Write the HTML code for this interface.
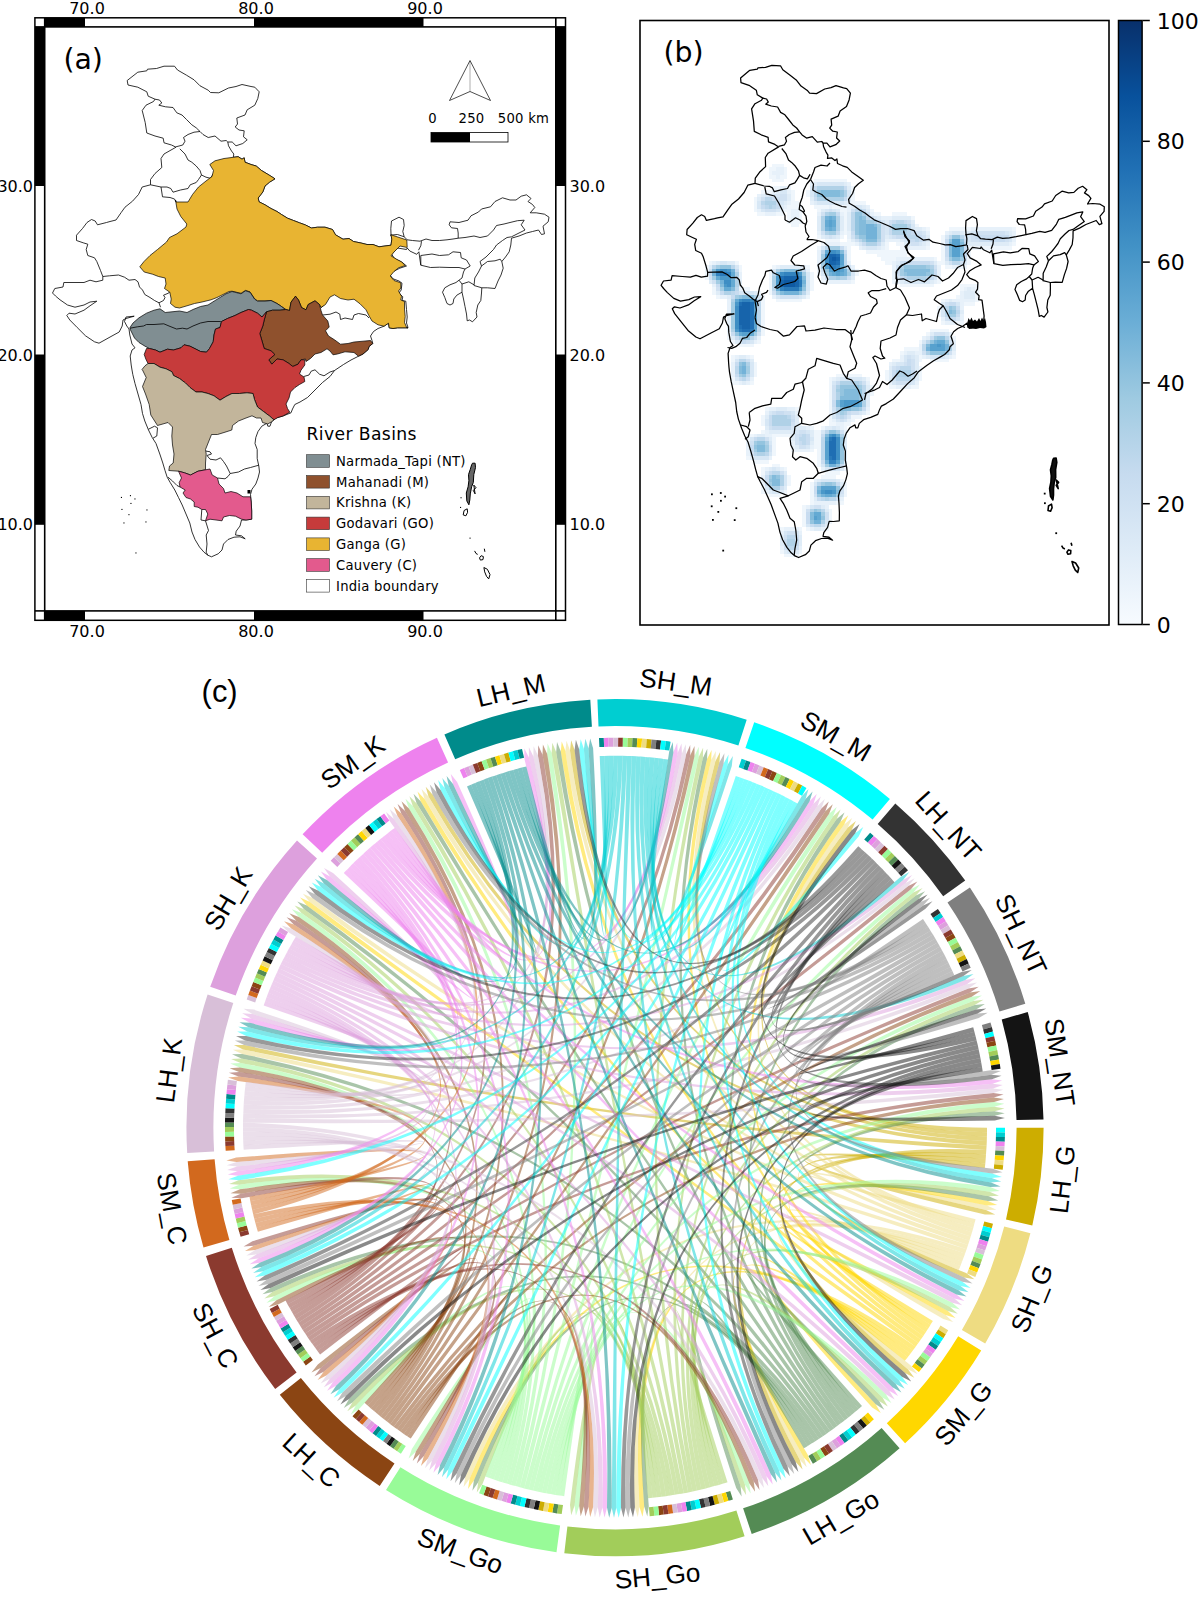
<!DOCTYPE html>
<html><head><meta charset="utf-8"><title>Figure</title><style>html,body{margin:0;padding:0;background:#fff}svg{display:block}</style></head><body>
<svg width="1200" height="1597" viewBox="0 0 1200 1597">
<g id="pa">
<rect x="34.15" y="17.05" width="532.1" height="604" fill="#000"/>
<rect x="45.5" y="27.7" width="509.5" height="582.4" fill="#fff"/>
<rect x="35.65" y="18.55" width="8.25" height="7.55" fill="#fff"/>
<rect x="85.00" y="18.55" width="169.00" height="7.55" fill="#fff"/>
<rect x="423.50" y="18.55" width="131.50" height="7.55" fill="#fff"/>
<rect x="556.60" y="18.55" width="8.15" height="7.55" fill="#fff"/>
<rect x="35.65" y="611.70" width="8.25" height="7.85" fill="#fff"/>
<rect x="85.00" y="611.70" width="169.00" height="7.85" fill="#fff"/>
<rect x="423.50" y="611.70" width="131.50" height="7.85" fill="#fff"/>
<rect x="556.60" y="611.70" width="8.15" height="7.85" fill="#fff"/>
<rect x="35.65" y="186.00" width="8.25" height="168.50" fill="#fff"/>
<rect x="35.65" y="524.80" width="8.25" height="85.30" fill="#fff"/>
<rect x="556.60" y="186.00" width="8.15" height="168.50" fill="#fff"/>
<rect x="556.60" y="524.80" width="8.15" height="85.30" fill="#fff"/>
<g fill="none" stroke="#000" stroke-width="0.8" stroke-linejoin="round">
<path d="M110.0,221.5 L116.0,220.0 L121.2,212.5 L125.0,207.2 L132.5,201.2 L138.5,194.5 L142.2,187.0 L150.5,184.8 L150.5,179.5 L155.0,173.5 L161.8,167.5 L161.0,158.5 L164.0,154.0 L176.0,147.2 L171.5,145.0 L164.0,142.8 L163.2,138.2 L155.0,136.0 L146.8,133.0 L145.2,122.5 L142.2,110.5 L146.0,105.2 L153.5,101.5 L155.0,99.2 L148.2,96.2 L146.8,91.8 L137.8,87.2 L128.0,85.0 L127.2,80.5 L134.0,75.2 L137.8,72.2 L146.8,70.8 L147.5,69.2 L156.5,68.5 L164.0,66.2 L174.5,66.2 L177.5,70.0 L186.5,75.2 L194.0,79.8 L200.0,85.8 L208.2,90.2 L210.5,92.5 L218.8,92.8 L228.5,88.0 L236.0,86.5 L242.0,84.5 L251.0,86.5 L254.8,87.2 L259.2,91.8 L257.8,98.5 L254.8,105.2 L247.2,109.8 L245.0,115.0 L236.8,118.0 L237.5,124.0 L235.2,127.0 L239.0,130.0 L244.2,130.8 L243.5,136.8 L247.2,139.8 L242.8,143.5 L236.0,145.8 L232.2,142.0 L227.8,142.0 L228.5,145.8 L231.5,151.0 L233.8,154.0 L233.3,157.3 L238.2,156.7 L242.0,159.2 L244.2,157.8 L245.0,162.2 L251.0,164.5 L256.2,166.0 L261.5,170.5 L269.0,175.0 L275.0,178.8 L269.5,182.2 L265.0,186.0 L262.8,192.0 L258.2,198.0 L259.0,201.8 L265.0,204.8 L271.0,208.5 L277.0,211.5 L281.5,214.5 L287.5,218.2 L293.5,220.5 L299.5,222.8 L305.5,225.0 L311.5,228.0 L317.5,227.2 L325.0,227.2 L332.5,229.5 L335.5,234.8 L343.0,239.2 L349.0,238.5 L353.5,241.5 L361.0,243.0 L367.0,244.5 L373.0,244.5 L379.0,246.8 L385.0,246.0 L391.0,245.2 L391.8,239.2 L391.0,234.0 L390.8,228.5 L391.5,221.0 L399.0,217.2 L403.5,219.5 L404.2,225.5 L402.8,231.5 L404.2,236.8 L407.2,239.8 L412.5,240.5 L420.0,241.2 L426.0,239.0 L432.0,240.5 L439.5,240.5 L447.0,239.8 L453.0,239.0 L458.2,238.2 L458.2,233.0 L457.5,228.5 L451.5,227.8 L449.2,224.8 L450.0,221.8 L459.0,222.5 L468.0,220.2 L471.0,215.8 L478.5,212.0 L481.5,209.0 L490.5,206.8 L495.0,201.5 L502.5,197.8 L510.0,200.0 L516.0,200.0 L521.2,196.2 L526.5,194.8 L531.0,198.5 L528.0,201.5 L532.5,204.5 L534.8,207.5 L530.2,212.8 L536.2,212.8 L544.5,214.2 L549.0,217.2 L548.2,221.8 L543.0,226.2 L544.5,233.8 L541.5,234.5 L538.5,230.0 L532.5,231.5 L526.5,233.0 L519.0,236.0 L511.5,238.2 L510.8,245.0 L509.2,251.8 L505.5,257.0 L501.8,261.5 L503.2,268.2 L501.0,275.0 L498.0,281.0 L495.0,288.5 L487.5,287.8 L481.8,287.8 L481.5,293.0 L480.8,300.5 L477.8,305.0 L476.2,312.5 L477.0,317.0 L472.5,321.8 L469.5,320.0 L467.2,320.8 L466.5,314.0 L465.0,306.5 L463.5,299.0 L462.0,292.2 L456.8,295.2 L453.8,299.0 L453.0,303.5 L450.0,305.0 L447.0,303.5 L444.8,297.5 L442.5,292.2 L444.8,287.8 L450.0,284.8 L456.0,282.5 L459.0,280.2 L462.0,278.0 L463.5,272.0 L465.0,269.0 L459.0,267.5 L450.0,267.5 L439.5,267.2 L430.5,267.5 L420.8,265.2 L420.0,260.0 L418.9,251.8 L416.7,254.3 L409.8,251.0 L407.2,248.0 L406.5,249.5 L397.5,248.0 L391.5,254.0 L394.5,258.5 L402.0,262.2 L406.5,266.0 L399.8,268.2 L393.8,271.2 L390.0,275.0 L393.0,278.8 L399.0,281.0 L402.0,283.2 L401.2,290.0 L399.0,293.0 L402.8,296.8 L402.0,300.5 L405.8,301.2 L406.5,309.5 L407.2,317.0 L406.5,323.0 L408.0,327.5 L408.0,327.8 L402.0,327.8 L397.5,327.8 L393.0,328.5 L389.2,327.8 L388.5,323.2 L384.0,326.2 L378.0,328.5 L373.5,331.5 L370.5,336.0 L372.0,340.5 L372.8,343.5 L369.0,346.5 L368.2,349.5 L363.0,354.0 L358.5,356.2 L351.0,360.0 L343.5,364.5 L334.5,370.5 L330.0,376.5 L322.5,382.5 L315.0,390.0 L307.5,397.5 L300.0,402.0 L294.8,404.5 L292.5,409.0 L291.0,412.8 L283.5,415.8 L276.0,418.0 L271.5,421.8 L270.0,426.2 L267.8,426.2 L267.0,423.2 L261.8,426.2 L258.0,431.5 L255.8,437.5 L255.0,443.5 L257.2,449.5 L257.2,458.5 L258.8,466.0 L259.5,472.0 L258.0,478.0 L255.8,484.0 L252.0,489.2 L250.5,494.5 L251.2,502.0 L251.7,511.0 L251.7,519.2 L246.0,520.0 L241.5,520.0 L240.0,526.0 L236.2,531.2 L235.5,535.0 L241.5,535.8 L245.2,538.8 L240.0,536.8 L234.0,537.2 L228.0,539.5 L223.5,544.0 L222.0,550.0 L218.2,553.8 L211.5,556.8 L207.8,555.2 L204.0,552.2 L199.5,547.0 L195.0,539.5 L192.0,532.0 L189.8,523.0 L186.0,514.0 L182.2,505.0 L178.5,497.5 L174.8,490.0 L170.2,482.5 L167.2,477.2 L165.0,470.5 L162.8,463.0 L159.8,454.0 L156.0,443.5 L152.2,437.5 L148.5,430.0 L144.8,421.0 L142.5,413.5 L141.0,404.5 L138.0,394.0 L135.0,383.5 L132.8,374.5 L132.0,370.0 L131.2,365.0 L130.2,356.0 L132.0,350.0 L135.0,347.8 L132.0,344.0 L129.8,335.0 L129.0,329.0 L126.8,326.0 L124.5,321.5 L126.0,317.0 L134.2,316.2 L126.0,318.5 L123.0,320.0 L122.2,326.0 L119.2,332.0 L111.0,336.5 L99.0,343.2 L94.5,341.8 L85.5,335.8 L77.2,327.5 L69.8,320.0 L66.8,315.5 L69.0,313.2 L75.0,314.0 L84.0,310.2 L90.0,305.8 L96.8,301.2 L90.0,302.0 L84.0,305.0 L75.0,307.2 L67.5,305.0 L60.0,299.8 L55.5,296.0 L52.5,293.0 L54.8,288.5 L63.0,287.0 L63.8,282.5 L75.0,282.5 L84.0,282.5 L90.0,280.2 L96.0,281.8 L102.8,280.2 L102.8,276.5 L100.5,270.5 L96.8,261.5 L94.5,257.8 L87.8,255.5 L86.2,249.5 L87.8,244.2 L83.2,242.8 L76.5,240.5 L76.5,235.2 L82.5,228.5 L87.0,222.5 L91.5,219.5 L95.2,221.0 L97.5,224.8 L106.5,222.5Z" fill="#fff"/>
<path d="M155.0,99.2 L159.5,100.0 L161.8,103.0 L158.8,105.2 L165.5,106.8 L173.0,107.5 L176.8,112.8 L182.0,115.0 L186.5,119.5 L191.8,124.8 L196.2,127.8 L200.0,131.5 L203.0,134.5 L208.2,137.5 L215.0,136.0 L221.0,141.2 L226.2,140.5 L227.8,142.0"/>
<path d="M200.0,131.5 L194.0,132.2 L188.0,134.5 L183.5,137.5 L185.0,141.2 L182.8,145.0 L176.0,146.8"/>
<path d="M179.8,148.8 L185.0,154.0 L188.0,160.0 L191.8,162.2 L196.2,166.0 L200.0,170.5 L201.5,175.0 L206.0,177.2 L210.5,178.3 L213.5,173.5"/>
<path d="M150.5,184.8 L161.0,187.0 L167.0,187.0 L170.8,188.5 L173.0,192.2 L180.5,190.0 L188.0,188.5 L190.2,184.8 L196.2,182.5 L198.5,179.5 L201.5,175.0"/>
<path d="M161.0,187.0 L162.5,196.8 L170.0,197.5 L174.5,199.0 L176.0,202.0"/>
<path d="M102.8,276.5 L109.5,275.8 L118.5,275.0 L124.5,277.2 L129.0,280.2 L135.0,279.5 L138.0,281.8 L139.5,287.0 L142.5,290.0 L144.8,294.5 L150.0,297.5 L154.5,300.5 L159.0,302.8 L160.5,307.2"/>
<path d="M159.0,302.8 L163.5,300.5 L165.0,297.5 L163.5,295.2 L168.8,293.0 L170.2,290.8"/>
<path d="M148.5,429.2 L154.5,426.2 L157.5,427.8 L156.8,436.0 L153.0,438.2"/>
<path d="M168.0,477.2 L172.5,481.0 L177.0,485.5 L180.0,487.0"/>
<path d="M201.8,509.5 L201.0,520.0 L205.5,520.8 L208.5,530.5 L206.2,535.0 L207.0,544.0 L206.2,552.2 L207.8,555.2"/>
<path d="M205.5,451.0 L210.0,451.8 L211.5,454.0 L207.0,455.5 L210.0,459.2 L216.0,460.0 L220.5,457.8 L223.5,461.5 L226.5,466.0 L230.2,473.5 L238.5,472.0 L244.5,469.0 L250.5,467.5 L258.8,465.2"/>
<path d="M230.2,473.5 L228.0,476.5 L225.0,478.8 L217.5,478.0"/>
<path d="M322.5,315.0 L330.0,314.2 L336.0,312.0 L339.8,314.2 L340.5,319.5 L345.0,318.0 L352.5,319.5 L354.0,315.0 L358.5,313.5 L366.0,315.0 L369.0,318.0"/>
<path d="M321.0,307.5 L323.2,306.0 L326.2,302.2 L321.8,299.2"/>
<path d="M303.8,376.5 L309.0,375.0 L311.2,371.2 L315.0,369.8 L319.5,374.2 L324.0,375.8 L330.0,372.0 L334.5,370.5"/>
<path d="M390.0,235.2 L397.5,234.5 L404.2,236.8"/>
<path d="M421.5,241.2 L420.8,245.8 L418.5,250.2"/>
<path d="M458.2,238.2 L465.0,237.5 L474.0,236.0 L480.0,237.5 L487.5,236.0 L493.5,230.0 L496.5,225.5 L504.0,224.0 L510.0,222.5 L517.5,220.7 L524.2,220.2 L521.2,224.8 L525.0,230.0 L519.0,233.0 L511.5,236.8"/>
<path d="M511.5,236.8 L507.0,237.5 L502.5,240.5 L496.5,245.0 L493.5,249.5 L489.0,254.0 L486.0,257.0 L480.0,261.5 L481.5,266.0"/>
<path d="M481.5,266.0 L487.5,261.5 L495.0,260.8 L500.2,259.2 L501.8,261.5"/>
<path d="M481.5,266.0 L478.5,272.0 L474.8,278.0 L474.0,285.5 L481.8,287.8"/>
<path d="M420.8,265.2 L420.8,255.5 L432.0,254.0 L439.5,255.5 L448.5,254.8 L453.0,251.8 L460.5,252.5 L461.2,257.8 L466.5,260.0 L470.2,266.0 L465.0,269.0"/>
<path d="M462.0,292.2 L462.0,284.0 L468.8,281.8 L474.0,284.8"/>
<path d="M459.0,280.2 L462.0,284.0"/>
<path d="M233.3,157.3 L238.2,156.7 L242.0,159.2 L244.2,157.8 L245.0,162.2 L251.0,164.5 L256.2,166.0 L261.5,170.5 L269.0,175.0 L275.0,178.8 L269.5,182.2 L265.0,186.0 L262.8,192.0 L258.2,198.0 L259.0,201.8 L265.0,204.8 L271.0,208.5 L277.0,211.5 L281.5,214.5 L287.5,218.2 L293.5,220.5 L299.5,222.8 L305.5,225.0 L311.5,228.0 L317.5,227.2 L325.0,227.2 L332.5,229.5 L335.5,234.8 L343.0,239.2 L349.0,238.5 L353.5,241.5 L361.0,243.0 L367.0,244.5 L373.0,244.5 L379.0,246.8 L385.0,246.0 L391.0,245.2 L391.8,239.2 L391.0,234.8 L406.8,240.0 L407.2,247.5 L400.0,246.0 L394.0,252.0 L391.0,255.8 L397.0,259.5 L401.5,261.8 L405.2,265.5 L398.5,267.8 L394.0,271.5 L390.2,276.0 L394.0,280.5 L400.8,282.8 L400.8,288.0 L398.5,291.0 L401.5,296.2 L400.8,300.0 L404.5,301.5 L404.5,309.0 L405.2,316.5 L404.5,322.5 L406.8,327.8 L408.0,327.8 L402.0,327.8 L397.5,327.8 L393.0,328.5 L389.2,327.8 L388.5,323.2 L384.0,326.2 L378.0,324.8 L372.0,321.0 L369.0,315.8 L366.0,309.8 L360.0,303.8 L354.0,299.2 L348.0,300.0 L340.5,298.5 L334.5,294.8 L330.0,297.0 L325.5,304.5 L321.0,307.5 L319.5,304.5 L315.0,300.8 L308.2,304.5 L306.0,309.8 L301.5,307.5 L298.5,300.0 L295.5,296.2 L291.0,302.2 L289.5,310.5 L286.0,309.5 L281.5,306.5 L277.0,303.5 L271.0,300.5 L265.0,300.8 L257.5,300.8 L254.5,298.7 L250.0,291.9 L245.5,290.4 L241.0,293.3 L232.0,291.2 L229.0,291.5 L223.0,294.5 L217.0,297.5 L211.0,299.8 L202.0,302.0 L194.5,303.5 L187.0,305.8 L179.5,308.0 L175.0,307.2 L170.5,303.5 L171.2,299.0 L169.8,292.2 L164.5,288.5 L166.0,284.0 L165.2,278.0 L158.5,276.5 L152.5,274.2 L144.2,272.0 L139.8,266.8 L144.0,261.5 L150.0,255.5 L157.5,249.5 L166.5,242.0 L169.5,237.5 L177.0,233.8 L186.0,227.0 L186.8,224.0 L180.8,216.5 L177.0,209.0 L175.5,200.0 L176.0,202.0 L188.0,202.0 L192.5,194.5 L198.5,187.0 L206.0,181.0 L212.0,176.5 L213.5,170.5 L209.8,164.5 L215.0,160.8 L224.0,158.5Z" fill="#e8b432" stroke-width="0.7"/>
<path d="M130.0,327.5 L133.0,323.0 L139.0,317.8 L146.5,313.2 L154.0,310.2 L160.0,308.8 L165.2,312.5 L172.0,311.8 L179.5,311.0 L187.0,312.5 L193.0,309.5 L200.5,306.5 L208.0,305.0 L214.0,301.2 L220.0,297.5 L226.0,293.8 L232.0,291.5 L241.0,293.8 L245.5,290.8 L250.0,292.2 L254.5,299.0 L257.5,301.2 L265.0,301.2 L271.0,300.5 L277.0,303.5 L281.5,306.5 L285.2,309.5 L280.0,310.2 L272.5,310.2 L266.5,311.8 L262.0,317.0 L257.5,313.2 L251.5,310.2 L248.5,309.5 L241.0,312.5 L235.0,315.5 L227.5,318.5 L221.5,321.5 L220.0,327.5 L215.5,329.0 L214.0,335.0 L213.2,341.8 L209.5,348.5 L206.5,352.2 L200.5,351.5 L196.0,349.2 L190.0,346.2 L184.0,344.8 L181.0,347.8 L173.5,350.0 L167.5,349.2 L160.0,352.2 L155.5,350.0 L149.5,348.5 L145.0,346.2 L139.0,342.5 L134.5,338.0 L131.5,332.0 L130.0,329.0Z" fill="#808e92" stroke-width="0.7"/>
<path d="M286.0,309.5 L280.0,310.2 L272.5,310.2 L266.5,311.8 L264.2,320.0 L262.8,326.0 L259.8,333.5 L262.0,341.0 L264.2,348.5 L271.0,350.8 L274.8,354.5 L268.8,359.8 L271.8,364.2 L277.0,359.0 L283.0,359.8 L289.0,363.5 L292.8,366.5 L298.0,364.2 L301.0,359.8 L305.5,359.0 L306.0,361.5 L310.5,358.5 L315.0,354.0 L321.0,352.5 L327.0,348.8 L330.0,351.0 L333.0,354.8 L337.5,354.0 L345.0,351.8 L354.0,352.5 L358.5,356.2 L363.0,354.0 L368.2,349.5 L369.0,346.5 L372.8,343.5 L370.5,340.5 L363.0,341.2 L354.0,342.0 L348.0,343.5 L340.5,344.2 L334.5,339.8 L328.5,336.0 L325.5,330.8 L329.2,327.0 L327.8,321.0 L322.5,315.0 L321.0,310.5 L319.5,304.5 L315.0,300.8 L308.2,304.5 L306.0,309.8 L301.5,307.5 L298.5,300.0 L295.5,296.2 L291.0,302.2 L289.5,310.5Z" fill="#8f512d" stroke-width="0.7"/>
<path d="M144.2,354.5 L146.5,348.5 L149.5,348.5 L155.5,350.0 L160.0,352.2 L167.5,349.2 L173.5,350.0 L181.0,347.8 L184.0,344.8 L190.0,346.2 L196.0,349.2 L200.5,351.5 L206.5,352.2 L209.5,348.5 L213.2,341.8 L214.0,335.0 L215.5,329.0 L220.0,327.5 L221.5,321.5 L227.5,318.5 L235.0,315.5 L241.0,312.5 L248.5,309.5 L251.5,310.2 L257.5,313.2 L262.0,317.0 L266.5,311.8 L264.2,320.0 L262.8,326.0 L259.8,333.5 L262.0,341.0 L264.2,348.5 L271.0,350.8 L274.8,354.5 L268.8,359.8 L271.8,364.2 L277.0,359.0 L283.0,359.8 L289.0,363.5 L292.8,366.5 L298.0,364.2 L301.0,359.8 L304.8,359.8 L304.8,365.0 L301.0,370.2 L299.5,374.0 L304.0,377.0 L304.8,381.5 L299.5,384.5 L295.0,387.5 L290.5,392.0 L289.0,398.0 L286.0,404.0 L287.5,408.5 L289.8,412.2 L283.0,416.0 L277.8,417.5 L274.0,419.8 L269.5,416.0 L263.5,411.5 L257.5,407.0 L254.5,399.5 L253.0,393.5 L247.0,392.8 L239.5,393.5 L232.0,393.5 L226.0,396.5 L220.0,400.2 L214.0,395.8 L208.0,393.5 L202.0,392.0 L196.0,392.0 L190.0,387.5 L185.5,383.0 L179.5,378.5 L173.5,375.5 L172.0,371.8 L166.0,368.8 L160.0,367.2 L154.0,363.5 L148.0,363.5 L145.8,359.0Z" fill="#c63b3b" stroke-width="0.7"/>
<path d="M142.0,369.5 L145.0,365.8 L148.0,363.5 L154.0,363.5 L160.0,367.2 L166.0,368.8 L172.0,371.8 L173.5,375.5 L179.5,378.5 L185.5,383.0 L190.0,387.5 L196.0,392.0 L202.0,392.0 L208.0,393.5 L214.0,395.8 L220.0,400.2 L226.0,396.5 L232.0,393.5 L239.5,393.5 L247.0,392.8 L253.0,393.5 L254.5,399.5 L257.5,407.0 L263.5,411.5 L269.5,416.0 L274.0,419.8 L271.5,421.8 L267.8,424.0 L262.5,422.5 L261.0,418.0 L256.5,418.0 L252.0,415.8 L246.0,418.0 L238.5,421.0 L232.5,425.5 L231.8,430.0 L225.0,432.2 L217.5,434.5 L211.5,434.5 L208.5,442.0 L205.5,449.5 L206.2,454.0 L205.5,463.0 L205.5,469.8 L198.0,471.2 L190.5,475.0 L184.5,472.8 L178.5,471.2 L168.8,470.5 L169.5,466.0 L173.2,463.0 L174.0,454.0 L172.5,445.0 L171.8,436.0 L172.5,427.0 L168.0,422.5 L157.5,425.5 L150.8,415.0 L149.2,404.5 L145.5,394.0 L142.5,386.5 L146.2,377.5 L142.5,370.0Z" fill="#c2b59b" stroke-width="0.7"/>
<path d="M178.5,471.2 L184.5,472.8 L190.5,475.0 L198.0,471.2 L205.5,469.8 L210.0,469.0 L212.2,475.0 L217.5,478.0 L219.0,484.0 L223.5,488.5 L225.0,493.0 L231.0,491.5 L237.0,493.0 L243.0,496.8 L250.5,496.8 L251.2,502.0 L251.7,511.0 L251.7,519.2 L246.0,520.0 L241.5,519.2 L235.5,516.2 L229.5,515.5 L223.5,517.0 L222.0,520.8 L216.0,520.0 L210.0,519.2 L205.5,520.8 L207.8,514.0 L205.5,509.5 L201.8,509.5 L198.0,507.2 L194.2,506.5 L194.2,502.0 L190.5,499.0 L186.0,497.5 L183.0,493.0 L185.2,490.0 L180.0,487.0 L179.2,482.5 L181.5,478.0Z" fill="#e35a8d" stroke-width="0.7"/>
<path d="M130.0,328.2 L137.5,326.8 L143.5,326.0 L146.5,324.5 L154.0,324.5 L163.8,323.8 L169.0,326.0 L176.5,329.0 L182.5,328.2 L187.0,329.0 L193.0,326.0 L200.5,323.0 L208.0,321.5 L214.0,321.5 L220.8,321.5"/>
<path d="M472.5,463.2 L475.1,463.2 L475.5,467.5 L473.8,474.6 L473.3,482.5 L471.6,486.8 L470.3,493.9 L469.8,500.0 L468.9,504.8 L466.8,500.9 L466.3,493.0 L468.1,486.8 L468.9,480.7 L468.5,474.6 L470.3,469.3 L471.6,464.9Z" stroke-width="1.0" fill="#666"/>
<path d="M473.8,485.1 L476.0,487.7 L473.3,490.4 L475.1,493.9Z" stroke-width="1.0"/>
<path d="M463.2,514.9 L464.1,510.5 L467.2,508.8 L467.6,512.3 L465.9,515.8Z" stroke-width="1.0"/>
<path d="M483.9,567.5 L487.4,569.3 L490.0,574.6 L488.7,578.9 L486.5,576.3 L484.7,571.9Z" stroke-width="1.0"/>
<path d="M479.5,557.9 L481.2,555.7 L483.4,556.6 L483.0,559.6 L480.4,560.1Z" stroke-width="1.0"/>
<path d="M474.6,550.9 L476.0,553.5 L477.7,554.4" stroke-width="1.0"/>
<path d="M484.3,548.7 L484.9,551.8" stroke-width="1.0"/>
</g>
<rect x="120.9" y="496.9" width="1.1" height="1.1" fill="#000"/>
<rect x="129.9" y="495.1" width="1.1" height="1.1" fill="#000"/>
<rect x="134.4" y="498.4" width="1.1" height="1.1" fill="#000"/>
<rect x="130.4" y="502.9" width="1.1" height="1.1" fill="#000"/>
<rect x="121.4" y="508.9" width="1.1" height="1.1" fill="#000"/>
<rect x="128.4" y="514.1" width="1.1" height="1.1" fill="#000"/>
<rect x="146.4" y="509.4" width="1.1" height="1.1" fill="#000"/>
<rect x="123.4" y="522.4" width="1.1" height="1.1" fill="#000"/>
<rect x="145.4" y="521.4" width="1.1" height="1.1" fill="#000"/>
<rect x="135.4" y="552.4" width="1.1" height="1.1" fill="#000"/>
<rect x="460.5" y="497.2" width="1.1" height="1.1" fill="#000"/>
<rect x="460.0" y="506.9" width="1.1" height="1.1" fill="#000"/>
<rect x="469.5" y="537.6" width="1.1" height="1.1" fill="#000"/>
<rect x="247.5" y="490" width="3" height="3.5" fill="#000"/>
</g>
<g id="pb">
<rect x="640" y="20.5" width="469" height="604.5" fill="#fff" stroke="#000" stroke-width="1.6"/>
<g shape-rendering="crispEdges">
<rect x="772.25" y="163.50" width="11.30" height="3.80" fill="#eff6fc"/>
<rect x="768.50" y="167.25" width="7.55" height="3.80" fill="#eff6fc"/>
<rect x="776.00" y="167.25" width="7.55" height="3.80" fill="#e7f1fa"/>
<rect x="783.50" y="167.25" width="3.80" height="3.80" fill="#eff6fc"/>
<rect x="768.50" y="171.00" width="3.80" height="3.80" fill="#eff6fc"/>
<rect x="772.25" y="171.00" width="11.30" height="3.80" fill="#e7f1fa"/>
<rect x="783.50" y="171.00" width="3.80" height="3.80" fill="#eff6fc"/>
<rect x="768.50" y="174.75" width="7.55" height="3.80" fill="#eff6fc"/>
<rect x="776.00" y="174.75" width="3.80" height="3.80" fill="#e7f1fa"/>
<rect x="779.75" y="174.75" width="7.55" height="3.80" fill="#eff6fc"/>
<rect x="772.25" y="178.50" width="11.30" height="3.80" fill="#eff6fc"/>
<rect x="813.50" y="178.50" width="33.80" height="3.80" fill="#eff6fc"/>
<rect x="809.75" y="182.25" width="3.80" height="3.80" fill="#e7f1fa"/>
<rect x="813.50" y="182.25" width="3.80" height="3.80" fill="#dfecf7"/>
<rect x="817.25" y="182.25" width="26.30" height="3.80" fill="#d7e7f5"/>
<rect x="843.50" y="182.25" width="3.80" height="3.80" fill="#dfecf7"/>
<rect x="847.25" y="182.25" width="3.80" height="3.80" fill="#e7f1fa"/>
<rect x="772.25" y="186.00" width="7.55" height="3.80" fill="#eff6fc"/>
<rect x="779.75" y="186.00" width="7.55" height="3.80" fill="#e7f1fa"/>
<rect x="787.25" y="186.00" width="3.80" height="3.80" fill="#eff6fc"/>
<rect x="809.75" y="186.00" width="3.80" height="3.80" fill="#dfecf7"/>
<rect x="813.50" y="186.00" width="3.80" height="3.80" fill="#c8dcf0"/>
<rect x="817.25" y="186.00" width="26.30" height="3.80" fill="#b0d1e7"/>
<rect x="843.50" y="186.00" width="3.80" height="3.80" fill="#c8dcf0"/>
<rect x="847.25" y="186.00" width="3.80" height="3.80" fill="#dfecf7"/>
<rect x="851.00" y="186.00" width="3.80" height="3.80" fill="#eff6fc"/>
<rect x="761.00" y="189.75" width="11.30" height="3.80" fill="#eff6fc"/>
<rect x="772.25" y="189.75" width="3.80" height="3.80" fill="#e7f1fa"/>
<rect x="776.00" y="189.75" width="3.80" height="3.80" fill="#dfecf7"/>
<rect x="779.75" y="189.75" width="7.55" height="3.80" fill="#d7e7f5"/>
<rect x="787.25" y="189.75" width="3.80" height="3.80" fill="#e7f1fa"/>
<rect x="791.00" y="189.75" width="3.80" height="3.80" fill="#eff6fc"/>
<rect x="806.00" y="189.75" width="3.80" height="3.80" fill="#eff6fc"/>
<rect x="809.75" y="189.75" width="3.80" height="3.80" fill="#d7e7f5"/>
<rect x="813.50" y="189.75" width="3.80" height="3.80" fill="#bcd7ec"/>
<rect x="817.25" y="189.75" width="3.80" height="3.80" fill="#94c4df"/>
<rect x="821.00" y="189.75" width="18.80" height="3.80" fill="#83bbdb"/>
<rect x="839.75" y="189.75" width="3.80" height="3.80" fill="#94c4df"/>
<rect x="843.50" y="189.75" width="3.80" height="3.80" fill="#b0d1e7"/>
<rect x="847.25" y="189.75" width="3.80" height="3.80" fill="#d7e7f5"/>
<rect x="851.00" y="189.75" width="3.80" height="3.80" fill="#eff6fc"/>
<rect x="757.25" y="193.50" width="3.80" height="3.80" fill="#e7f1fa"/>
<rect x="761.00" y="193.50" width="3.80" height="3.80" fill="#dfecf7"/>
<rect x="764.75" y="193.50" width="15.05" height="3.80" fill="#d7e7f5"/>
<rect x="779.75" y="193.50" width="7.55" height="3.80" fill="#d0e1f2"/>
<rect x="787.25" y="193.50" width="3.80" height="3.80" fill="#dfecf7"/>
<rect x="791.00" y="193.50" width="3.80" height="3.80" fill="#eff6fc"/>
<rect x="806.00" y="193.50" width="3.80" height="3.80" fill="#eff6fc"/>
<rect x="809.75" y="193.50" width="3.80" height="3.80" fill="#d7e7f5"/>
<rect x="813.50" y="193.50" width="3.80" height="3.80" fill="#bcd7ec"/>
<rect x="817.25" y="193.50" width="3.80" height="3.80" fill="#94c4df"/>
<rect x="821.00" y="193.50" width="18.80" height="3.80" fill="#83bbdb"/>
<rect x="839.75" y="193.50" width="3.80" height="3.80" fill="#94c4df"/>
<rect x="843.50" y="193.50" width="3.80" height="3.80" fill="#b0d1e7"/>
<rect x="847.25" y="193.50" width="3.80" height="3.80" fill="#d7e7f5"/>
<rect x="851.00" y="193.50" width="3.80" height="3.80" fill="#eff6fc"/>
<rect x="753.50" y="197.25" width="3.80" height="3.80" fill="#eff6fc"/>
<rect x="757.25" y="197.25" width="3.80" height="3.80" fill="#dfecf7"/>
<rect x="761.00" y="197.25" width="3.80" height="3.80" fill="#d0e1f2"/>
<rect x="764.75" y="197.25" width="7.55" height="3.80" fill="#bcd7ec"/>
<rect x="772.25" y="197.25" width="3.80" height="3.80" fill="#c8dcf0"/>
<rect x="776.00" y="197.25" width="11.30" height="3.80" fill="#d0e1f2"/>
<rect x="787.25" y="197.25" width="3.80" height="3.80" fill="#dfecf7"/>
<rect x="791.00" y="197.25" width="3.80" height="3.80" fill="#eff6fc"/>
<rect x="809.75" y="197.25" width="3.80" height="3.80" fill="#dfecf7"/>
<rect x="813.50" y="197.25" width="3.80" height="3.80" fill="#c8dcf0"/>
<rect x="817.25" y="197.25" width="26.30" height="3.80" fill="#b0d1e7"/>
<rect x="843.50" y="197.25" width="3.80" height="3.80" fill="#c8dcf0"/>
<rect x="847.25" y="197.25" width="3.80" height="3.80" fill="#dfecf7"/>
<rect x="851.00" y="197.25" width="3.80" height="3.80" fill="#eff6fc"/>
<rect x="753.50" y="201.00" width="3.80" height="3.80" fill="#eff6fc"/>
<rect x="757.25" y="201.00" width="3.80" height="3.80" fill="#d7e7f5"/>
<rect x="761.00" y="201.00" width="3.80" height="3.80" fill="#bcd7ec"/>
<rect x="764.75" y="201.00" width="11.30" height="3.80" fill="#b0d1e7"/>
<rect x="776.00" y="201.00" width="3.80" height="3.80" fill="#c8dcf0"/>
<rect x="779.75" y="201.00" width="3.80" height="3.80" fill="#d7e7f5"/>
<rect x="783.50" y="201.00" width="3.80" height="3.80" fill="#dfecf7"/>
<rect x="787.25" y="201.00" width="3.80" height="3.80" fill="#e7f1fa"/>
<rect x="791.00" y="201.00" width="7.55" height="3.80" fill="#eff6fc"/>
<rect x="809.75" y="201.00" width="3.80" height="3.80" fill="#e7f1fa"/>
<rect x="813.50" y="201.00" width="3.80" height="3.80" fill="#dfecf7"/>
<rect x="817.25" y="201.00" width="26.30" height="3.80" fill="#d7e7f5"/>
<rect x="843.50" y="201.00" width="3.80" height="3.80" fill="#dfecf7"/>
<rect x="847.25" y="201.00" width="3.80" height="3.80" fill="#e7f1fa"/>
<rect x="851.00" y="201.00" width="15.05" height="3.80" fill="#eff6fc"/>
<rect x="753.50" y="204.75" width="3.80" height="3.80" fill="#eff6fc"/>
<rect x="757.25" y="204.75" width="3.80" height="3.80" fill="#d7e7f5"/>
<rect x="761.00" y="204.75" width="3.80" height="3.80" fill="#c8dcf0"/>
<rect x="764.75" y="204.75" width="3.80" height="3.80" fill="#bcd7ec"/>
<rect x="768.50" y="204.75" width="3.80" height="3.80" fill="#b0d1e7"/>
<rect x="772.25" y="204.75" width="3.80" height="3.80" fill="#bcd7ec"/>
<rect x="776.00" y="204.75" width="3.80" height="3.80" fill="#c8dcf0"/>
<rect x="779.75" y="204.75" width="3.80" height="3.80" fill="#dfecf7"/>
<rect x="783.50" y="204.75" width="3.80" height="3.80" fill="#e7f1fa"/>
<rect x="787.25" y="204.75" width="15.05" height="3.80" fill="#eff6fc"/>
<rect x="813.50" y="204.75" width="15.05" height="3.80" fill="#eff6fc"/>
<rect x="828.50" y="204.75" width="3.80" height="3.80" fill="#e7f1fa"/>
<rect x="832.25" y="204.75" width="15.05" height="3.80" fill="#eff6fc"/>
<rect x="847.25" y="204.75" width="3.80" height="3.80" fill="#e7f1fa"/>
<rect x="851.00" y="204.75" width="3.80" height="3.80" fill="#dfecf7"/>
<rect x="854.75" y="204.75" width="7.55" height="3.80" fill="#d7e7f5"/>
<rect x="862.25" y="204.75" width="3.80" height="3.80" fill="#dfecf7"/>
<rect x="866.00" y="204.75" width="3.80" height="3.80" fill="#e7f1fa"/>
<rect x="753.50" y="208.50" width="3.80" height="3.80" fill="#eff6fc"/>
<rect x="757.25" y="208.50" width="3.80" height="3.80" fill="#e7f1fa"/>
<rect x="761.00" y="208.50" width="3.80" height="3.80" fill="#d7e7f5"/>
<rect x="764.75" y="208.50" width="11.30" height="3.80" fill="#d0e1f2"/>
<rect x="776.00" y="208.50" width="3.80" height="3.80" fill="#d7e7f5"/>
<rect x="779.75" y="208.50" width="3.80" height="3.80" fill="#e7f1fa"/>
<rect x="783.50" y="208.50" width="7.55" height="3.80" fill="#eff6fc"/>
<rect x="791.00" y="208.50" width="7.55" height="3.80" fill="#e7f1fa"/>
<rect x="798.50" y="208.50" width="3.80" height="3.80" fill="#eff6fc"/>
<rect x="817.25" y="208.50" width="3.80" height="3.80" fill="#eff6fc"/>
<rect x="821.00" y="208.50" width="3.80" height="3.80" fill="#dfecf7"/>
<rect x="824.75" y="208.50" width="3.80" height="3.80" fill="#d7e7f5"/>
<rect x="828.50" y="208.50" width="3.80" height="3.80" fill="#d0e1f2"/>
<rect x="832.25" y="208.50" width="3.80" height="3.80" fill="#d7e7f5"/>
<rect x="836.00" y="208.50" width="3.80" height="3.80" fill="#dfecf7"/>
<rect x="839.75" y="208.50" width="7.55" height="3.80" fill="#eff6fc"/>
<rect x="847.25" y="208.50" width="3.80" height="3.80" fill="#e7f1fa"/>
<rect x="851.00" y="208.50" width="3.80" height="3.80" fill="#d0e1f2"/>
<rect x="854.75" y="208.50" width="3.80" height="3.80" fill="#bcd7ec"/>
<rect x="858.50" y="208.50" width="3.80" height="3.80" fill="#b0d1e7"/>
<rect x="862.25" y="208.50" width="3.80" height="3.80" fill="#c8dcf0"/>
<rect x="866.00" y="208.50" width="3.80" height="3.80" fill="#dfecf7"/>
<rect x="869.75" y="208.50" width="3.80" height="3.80" fill="#eff6fc"/>
<rect x="757.25" y="212.25" width="7.55" height="3.80" fill="#eff6fc"/>
<rect x="764.75" y="212.25" width="11.30" height="3.80" fill="#e7f1fa"/>
<rect x="776.00" y="212.25" width="7.55" height="3.80" fill="#eff6fc"/>
<rect x="787.25" y="212.25" width="3.80" height="3.80" fill="#eff6fc"/>
<rect x="791.00" y="212.25" width="7.55" height="3.80" fill="#e7f1fa"/>
<rect x="798.50" y="212.25" width="3.80" height="3.80" fill="#eff6fc"/>
<rect x="817.25" y="212.25" width="3.80" height="3.80" fill="#e7f1fa"/>
<rect x="821.00" y="212.25" width="3.80" height="3.80" fill="#d0e1f2"/>
<rect x="824.75" y="212.25" width="3.80" height="3.80" fill="#b0d1e7"/>
<rect x="828.50" y="212.25" width="7.55" height="3.80" fill="#a3cce3"/>
<rect x="836.00" y="212.25" width="3.80" height="3.80" fill="#c8dcf0"/>
<rect x="839.75" y="212.25" width="3.80" height="3.80" fill="#e7f1fa"/>
<rect x="843.50" y="212.25" width="3.80" height="3.80" fill="#eff6fc"/>
<rect x="847.25" y="212.25" width="3.80" height="3.80" fill="#dfecf7"/>
<rect x="851.00" y="212.25" width="3.80" height="3.80" fill="#bcd7ec"/>
<rect x="854.75" y="212.25" width="7.55" height="3.80" fill="#94c4df"/>
<rect x="862.25" y="212.25" width="3.80" height="3.80" fill="#b0d1e7"/>
<rect x="866.00" y="212.25" width="3.80" height="3.80" fill="#d0e1f2"/>
<rect x="869.75" y="212.25" width="3.80" height="3.80" fill="#e7f1fa"/>
<rect x="873.50" y="212.25" width="7.55" height="3.80" fill="#eff6fc"/>
<rect x="892.25" y="212.25" width="15.05" height="3.80" fill="#eff6fc"/>
<rect x="787.25" y="216.00" width="3.80" height="3.80" fill="#eff6fc"/>
<rect x="791.00" y="216.00" width="7.55" height="3.80" fill="#e7f1fa"/>
<rect x="798.50" y="216.00" width="3.80" height="3.80" fill="#eff6fc"/>
<rect x="817.25" y="216.00" width="3.80" height="3.80" fill="#dfecf7"/>
<rect x="821.00" y="216.00" width="3.80" height="3.80" fill="#b0d1e7"/>
<rect x="824.75" y="216.00" width="3.80" height="3.80" fill="#73b2d8"/>
<rect x="828.50" y="216.00" width="3.80" height="3.80" fill="#64aad3"/>
<rect x="832.25" y="216.00" width="3.80" height="3.80" fill="#73b2d8"/>
<rect x="836.00" y="216.00" width="3.80" height="3.80" fill="#b0d1e7"/>
<rect x="839.75" y="216.00" width="3.80" height="3.80" fill="#dfecf7"/>
<rect x="843.50" y="216.00" width="3.80" height="3.80" fill="#eff6fc"/>
<rect x="847.25" y="216.00" width="3.80" height="3.80" fill="#dfecf7"/>
<rect x="851.00" y="216.00" width="3.80" height="3.80" fill="#bcd7ec"/>
<rect x="854.75" y="216.00" width="3.80" height="3.80" fill="#94c4df"/>
<rect x="858.50" y="216.00" width="3.80" height="3.80" fill="#83bbdb"/>
<rect x="862.25" y="216.00" width="3.80" height="3.80" fill="#94c4df"/>
<rect x="866.00" y="216.00" width="3.80" height="3.80" fill="#bcd7ec"/>
<rect x="869.75" y="216.00" width="3.80" height="3.80" fill="#d0e1f2"/>
<rect x="873.50" y="216.00" width="3.80" height="3.80" fill="#d7e7f5"/>
<rect x="877.25" y="216.00" width="3.80" height="3.80" fill="#dfecf7"/>
<rect x="881.00" y="216.00" width="11.30" height="3.80" fill="#e7f1fa"/>
<rect x="892.25" y="216.00" width="18.80" height="3.80" fill="#dfecf7"/>
<rect x="911.00" y="216.00" width="3.80" height="3.80" fill="#eff6fc"/>
<rect x="787.25" y="219.75" width="15.05" height="3.80" fill="#eff6fc"/>
<rect x="817.25" y="219.75" width="3.80" height="3.80" fill="#dfecf7"/>
<rect x="821.00" y="219.75" width="3.80" height="3.80" fill="#b0d1e7"/>
<rect x="824.75" y="219.75" width="3.80" height="3.80" fill="#64aad3"/>
<rect x="828.50" y="219.75" width="3.80" height="3.80" fill="#57a1ce"/>
<rect x="832.25" y="219.75" width="3.80" height="3.80" fill="#64aad3"/>
<rect x="836.00" y="219.75" width="3.80" height="3.80" fill="#b0d1e7"/>
<rect x="839.75" y="219.75" width="3.80" height="3.80" fill="#dfecf7"/>
<rect x="843.50" y="219.75" width="3.80" height="3.80" fill="#eff6fc"/>
<rect x="847.25" y="219.75" width="3.80" height="3.80" fill="#dfecf7"/>
<rect x="851.00" y="219.75" width="3.80" height="3.80" fill="#bcd7ec"/>
<rect x="854.75" y="219.75" width="3.80" height="3.80" fill="#94c4df"/>
<rect x="858.50" y="219.75" width="7.55" height="3.80" fill="#83bbdb"/>
<rect x="866.00" y="219.75" width="7.55" height="3.80" fill="#a3cce3"/>
<rect x="873.50" y="219.75" width="3.80" height="3.80" fill="#b0d1e7"/>
<rect x="877.25" y="219.75" width="3.80" height="3.80" fill="#c8dcf0"/>
<rect x="881.00" y="219.75" width="3.80" height="3.80" fill="#d7e7f5"/>
<rect x="884.75" y="219.75" width="3.80" height="3.80" fill="#dfecf7"/>
<rect x="888.50" y="219.75" width="3.80" height="3.80" fill="#d0e1f2"/>
<rect x="892.25" y="219.75" width="3.80" height="3.80" fill="#c8dcf0"/>
<rect x="896.00" y="219.75" width="7.55" height="3.80" fill="#bcd7ec"/>
<rect x="903.50" y="219.75" width="3.80" height="3.80" fill="#c8dcf0"/>
<rect x="907.25" y="219.75" width="3.80" height="3.80" fill="#d0e1f2"/>
<rect x="911.00" y="219.75" width="3.80" height="3.80" fill="#dfecf7"/>
<rect x="791.00" y="223.50" width="7.55" height="3.80" fill="#eff6fc"/>
<rect x="817.25" y="223.50" width="3.80" height="3.80" fill="#dfecf7"/>
<rect x="821.00" y="223.50" width="3.80" height="3.80" fill="#b0d1e7"/>
<rect x="824.75" y="223.50" width="3.80" height="3.80" fill="#64aad3"/>
<rect x="828.50" y="223.50" width="3.80" height="3.80" fill="#57a1ce"/>
<rect x="832.25" y="223.50" width="3.80" height="3.80" fill="#64aad3"/>
<rect x="836.00" y="223.50" width="3.80" height="3.80" fill="#b0d1e7"/>
<rect x="839.75" y="223.50" width="3.80" height="3.80" fill="#dfecf7"/>
<rect x="843.50" y="223.50" width="3.80" height="3.80" fill="#eff6fc"/>
<rect x="847.25" y="223.50" width="3.80" height="3.80" fill="#dfecf7"/>
<rect x="851.00" y="223.50" width="3.80" height="3.80" fill="#bcd7ec"/>
<rect x="854.75" y="223.50" width="3.80" height="3.80" fill="#94c4df"/>
<rect x="858.50" y="223.50" width="7.55" height="3.80" fill="#83bbdb"/>
<rect x="866.00" y="223.50" width="7.55" height="3.80" fill="#73b2d8"/>
<rect x="873.50" y="223.50" width="3.80" height="3.80" fill="#83bbdb"/>
<rect x="877.25" y="223.50" width="3.80" height="3.80" fill="#a3cce3"/>
<rect x="881.00" y="223.50" width="3.80" height="3.80" fill="#d0e1f2"/>
<rect x="884.75" y="223.50" width="3.80" height="3.80" fill="#d7e7f5"/>
<rect x="888.50" y="223.50" width="3.80" height="3.80" fill="#c8dcf0"/>
<rect x="892.25" y="223.50" width="15.05" height="3.80" fill="#a3cce3"/>
<rect x="907.25" y="223.50" width="3.80" height="3.80" fill="#bcd7ec"/>
<rect x="911.00" y="223.50" width="3.80" height="3.80" fill="#d7e7f5"/>
<rect x="914.75" y="223.50" width="3.80" height="3.80" fill="#eff6fc"/>
<rect x="817.25" y="227.25" width="3.80" height="3.80" fill="#dfecf7"/>
<rect x="821.00" y="227.25" width="3.80" height="3.80" fill="#b0d1e7"/>
<rect x="824.75" y="227.25" width="3.80" height="3.80" fill="#73b2d8"/>
<rect x="828.50" y="227.25" width="3.80" height="3.80" fill="#64aad3"/>
<rect x="832.25" y="227.25" width="3.80" height="3.80" fill="#73b2d8"/>
<rect x="836.00" y="227.25" width="3.80" height="3.80" fill="#b0d1e7"/>
<rect x="839.75" y="227.25" width="3.80" height="3.80" fill="#dfecf7"/>
<rect x="843.50" y="227.25" width="3.80" height="3.80" fill="#eff6fc"/>
<rect x="847.25" y="227.25" width="3.80" height="3.80" fill="#dfecf7"/>
<rect x="851.00" y="227.25" width="3.80" height="3.80" fill="#bcd7ec"/>
<rect x="854.75" y="227.25" width="3.80" height="3.80" fill="#94c4df"/>
<rect x="858.50" y="227.25" width="7.55" height="3.80" fill="#83bbdb"/>
<rect x="866.00" y="227.25" width="11.30" height="3.80" fill="#73b2d8"/>
<rect x="877.25" y="227.25" width="3.80" height="3.80" fill="#a3cce3"/>
<rect x="881.00" y="227.25" width="3.80" height="3.80" fill="#d0e1f2"/>
<rect x="884.75" y="227.25" width="3.80" height="3.80" fill="#d7e7f5"/>
<rect x="888.50" y="227.25" width="3.80" height="3.80" fill="#c8dcf0"/>
<rect x="892.25" y="227.25" width="15.05" height="3.80" fill="#a3cce3"/>
<rect x="907.25" y="227.25" width="3.80" height="3.80" fill="#bcd7ec"/>
<rect x="911.00" y="227.25" width="3.80" height="3.80" fill="#d7e7f5"/>
<rect x="914.75" y="227.25" width="7.55" height="3.80" fill="#dfecf7"/>
<rect x="922.25" y="227.25" width="3.80" height="3.80" fill="#e7f1fa"/>
<rect x="926.00" y="227.25" width="3.80" height="3.80" fill="#eff6fc"/>
<rect x="948.50" y="227.25" width="22.55" height="3.80" fill="#eff6fc"/>
<rect x="971.00" y="227.25" width="41.30" height="3.80" fill="#e7f1fa"/>
<rect x="1012.25" y="227.25" width="3.80" height="3.80" fill="#eff6fc"/>
<rect x="817.25" y="231.00" width="3.80" height="3.80" fill="#e7f1fa"/>
<rect x="821.00" y="231.00" width="3.80" height="3.80" fill="#d0e1f2"/>
<rect x="824.75" y="231.00" width="3.80" height="3.80" fill="#b0d1e7"/>
<rect x="828.50" y="231.00" width="7.55" height="3.80" fill="#a3cce3"/>
<rect x="836.00" y="231.00" width="3.80" height="3.80" fill="#c8dcf0"/>
<rect x="839.75" y="231.00" width="3.80" height="3.80" fill="#e7f1fa"/>
<rect x="843.50" y="231.00" width="3.80" height="3.80" fill="#eff6fc"/>
<rect x="847.25" y="231.00" width="3.80" height="3.80" fill="#e7f1fa"/>
<rect x="851.00" y="231.00" width="3.80" height="3.80" fill="#c8dcf0"/>
<rect x="854.75" y="231.00" width="3.80" height="3.80" fill="#94c4df"/>
<rect x="858.50" y="231.00" width="7.55" height="3.80" fill="#83bbdb"/>
<rect x="866.00" y="231.00" width="11.30" height="3.80" fill="#73b2d8"/>
<rect x="877.25" y="231.00" width="3.80" height="3.80" fill="#a3cce3"/>
<rect x="881.00" y="231.00" width="3.80" height="3.80" fill="#d0e1f2"/>
<rect x="884.75" y="231.00" width="3.80" height="3.80" fill="#d7e7f5"/>
<rect x="888.50" y="231.00" width="3.80" height="3.80" fill="#c8dcf0"/>
<rect x="892.25" y="231.00" width="15.05" height="3.80" fill="#b0d1e7"/>
<rect x="907.25" y="231.00" width="3.80" height="3.80" fill="#bcd7ec"/>
<rect x="911.00" y="231.00" width="3.80" height="3.80" fill="#c8dcf0"/>
<rect x="914.75" y="231.00" width="7.55" height="3.80" fill="#d0e1f2"/>
<rect x="922.25" y="231.00" width="3.80" height="3.80" fill="#d7e7f5"/>
<rect x="926.00" y="231.00" width="3.80" height="3.80" fill="#e7f1fa"/>
<rect x="944.75" y="231.00" width="3.80" height="3.80" fill="#e7f1fa"/>
<rect x="948.50" y="231.00" width="3.80" height="3.80" fill="#dfecf7"/>
<rect x="952.25" y="231.00" width="7.55" height="3.80" fill="#d7e7f5"/>
<rect x="959.75" y="231.00" width="3.80" height="3.80" fill="#dfecf7"/>
<rect x="963.50" y="231.00" width="3.80" height="3.80" fill="#e7f1fa"/>
<rect x="967.25" y="231.00" width="3.80" height="3.80" fill="#dfecf7"/>
<rect x="971.00" y="231.00" width="3.80" height="3.80" fill="#d7e7f5"/>
<rect x="974.75" y="231.00" width="30.05" height="3.80" fill="#d0e1f2"/>
<rect x="1004.75" y="231.00" width="3.80" height="3.80" fill="#d7e7f5"/>
<rect x="1008.50" y="231.00" width="3.80" height="3.80" fill="#dfecf7"/>
<rect x="1012.25" y="231.00" width="3.80" height="3.80" fill="#e7f1fa"/>
<rect x="817.25" y="234.75" width="3.80" height="3.80" fill="#eff6fc"/>
<rect x="821.00" y="234.75" width="3.80" height="3.80" fill="#dfecf7"/>
<rect x="824.75" y="234.75" width="3.80" height="3.80" fill="#d7e7f5"/>
<rect x="828.50" y="234.75" width="3.80" height="3.80" fill="#d0e1f2"/>
<rect x="832.25" y="234.75" width="3.80" height="3.80" fill="#d7e7f5"/>
<rect x="836.00" y="234.75" width="3.80" height="3.80" fill="#dfecf7"/>
<rect x="839.75" y="234.75" width="3.80" height="3.80" fill="#eff6fc"/>
<rect x="847.25" y="234.75" width="3.80" height="3.80" fill="#e7f1fa"/>
<rect x="851.00" y="234.75" width="3.80" height="3.80" fill="#d0e1f2"/>
<rect x="854.75" y="234.75" width="3.80" height="3.80" fill="#b0d1e7"/>
<rect x="858.50" y="234.75" width="7.55" height="3.80" fill="#94c4df"/>
<rect x="866.00" y="234.75" width="11.30" height="3.80" fill="#73b2d8"/>
<rect x="877.25" y="234.75" width="3.80" height="3.80" fill="#a3cce3"/>
<rect x="881.00" y="234.75" width="3.80" height="3.80" fill="#d0e1f2"/>
<rect x="884.75" y="234.75" width="3.80" height="3.80" fill="#dfecf7"/>
<rect x="888.50" y="234.75" width="3.80" height="3.80" fill="#d7e7f5"/>
<rect x="892.25" y="234.75" width="3.80" height="3.80" fill="#d0e1f2"/>
<rect x="896.00" y="234.75" width="11.30" height="3.80" fill="#c8dcf0"/>
<rect x="907.25" y="234.75" width="11.30" height="3.80" fill="#bcd7ec"/>
<rect x="918.50" y="234.75" width="3.80" height="3.80" fill="#c8dcf0"/>
<rect x="922.25" y="234.75" width="3.80" height="3.80" fill="#d0e1f2"/>
<rect x="926.00" y="234.75" width="3.80" height="3.80" fill="#dfecf7"/>
<rect x="941.00" y="234.75" width="3.80" height="3.80" fill="#eff6fc"/>
<rect x="944.75" y="234.75" width="3.80" height="3.80" fill="#d7e7f5"/>
<rect x="948.50" y="234.75" width="3.80" height="3.80" fill="#bcd7ec"/>
<rect x="952.25" y="234.75" width="7.55" height="3.80" fill="#94c4df"/>
<rect x="959.75" y="234.75" width="3.80" height="3.80" fill="#bcd7ec"/>
<rect x="963.50" y="234.75" width="3.80" height="3.80" fill="#d0e1f2"/>
<rect x="967.25" y="234.75" width="3.80" height="3.80" fill="#d7e7f5"/>
<rect x="971.00" y="234.75" width="3.80" height="3.80" fill="#d0e1f2"/>
<rect x="974.75" y="234.75" width="33.80" height="3.80" fill="#c8dcf0"/>
<rect x="1008.50" y="234.75" width="3.80" height="3.80" fill="#d7e7f5"/>
<rect x="1012.25" y="234.75" width="3.80" height="3.80" fill="#e7f1fa"/>
<rect x="824.75" y="238.50" width="15.05" height="3.80" fill="#eff6fc"/>
<rect x="847.25" y="238.50" width="3.80" height="3.80" fill="#eff6fc"/>
<rect x="851.00" y="238.50" width="3.80" height="3.80" fill="#dfecf7"/>
<rect x="854.75" y="238.50" width="3.80" height="3.80" fill="#d0e1f2"/>
<rect x="858.50" y="238.50" width="3.80" height="3.80" fill="#bcd7ec"/>
<rect x="862.25" y="238.50" width="3.80" height="3.80" fill="#a3cce3"/>
<rect x="866.00" y="238.50" width="11.30" height="3.80" fill="#83bbdb"/>
<rect x="877.25" y="238.50" width="3.80" height="3.80" fill="#b0d1e7"/>
<rect x="881.00" y="238.50" width="3.80" height="3.80" fill="#d0e1f2"/>
<rect x="884.75" y="238.50" width="15.05" height="3.80" fill="#e7f1fa"/>
<rect x="899.75" y="238.50" width="3.80" height="3.80" fill="#dfecf7"/>
<rect x="903.50" y="238.50" width="3.80" height="3.80" fill="#d7e7f5"/>
<rect x="907.25" y="238.50" width="7.55" height="3.80" fill="#c8dcf0"/>
<rect x="914.75" y="238.50" width="3.80" height="3.80" fill="#bcd7ec"/>
<rect x="918.50" y="238.50" width="3.80" height="3.80" fill="#c8dcf0"/>
<rect x="922.25" y="238.50" width="3.80" height="3.80" fill="#d0e1f2"/>
<rect x="926.00" y="238.50" width="3.80" height="3.80" fill="#dfecf7"/>
<rect x="941.00" y="238.50" width="3.80" height="3.80" fill="#eff6fc"/>
<rect x="944.75" y="238.50" width="3.80" height="3.80" fill="#c8dcf0"/>
<rect x="948.50" y="238.50" width="3.80" height="3.80" fill="#94c4df"/>
<rect x="952.25" y="238.50" width="7.55" height="3.80" fill="#57a1ce"/>
<rect x="959.75" y="238.50" width="3.80" height="3.80" fill="#94c4df"/>
<rect x="963.50" y="238.50" width="3.80" height="3.80" fill="#c8dcf0"/>
<rect x="967.25" y="238.50" width="3.80" height="3.80" fill="#d7e7f5"/>
<rect x="971.00" y="238.50" width="7.55" height="3.80" fill="#d0e1f2"/>
<rect x="978.50" y="238.50" width="26.30" height="3.80" fill="#c8dcf0"/>
<rect x="1004.75" y="238.50" width="3.80" height="3.80" fill="#d0e1f2"/>
<rect x="1008.50" y="238.50" width="3.80" height="3.80" fill="#d7e7f5"/>
<rect x="1012.25" y="238.50" width="3.80" height="3.80" fill="#e7f1fa"/>
<rect x="821.00" y="242.25" width="3.80" height="3.80" fill="#eff6fc"/>
<rect x="824.75" y="242.25" width="15.05" height="3.80" fill="#e7f1fa"/>
<rect x="839.75" y="242.25" width="15.05" height="3.80" fill="#eff6fc"/>
<rect x="854.75" y="242.25" width="3.80" height="3.80" fill="#e7f1fa"/>
<rect x="858.50" y="242.25" width="3.80" height="3.80" fill="#d7e7f5"/>
<rect x="862.25" y="242.25" width="3.80" height="3.80" fill="#c8dcf0"/>
<rect x="866.00" y="242.25" width="11.30" height="3.80" fill="#b0d1e7"/>
<rect x="877.25" y="242.25" width="3.80" height="3.80" fill="#c8dcf0"/>
<rect x="881.00" y="242.25" width="3.80" height="3.80" fill="#dfecf7"/>
<rect x="884.75" y="242.25" width="3.80" height="3.80" fill="#eff6fc"/>
<rect x="896.00" y="242.25" width="7.55" height="3.80" fill="#eff6fc"/>
<rect x="903.50" y="242.25" width="3.80" height="3.80" fill="#dfecf7"/>
<rect x="907.25" y="242.25" width="3.80" height="3.80" fill="#d7e7f5"/>
<rect x="911.00" y="242.25" width="7.55" height="3.80" fill="#d0e1f2"/>
<rect x="918.50" y="242.25" width="3.80" height="3.80" fill="#d7e7f5"/>
<rect x="922.25" y="242.25" width="3.80" height="3.80" fill="#dfecf7"/>
<rect x="926.00" y="242.25" width="3.80" height="3.80" fill="#e7f1fa"/>
<rect x="941.00" y="242.25" width="3.80" height="3.80" fill="#eff6fc"/>
<rect x="944.75" y="242.25" width="3.80" height="3.80" fill="#c8dcf0"/>
<rect x="948.50" y="242.25" width="3.80" height="3.80" fill="#83bbdb"/>
<rect x="952.25" y="242.25" width="7.55" height="3.80" fill="#57a1ce"/>
<rect x="959.75" y="242.25" width="3.80" height="3.80" fill="#83bbdb"/>
<rect x="963.50" y="242.25" width="3.80" height="3.80" fill="#bcd7ec"/>
<rect x="967.25" y="242.25" width="41.30" height="3.80" fill="#dfecf7"/>
<rect x="1008.50" y="242.25" width="3.80" height="3.80" fill="#e7f1fa"/>
<rect x="1012.25" y="242.25" width="3.80" height="3.80" fill="#eff6fc"/>
<rect x="817.25" y="246.00" width="3.80" height="3.80" fill="#eff6fc"/>
<rect x="821.00" y="246.00" width="3.80" height="3.80" fill="#d7e7f5"/>
<rect x="824.75" y="246.00" width="3.80" height="3.80" fill="#bcd7ec"/>
<rect x="828.50" y="246.00" width="11.30" height="3.80" fill="#a3cce3"/>
<rect x="839.75" y="246.00" width="3.80" height="3.80" fill="#c8dcf0"/>
<rect x="843.50" y="246.00" width="3.80" height="3.80" fill="#dfecf7"/>
<rect x="847.25" y="246.00" width="3.80" height="3.80" fill="#eff6fc"/>
<rect x="858.50" y="246.00" width="3.80" height="3.80" fill="#e7f1fa"/>
<rect x="862.25" y="246.00" width="3.80" height="3.80" fill="#dfecf7"/>
<rect x="866.00" y="246.00" width="11.30" height="3.80" fill="#d7e7f5"/>
<rect x="877.25" y="246.00" width="3.80" height="3.80" fill="#dfecf7"/>
<rect x="881.00" y="246.00" width="3.80" height="3.80" fill="#e7f1fa"/>
<rect x="884.75" y="246.00" width="3.80" height="3.80" fill="#eff6fc"/>
<rect x="899.75" y="246.00" width="7.55" height="3.80" fill="#eff6fc"/>
<rect x="907.25" y="246.00" width="18.80" height="3.80" fill="#e7f1fa"/>
<rect x="926.00" y="246.00" width="3.80" height="3.80" fill="#eff6fc"/>
<rect x="941.00" y="246.00" width="3.80" height="3.80" fill="#eff6fc"/>
<rect x="944.75" y="246.00" width="3.80" height="3.80" fill="#c8dcf0"/>
<rect x="948.50" y="246.00" width="3.80" height="3.80" fill="#83bbdb"/>
<rect x="952.25" y="246.00" width="7.55" height="3.80" fill="#57a1ce"/>
<rect x="959.75" y="246.00" width="3.80" height="3.80" fill="#83bbdb"/>
<rect x="963.50" y="246.00" width="3.80" height="3.80" fill="#c8dcf0"/>
<rect x="967.25" y="246.00" width="45.05" height="3.80" fill="#eff6fc"/>
<rect x="817.25" y="249.75" width="3.80" height="3.80" fill="#e7f1fa"/>
<rect x="821.00" y="249.75" width="3.80" height="3.80" fill="#bcd7ec"/>
<rect x="824.75" y="249.75" width="3.80" height="3.80" fill="#64aad3"/>
<rect x="828.50" y="249.75" width="7.55" height="3.80" fill="#3e8ec4"/>
<rect x="836.00" y="249.75" width="3.80" height="3.80" fill="#4a98c9"/>
<rect x="839.75" y="249.75" width="3.80" height="3.80" fill="#83bbdb"/>
<rect x="843.50" y="249.75" width="3.80" height="3.80" fill="#c8dcf0"/>
<rect x="847.25" y="249.75" width="3.80" height="3.80" fill="#eff6fc"/>
<rect x="866.00" y="249.75" width="41.30" height="3.80" fill="#eff6fc"/>
<rect x="941.00" y="249.75" width="3.80" height="3.80" fill="#eff6fc"/>
<rect x="944.75" y="249.75" width="3.80" height="3.80" fill="#c8dcf0"/>
<rect x="948.50" y="249.75" width="3.80" height="3.80" fill="#83bbdb"/>
<rect x="952.25" y="249.75" width="7.55" height="3.80" fill="#57a1ce"/>
<rect x="959.75" y="249.75" width="3.80" height="3.80" fill="#83bbdb"/>
<rect x="963.50" y="249.75" width="3.80" height="3.80" fill="#c8dcf0"/>
<rect x="967.25" y="249.75" width="3.80" height="3.80" fill="#eff6fc"/>
<rect x="817.25" y="253.50" width="3.80" height="3.80" fill="#e7f1fa"/>
<rect x="821.00" y="253.50" width="3.80" height="3.80" fill="#a3cce3"/>
<rect x="824.75" y="253.50" width="3.80" height="3.80" fill="#3e8ec4"/>
<rect x="828.50" y="253.50" width="7.55" height="3.80" fill="#1764ab"/>
<rect x="836.00" y="253.50" width="3.80" height="3.80" fill="#1f6eb3"/>
<rect x="839.75" y="253.50" width="3.80" height="3.80" fill="#57a1ce"/>
<rect x="843.50" y="253.50" width="3.80" height="3.80" fill="#bcd7ec"/>
<rect x="847.25" y="253.50" width="3.80" height="3.80" fill="#eff6fc"/>
<rect x="877.25" y="253.50" width="30.05" height="3.80" fill="#eff6fc"/>
<rect x="941.00" y="253.50" width="3.80" height="3.80" fill="#eff6fc"/>
<rect x="944.75" y="253.50" width="3.80" height="3.80" fill="#c8dcf0"/>
<rect x="948.50" y="253.50" width="3.80" height="3.80" fill="#83bbdb"/>
<rect x="952.25" y="253.50" width="7.55" height="3.80" fill="#57a1ce"/>
<rect x="959.75" y="253.50" width="3.80" height="3.80" fill="#83bbdb"/>
<rect x="963.50" y="253.50" width="3.80" height="3.80" fill="#c8dcf0"/>
<rect x="967.25" y="253.50" width="3.80" height="3.80" fill="#eff6fc"/>
<rect x="817.25" y="257.25" width="3.80" height="3.80" fill="#e7f1fa"/>
<rect x="821.00" y="257.25" width="3.80" height="3.80" fill="#a3cce3"/>
<rect x="824.75" y="257.25" width="3.80" height="3.80" fill="#3e8ec4"/>
<rect x="828.50" y="257.25" width="3.80" height="3.80" fill="#1764ab"/>
<rect x="832.25" y="257.25" width="3.80" height="3.80" fill="#0f5aa3"/>
<rect x="836.00" y="257.25" width="3.80" height="3.80" fill="#1764ab"/>
<rect x="839.75" y="257.25" width="3.80" height="3.80" fill="#57a1ce"/>
<rect x="843.50" y="257.25" width="3.80" height="3.80" fill="#bcd7ec"/>
<rect x="847.25" y="257.25" width="3.80" height="3.80" fill="#eff6fc"/>
<rect x="881.00" y="257.25" width="15.05" height="3.80" fill="#eff6fc"/>
<rect x="896.00" y="257.25" width="37.55" height="3.80" fill="#e7f1fa"/>
<rect x="933.50" y="257.25" width="3.80" height="3.80" fill="#eff6fc"/>
<rect x="941.00" y="257.25" width="3.80" height="3.80" fill="#eff6fc"/>
<rect x="944.75" y="257.25" width="3.80" height="3.80" fill="#d0e1f2"/>
<rect x="948.50" y="257.25" width="3.80" height="3.80" fill="#a3cce3"/>
<rect x="952.25" y="257.25" width="7.55" height="3.80" fill="#83bbdb"/>
<rect x="959.75" y="257.25" width="3.80" height="3.80" fill="#a3cce3"/>
<rect x="963.50" y="257.25" width="3.80" height="3.80" fill="#d0e1f2"/>
<rect x="967.25" y="257.25" width="3.80" height="3.80" fill="#eff6fc"/>
<rect x="708.50" y="261.00" width="3.80" height="3.80" fill="#eff6fc"/>
<rect x="712.25" y="261.00" width="3.80" height="3.80" fill="#e7f1fa"/>
<rect x="716.00" y="261.00" width="3.80" height="3.80" fill="#dfecf7"/>
<rect x="719.75" y="261.00" width="7.55" height="3.80" fill="#d7e7f5"/>
<rect x="727.25" y="261.00" width="7.55" height="3.80" fill="#dfecf7"/>
<rect x="734.75" y="261.00" width="3.80" height="3.80" fill="#eff6fc"/>
<rect x="817.25" y="261.00" width="3.80" height="3.80" fill="#e7f1fa"/>
<rect x="821.00" y="261.00" width="3.80" height="3.80" fill="#a3cce3"/>
<rect x="824.75" y="261.00" width="3.80" height="3.80" fill="#3e8ec4"/>
<rect x="828.50" y="261.00" width="7.55" height="3.80" fill="#1764ab"/>
<rect x="836.00" y="261.00" width="3.80" height="3.80" fill="#1f6eb3"/>
<rect x="839.75" y="261.00" width="3.80" height="3.80" fill="#57a1ce"/>
<rect x="843.50" y="261.00" width="3.80" height="3.80" fill="#bcd7ec"/>
<rect x="847.25" y="261.00" width="3.80" height="3.80" fill="#e7f1fa"/>
<rect x="884.75" y="261.00" width="7.55" height="3.80" fill="#eff6fc"/>
<rect x="892.25" y="261.00" width="3.80" height="3.80" fill="#e7f1fa"/>
<rect x="896.00" y="261.00" width="3.80" height="3.80" fill="#dfecf7"/>
<rect x="899.75" y="261.00" width="3.80" height="3.80" fill="#d0e1f2"/>
<rect x="903.50" y="261.00" width="26.30" height="3.80" fill="#c8dcf0"/>
<rect x="929.75" y="261.00" width="3.80" height="3.80" fill="#d0e1f2"/>
<rect x="933.50" y="261.00" width="3.80" height="3.80" fill="#dfecf7"/>
<rect x="937.25" y="261.00" width="7.55" height="3.80" fill="#eff6fc"/>
<rect x="944.75" y="261.00" width="3.80" height="3.80" fill="#dfecf7"/>
<rect x="948.50" y="261.00" width="3.80" height="3.80" fill="#d0e1f2"/>
<rect x="952.25" y="261.00" width="7.55" height="3.80" fill="#bcd7ec"/>
<rect x="959.75" y="261.00" width="3.80" height="3.80" fill="#d0e1f2"/>
<rect x="963.50" y="261.00" width="3.80" height="3.80" fill="#dfecf7"/>
<rect x="967.25" y="261.00" width="3.80" height="3.80" fill="#eff6fc"/>
<rect x="704.75" y="264.75" width="3.80" height="3.80" fill="#eff6fc"/>
<rect x="708.50" y="264.75" width="3.80" height="3.80" fill="#dfecf7"/>
<rect x="712.25" y="264.75" width="3.80" height="3.80" fill="#bcd7ec"/>
<rect x="716.00" y="264.75" width="3.80" height="3.80" fill="#a3cce3"/>
<rect x="719.75" y="264.75" width="11.30" height="3.80" fill="#94c4df"/>
<rect x="731.00" y="264.75" width="3.80" height="3.80" fill="#bcd7ec"/>
<rect x="734.75" y="264.75" width="3.80" height="3.80" fill="#d7e7f5"/>
<rect x="738.50" y="264.75" width="3.80" height="3.80" fill="#eff6fc"/>
<rect x="772.25" y="264.75" width="3.80" height="3.80" fill="#eff6fc"/>
<rect x="776.00" y="264.75" width="3.80" height="3.80" fill="#e7f1fa"/>
<rect x="779.75" y="264.75" width="22.55" height="3.80" fill="#dfecf7"/>
<rect x="802.25" y="264.75" width="3.80" height="3.80" fill="#e7f1fa"/>
<rect x="806.00" y="264.75" width="3.80" height="3.80" fill="#eff6fc"/>
<rect x="817.25" y="264.75" width="3.80" height="3.80" fill="#e7f1fa"/>
<rect x="821.00" y="264.75" width="3.80" height="3.80" fill="#b0d1e7"/>
<rect x="824.75" y="264.75" width="3.80" height="3.80" fill="#57a1ce"/>
<rect x="828.50" y="264.75" width="3.80" height="3.80" fill="#3383bf"/>
<rect x="832.25" y="264.75" width="3.80" height="3.80" fill="#2979b9"/>
<rect x="836.00" y="264.75" width="3.80" height="3.80" fill="#3383bf"/>
<rect x="839.75" y="264.75" width="3.80" height="3.80" fill="#64aad3"/>
<rect x="843.50" y="264.75" width="3.80" height="3.80" fill="#a3cce3"/>
<rect x="847.25" y="264.75" width="3.80" height="3.80" fill="#d0e1f2"/>
<rect x="851.00" y="264.75" width="3.80" height="3.80" fill="#e7f1fa"/>
<rect x="892.25" y="264.75" width="3.80" height="3.80" fill="#e7f1fa"/>
<rect x="896.00" y="264.75" width="3.80" height="3.80" fill="#d0e1f2"/>
<rect x="899.75" y="264.75" width="3.80" height="3.80" fill="#b0d1e7"/>
<rect x="903.50" y="264.75" width="22.55" height="3.80" fill="#94c4df"/>
<rect x="926.00" y="264.75" width="3.80" height="3.80" fill="#a3cce3"/>
<rect x="929.75" y="264.75" width="3.80" height="3.80" fill="#b0d1e7"/>
<rect x="933.50" y="264.75" width="3.80" height="3.80" fill="#d0e1f2"/>
<rect x="937.25" y="264.75" width="3.80" height="3.80" fill="#e7f1fa"/>
<rect x="944.75" y="264.75" width="7.55" height="3.80" fill="#eff6fc"/>
<rect x="952.25" y="264.75" width="7.55" height="3.80" fill="#e7f1fa"/>
<rect x="959.75" y="264.75" width="7.55" height="3.80" fill="#eff6fc"/>
<rect x="704.75" y="268.50" width="3.80" height="3.80" fill="#eff6fc"/>
<rect x="708.50" y="268.50" width="3.80" height="3.80" fill="#d0e1f2"/>
<rect x="712.25" y="268.50" width="3.80" height="3.80" fill="#83bbdb"/>
<rect x="716.00" y="268.50" width="3.80" height="3.80" fill="#4a98c9"/>
<rect x="719.75" y="268.50" width="7.55" height="3.80" fill="#3e8ec4"/>
<rect x="727.25" y="268.50" width="3.80" height="3.80" fill="#4a98c9"/>
<rect x="731.00" y="268.50" width="3.80" height="3.80" fill="#73b2d8"/>
<rect x="734.75" y="268.50" width="3.80" height="3.80" fill="#c8dcf0"/>
<rect x="738.50" y="268.50" width="3.80" height="3.80" fill="#eff6fc"/>
<rect x="768.50" y="268.50" width="3.80" height="3.80" fill="#eff6fc"/>
<rect x="772.25" y="268.50" width="3.80" height="3.80" fill="#d7e7f5"/>
<rect x="776.00" y="268.50" width="3.80" height="3.80" fill="#b0d1e7"/>
<rect x="779.75" y="268.50" width="3.80" height="3.80" fill="#94c4df"/>
<rect x="783.50" y="268.50" width="11.30" height="3.80" fill="#83bbdb"/>
<rect x="794.75" y="268.50" width="3.80" height="3.80" fill="#94c4df"/>
<rect x="798.50" y="268.50" width="3.80" height="3.80" fill="#a3cce3"/>
<rect x="802.25" y="268.50" width="3.80" height="3.80" fill="#c8dcf0"/>
<rect x="806.00" y="268.50" width="3.80" height="3.80" fill="#e7f1fa"/>
<rect x="817.25" y="268.50" width="3.80" height="3.80" fill="#eff6fc"/>
<rect x="821.00" y="268.50" width="3.80" height="3.80" fill="#d0e1f2"/>
<rect x="824.75" y="268.50" width="3.80" height="3.80" fill="#94c4df"/>
<rect x="828.50" y="268.50" width="3.80" height="3.80" fill="#57a1ce"/>
<rect x="832.25" y="268.50" width="7.55" height="3.80" fill="#4a98c9"/>
<rect x="839.75" y="268.50" width="3.80" height="3.80" fill="#57a1ce"/>
<rect x="843.50" y="268.50" width="3.80" height="3.80" fill="#73b2d8"/>
<rect x="847.25" y="268.50" width="3.80" height="3.80" fill="#b0d1e7"/>
<rect x="851.00" y="268.50" width="3.80" height="3.80" fill="#d7e7f5"/>
<rect x="854.75" y="268.50" width="3.80" height="3.80" fill="#eff6fc"/>
<rect x="892.25" y="268.50" width="3.80" height="3.80" fill="#e7f1fa"/>
<rect x="896.00" y="268.50" width="3.80" height="3.80" fill="#c8dcf0"/>
<rect x="899.75" y="268.50" width="3.80" height="3.80" fill="#a3cce3"/>
<rect x="903.50" y="268.50" width="26.30" height="3.80" fill="#83bbdb"/>
<rect x="929.75" y="268.50" width="3.80" height="3.80" fill="#a3cce3"/>
<rect x="933.50" y="268.50" width="3.80" height="3.80" fill="#c8dcf0"/>
<rect x="937.25" y="268.50" width="3.80" height="3.80" fill="#e7f1fa"/>
<rect x="704.75" y="272.25" width="3.80" height="3.80" fill="#eff6fc"/>
<rect x="708.50" y="272.25" width="3.80" height="3.80" fill="#c8dcf0"/>
<rect x="712.25" y="272.25" width="3.80" height="3.80" fill="#73b2d8"/>
<rect x="716.00" y="272.25" width="3.80" height="3.80" fill="#3383bf"/>
<rect x="719.75" y="272.25" width="7.55" height="3.80" fill="#2979b9"/>
<rect x="727.25" y="272.25" width="3.80" height="3.80" fill="#3383bf"/>
<rect x="731.00" y="272.25" width="3.80" height="3.80" fill="#64aad3"/>
<rect x="734.75" y="272.25" width="3.80" height="3.80" fill="#b0d1e7"/>
<rect x="738.50" y="272.25" width="3.80" height="3.80" fill="#e7f1fa"/>
<rect x="768.50" y="272.25" width="3.80" height="3.80" fill="#eff6fc"/>
<rect x="772.25" y="272.25" width="3.80" height="3.80" fill="#bcd7ec"/>
<rect x="776.00" y="272.25" width="3.80" height="3.80" fill="#73b2d8"/>
<rect x="779.75" y="272.25" width="3.80" height="3.80" fill="#3e8ec4"/>
<rect x="783.50" y="272.25" width="15.05" height="3.80" fill="#3383bf"/>
<rect x="798.50" y="272.25" width="3.80" height="3.80" fill="#4a98c9"/>
<rect x="802.25" y="272.25" width="3.80" height="3.80" fill="#a3cce3"/>
<rect x="806.00" y="272.25" width="3.80" height="3.80" fill="#d7e7f5"/>
<rect x="809.75" y="272.25" width="3.80" height="3.80" fill="#eff6fc"/>
<rect x="817.25" y="272.25" width="3.80" height="3.80" fill="#eff6fc"/>
<rect x="821.00" y="272.25" width="3.80" height="3.80" fill="#d7e7f5"/>
<rect x="824.75" y="272.25" width="3.80" height="3.80" fill="#a3cce3"/>
<rect x="828.50" y="272.25" width="3.80" height="3.80" fill="#73b2d8"/>
<rect x="832.25" y="272.25" width="3.80" height="3.80" fill="#64aad3"/>
<rect x="836.00" y="272.25" width="3.80" height="3.80" fill="#57a1ce"/>
<rect x="839.75" y="272.25" width="3.80" height="3.80" fill="#64aad3"/>
<rect x="843.50" y="272.25" width="3.80" height="3.80" fill="#73b2d8"/>
<rect x="847.25" y="272.25" width="3.80" height="3.80" fill="#a3cce3"/>
<rect x="851.00" y="272.25" width="3.80" height="3.80" fill="#d7e7f5"/>
<rect x="854.75" y="272.25" width="3.80" height="3.80" fill="#eff6fc"/>
<rect x="892.25" y="272.25" width="3.80" height="3.80" fill="#e7f1fa"/>
<rect x="896.00" y="272.25" width="3.80" height="3.80" fill="#c8dcf0"/>
<rect x="899.75" y="272.25" width="3.80" height="3.80" fill="#a3cce3"/>
<rect x="903.50" y="272.25" width="3.80" height="3.80" fill="#94c4df"/>
<rect x="907.25" y="272.25" width="18.80" height="3.80" fill="#83bbdb"/>
<rect x="926.00" y="272.25" width="3.80" height="3.80" fill="#94c4df"/>
<rect x="929.75" y="272.25" width="3.80" height="3.80" fill="#a3cce3"/>
<rect x="933.50" y="272.25" width="3.80" height="3.80" fill="#c8dcf0"/>
<rect x="937.25" y="272.25" width="3.80" height="3.80" fill="#e7f1fa"/>
<rect x="704.75" y="276.00" width="3.80" height="3.80" fill="#eff6fc"/>
<rect x="708.50" y="276.00" width="3.80" height="3.80" fill="#d0e1f2"/>
<rect x="712.25" y="276.00" width="3.80" height="3.80" fill="#a3cce3"/>
<rect x="716.00" y="276.00" width="3.80" height="3.80" fill="#64aad3"/>
<rect x="719.75" y="276.00" width="11.30" height="3.80" fill="#4a98c9"/>
<rect x="731.00" y="276.00" width="3.80" height="3.80" fill="#73b2d8"/>
<rect x="734.75" y="276.00" width="3.80" height="3.80" fill="#bcd7ec"/>
<rect x="738.50" y="276.00" width="3.80" height="3.80" fill="#e7f1fa"/>
<rect x="768.50" y="276.00" width="3.80" height="3.80" fill="#eff6fc"/>
<rect x="772.25" y="276.00" width="3.80" height="3.80" fill="#b0d1e7"/>
<rect x="776.00" y="276.00" width="3.80" height="3.80" fill="#4a98c9"/>
<rect x="779.75" y="276.00" width="3.80" height="3.80" fill="#1f6eb3"/>
<rect x="783.50" y="276.00" width="15.05" height="3.80" fill="#1764ab"/>
<rect x="798.50" y="276.00" width="3.80" height="3.80" fill="#3383bf"/>
<rect x="802.25" y="276.00" width="3.80" height="3.80" fill="#83bbdb"/>
<rect x="806.00" y="276.00" width="3.80" height="3.80" fill="#d7e7f5"/>
<rect x="809.75" y="276.00" width="3.80" height="3.80" fill="#eff6fc"/>
<rect x="821.00" y="276.00" width="3.80" height="3.80" fill="#e7f1fa"/>
<rect x="824.75" y="276.00" width="3.80" height="3.80" fill="#d0e1f2"/>
<rect x="828.50" y="276.00" width="7.55" height="3.80" fill="#b0d1e7"/>
<rect x="836.00" y="276.00" width="3.80" height="3.80" fill="#a3cce3"/>
<rect x="839.75" y="276.00" width="7.55" height="3.80" fill="#b0d1e7"/>
<rect x="847.25" y="276.00" width="3.80" height="3.80" fill="#d0e1f2"/>
<rect x="851.00" y="276.00" width="3.80" height="3.80" fill="#dfecf7"/>
<rect x="892.25" y="276.00" width="3.80" height="3.80" fill="#e7f1fa"/>
<rect x="896.00" y="276.00" width="3.80" height="3.80" fill="#d7e7f5"/>
<rect x="899.75" y="276.00" width="3.80" height="3.80" fill="#c8dcf0"/>
<rect x="903.50" y="276.00" width="3.80" height="3.80" fill="#bcd7ec"/>
<rect x="907.25" y="276.00" width="18.80" height="3.80" fill="#b0d1e7"/>
<rect x="926.00" y="276.00" width="3.80" height="3.80" fill="#bcd7ec"/>
<rect x="929.75" y="276.00" width="3.80" height="3.80" fill="#c8dcf0"/>
<rect x="933.50" y="276.00" width="3.80" height="3.80" fill="#d7e7f5"/>
<rect x="937.25" y="276.00" width="3.80" height="3.80" fill="#eff6fc"/>
<rect x="708.50" y="279.75" width="3.80" height="3.80" fill="#dfecf7"/>
<rect x="712.25" y="279.75" width="3.80" height="3.80" fill="#d0e1f2"/>
<rect x="716.00" y="279.75" width="3.80" height="3.80" fill="#a3cce3"/>
<rect x="719.75" y="279.75" width="3.80" height="3.80" fill="#73b2d8"/>
<rect x="723.50" y="279.75" width="7.55" height="3.80" fill="#3e8ec4"/>
<rect x="731.00" y="279.75" width="3.80" height="3.80" fill="#64aad3"/>
<rect x="734.75" y="279.75" width="3.80" height="3.80" fill="#b0d1e7"/>
<rect x="738.50" y="279.75" width="3.80" height="3.80" fill="#dfecf7"/>
<rect x="768.50" y="279.75" width="3.80" height="3.80" fill="#eff6fc"/>
<rect x="772.25" y="279.75" width="3.80" height="3.80" fill="#b0d1e7"/>
<rect x="776.00" y="279.75" width="3.80" height="3.80" fill="#4a98c9"/>
<rect x="779.75" y="279.75" width="3.80" height="3.80" fill="#1764ab"/>
<rect x="783.50" y="279.75" width="11.30" height="3.80" fill="#0f5aa3"/>
<rect x="794.75" y="279.75" width="3.80" height="3.80" fill="#1764ab"/>
<rect x="798.50" y="279.75" width="3.80" height="3.80" fill="#2979b9"/>
<rect x="802.25" y="279.75" width="3.80" height="3.80" fill="#73b2d8"/>
<rect x="806.00" y="279.75" width="3.80" height="3.80" fill="#d7e7f5"/>
<rect x="809.75" y="279.75" width="3.80" height="3.80" fill="#eff6fc"/>
<rect x="821.00" y="279.75" width="7.55" height="3.80" fill="#eff6fc"/>
<rect x="828.50" y="279.75" width="22.55" height="3.80" fill="#e7f1fa"/>
<rect x="851.00" y="279.75" width="3.80" height="3.80" fill="#eff6fc"/>
<rect x="892.25" y="279.75" width="3.80" height="3.80" fill="#eff6fc"/>
<rect x="896.00" y="279.75" width="3.80" height="3.80" fill="#e7f1fa"/>
<rect x="899.75" y="279.75" width="3.80" height="3.80" fill="#dfecf7"/>
<rect x="903.50" y="279.75" width="26.30" height="3.80" fill="#d7e7f5"/>
<rect x="929.75" y="279.75" width="3.80" height="3.80" fill="#dfecf7"/>
<rect x="933.50" y="279.75" width="3.80" height="3.80" fill="#e7f1fa"/>
<rect x="937.25" y="279.75" width="3.80" height="3.80" fill="#eff6fc"/>
<rect x="712.25" y="283.50" width="3.80" height="3.80" fill="#e7f1fa"/>
<rect x="716.00" y="283.50" width="3.80" height="3.80" fill="#c8dcf0"/>
<rect x="719.75" y="283.50" width="3.80" height="3.80" fill="#83bbdb"/>
<rect x="723.50" y="283.50" width="3.80" height="3.80" fill="#4a98c9"/>
<rect x="727.25" y="283.50" width="3.80" height="3.80" fill="#3e8ec4"/>
<rect x="731.00" y="283.50" width="3.80" height="3.80" fill="#64aad3"/>
<rect x="734.75" y="283.50" width="3.80" height="3.80" fill="#b0d1e7"/>
<rect x="738.50" y="283.50" width="3.80" height="3.80" fill="#dfecf7"/>
<rect x="768.50" y="283.50" width="3.80" height="3.80" fill="#eff6fc"/>
<rect x="772.25" y="283.50" width="3.80" height="3.80" fill="#b0d1e7"/>
<rect x="776.00" y="283.50" width="3.80" height="3.80" fill="#4a98c9"/>
<rect x="779.75" y="283.50" width="3.80" height="3.80" fill="#1764ab"/>
<rect x="783.50" y="283.50" width="11.30" height="3.80" fill="#0f5aa3"/>
<rect x="794.75" y="283.50" width="3.80" height="3.80" fill="#1764ab"/>
<rect x="798.50" y="283.50" width="3.80" height="3.80" fill="#2979b9"/>
<rect x="802.25" y="283.50" width="3.80" height="3.80" fill="#83bbdb"/>
<rect x="806.00" y="283.50" width="3.80" height="3.80" fill="#d7e7f5"/>
<rect x="809.75" y="283.50" width="3.80" height="3.80" fill="#eff6fc"/>
<rect x="899.75" y="283.50" width="33.80" height="3.80" fill="#eff6fc"/>
<rect x="959.75" y="283.50" width="18.80" height="3.80" fill="#eff6fc"/>
<rect x="712.25" y="287.25" width="3.80" height="3.80" fill="#eff6fc"/>
<rect x="716.00" y="287.25" width="3.80" height="3.80" fill="#d0e1f2"/>
<rect x="719.75" y="287.25" width="3.80" height="3.80" fill="#a3cce3"/>
<rect x="723.50" y="287.25" width="7.55" height="3.80" fill="#64aad3"/>
<rect x="731.00" y="287.25" width="3.80" height="3.80" fill="#83bbdb"/>
<rect x="734.75" y="287.25" width="3.80" height="3.80" fill="#bcd7ec"/>
<rect x="738.50" y="287.25" width="3.80" height="3.80" fill="#e7f1fa"/>
<rect x="742.25" y="287.25" width="7.55" height="3.80" fill="#eff6fc"/>
<rect x="768.50" y="287.25" width="3.80" height="3.80" fill="#eff6fc"/>
<rect x="772.25" y="287.25" width="3.80" height="3.80" fill="#bcd7ec"/>
<rect x="776.00" y="287.25" width="3.80" height="3.80" fill="#64aad3"/>
<rect x="779.75" y="287.25" width="3.80" height="3.80" fill="#3383bf"/>
<rect x="783.50" y="287.25" width="15.05" height="3.80" fill="#2979b9"/>
<rect x="798.50" y="287.25" width="3.80" height="3.80" fill="#4a98c9"/>
<rect x="802.25" y="287.25" width="3.80" height="3.80" fill="#94c4df"/>
<rect x="806.00" y="287.25" width="3.80" height="3.80" fill="#d7e7f5"/>
<rect x="809.75" y="287.25" width="3.80" height="3.80" fill="#eff6fc"/>
<rect x="959.75" y="287.25" width="3.80" height="3.80" fill="#eff6fc"/>
<rect x="963.50" y="287.25" width="3.80" height="3.80" fill="#e7f1fa"/>
<rect x="967.25" y="287.25" width="3.80" height="3.80" fill="#dfecf7"/>
<rect x="971.00" y="287.25" width="3.80" height="3.80" fill="#e7f1fa"/>
<rect x="974.75" y="287.25" width="3.80" height="3.80" fill="#eff6fc"/>
<rect x="712.25" y="291.00" width="3.80" height="3.80" fill="#eff6fc"/>
<rect x="716.00" y="291.00" width="3.80" height="3.80" fill="#dfecf7"/>
<rect x="719.75" y="291.00" width="3.80" height="3.80" fill="#c8dcf0"/>
<rect x="723.50" y="291.00" width="7.55" height="3.80" fill="#b0d1e7"/>
<rect x="731.00" y="291.00" width="3.80" height="3.80" fill="#bcd7ec"/>
<rect x="734.75" y="291.00" width="3.80" height="3.80" fill="#c8dcf0"/>
<rect x="738.50" y="291.00" width="15.05" height="3.80" fill="#d7e7f5"/>
<rect x="753.50" y="291.00" width="3.80" height="3.80" fill="#dfecf7"/>
<rect x="757.25" y="291.00" width="3.80" height="3.80" fill="#eff6fc"/>
<rect x="768.50" y="291.00" width="3.80" height="3.80" fill="#eff6fc"/>
<rect x="772.25" y="291.00" width="3.80" height="3.80" fill="#d0e1f2"/>
<rect x="776.00" y="291.00" width="3.80" height="3.80" fill="#a3cce3"/>
<rect x="779.75" y="291.00" width="3.80" height="3.80" fill="#83bbdb"/>
<rect x="783.50" y="291.00" width="15.05" height="3.80" fill="#73b2d8"/>
<rect x="798.50" y="291.00" width="3.80" height="3.80" fill="#94c4df"/>
<rect x="802.25" y="291.00" width="3.80" height="3.80" fill="#bcd7ec"/>
<rect x="806.00" y="291.00" width="3.80" height="3.80" fill="#dfecf7"/>
<rect x="959.75" y="291.00" width="3.80" height="3.80" fill="#e7f1fa"/>
<rect x="963.50" y="291.00" width="11.30" height="3.80" fill="#dfecf7"/>
<rect x="974.75" y="291.00" width="3.80" height="3.80" fill="#eff6fc"/>
<rect x="716.00" y="294.75" width="3.80" height="3.80" fill="#eff6fc"/>
<rect x="719.75" y="294.75" width="7.55" height="3.80" fill="#e7f1fa"/>
<rect x="727.25" y="294.75" width="3.80" height="3.80" fill="#dfecf7"/>
<rect x="731.00" y="294.75" width="3.80" height="3.80" fill="#c8dcf0"/>
<rect x="734.75" y="294.75" width="3.80" height="3.80" fill="#a3cce3"/>
<rect x="738.50" y="294.75" width="3.80" height="3.80" fill="#94c4df"/>
<rect x="742.25" y="294.75" width="7.55" height="3.80" fill="#83bbdb"/>
<rect x="749.75" y="294.75" width="3.80" height="3.80" fill="#94c4df"/>
<rect x="753.50" y="294.75" width="3.80" height="3.80" fill="#b0d1e7"/>
<rect x="757.25" y="294.75" width="3.80" height="3.80" fill="#d7e7f5"/>
<rect x="761.00" y="294.75" width="3.80" height="3.80" fill="#eff6fc"/>
<rect x="772.25" y="294.75" width="3.80" height="3.80" fill="#e7f1fa"/>
<rect x="776.00" y="294.75" width="3.80" height="3.80" fill="#d7e7f5"/>
<rect x="779.75" y="294.75" width="18.80" height="3.80" fill="#d0e1f2"/>
<rect x="798.50" y="294.75" width="3.80" height="3.80" fill="#d7e7f5"/>
<rect x="802.25" y="294.75" width="3.80" height="3.80" fill="#dfecf7"/>
<rect x="806.00" y="294.75" width="3.80" height="3.80" fill="#eff6fc"/>
<rect x="956.00" y="294.75" width="3.80" height="3.80" fill="#eff6fc"/>
<rect x="959.75" y="294.75" width="3.80" height="3.80" fill="#e7f1fa"/>
<rect x="963.50" y="294.75" width="11.30" height="3.80" fill="#dfecf7"/>
<rect x="974.75" y="294.75" width="3.80" height="3.80" fill="#eff6fc"/>
<rect x="727.25" y="298.50" width="3.80" height="3.80" fill="#e7f1fa"/>
<rect x="731.00" y="298.50" width="3.80" height="3.80" fill="#b0d1e7"/>
<rect x="734.75" y="298.50" width="3.80" height="3.80" fill="#64aad3"/>
<rect x="738.50" y="298.50" width="3.80" height="3.80" fill="#3e8ec4"/>
<rect x="742.25" y="298.50" width="7.55" height="3.80" fill="#3383bf"/>
<rect x="749.75" y="298.50" width="3.80" height="3.80" fill="#3e8ec4"/>
<rect x="753.50" y="298.50" width="3.80" height="3.80" fill="#73b2d8"/>
<rect x="757.25" y="298.50" width="3.80" height="3.80" fill="#c8dcf0"/>
<rect x="761.00" y="298.50" width="3.80" height="3.80" fill="#eff6fc"/>
<rect x="776.00" y="298.50" width="26.30" height="3.80" fill="#eff6fc"/>
<rect x="941.00" y="298.50" width="3.80" height="3.80" fill="#eff6fc"/>
<rect x="944.75" y="298.50" width="3.80" height="3.80" fill="#e7f1fa"/>
<rect x="948.50" y="298.50" width="3.80" height="3.80" fill="#dfecf7"/>
<rect x="952.25" y="298.50" width="22.55" height="3.80" fill="#e7f1fa"/>
<rect x="974.75" y="298.50" width="3.80" height="3.80" fill="#eff6fc"/>
<rect x="727.25" y="302.25" width="3.80" height="3.80" fill="#e7f1fa"/>
<rect x="731.00" y="302.25" width="3.80" height="3.80" fill="#a3cce3"/>
<rect x="734.75" y="302.25" width="3.80" height="3.80" fill="#4a98c9"/>
<rect x="738.50" y="302.25" width="3.80" height="3.80" fill="#1f6eb3"/>
<rect x="742.25" y="302.25" width="7.55" height="3.80" fill="#1764ab"/>
<rect x="749.75" y="302.25" width="3.80" height="3.80" fill="#1f6eb3"/>
<rect x="753.50" y="302.25" width="3.80" height="3.80" fill="#57a1ce"/>
<rect x="757.25" y="302.25" width="3.80" height="3.80" fill="#bcd7ec"/>
<rect x="761.00" y="302.25" width="3.80" height="3.80" fill="#eff6fc"/>
<rect x="941.00" y="302.25" width="3.80" height="3.80" fill="#dfecf7"/>
<rect x="944.75" y="302.25" width="3.80" height="3.80" fill="#d0e1f2"/>
<rect x="948.50" y="302.25" width="7.55" height="3.80" fill="#c8dcf0"/>
<rect x="956.00" y="302.25" width="3.80" height="3.80" fill="#d7e7f5"/>
<rect x="959.75" y="302.25" width="3.80" height="3.80" fill="#e7f1fa"/>
<rect x="963.50" y="302.25" width="11.30" height="3.80" fill="#eff6fc"/>
<rect x="727.25" y="306.00" width="3.80" height="3.80" fill="#e7f1fa"/>
<rect x="731.00" y="306.00" width="3.80" height="3.80" fill="#a3cce3"/>
<rect x="734.75" y="306.00" width="3.80" height="3.80" fill="#3e8ec4"/>
<rect x="738.50" y="306.00" width="11.30" height="3.80" fill="#1764ab"/>
<rect x="749.75" y="306.00" width="3.80" height="3.80" fill="#1f6eb3"/>
<rect x="753.50" y="306.00" width="3.80" height="3.80" fill="#57a1ce"/>
<rect x="757.25" y="306.00" width="3.80" height="3.80" fill="#bcd7ec"/>
<rect x="761.00" y="306.00" width="3.80" height="3.80" fill="#eff6fc"/>
<rect x="937.25" y="306.00" width="3.80" height="3.80" fill="#eff6fc"/>
<rect x="941.00" y="306.00" width="3.80" height="3.80" fill="#d7e7f5"/>
<rect x="944.75" y="306.00" width="3.80" height="3.80" fill="#bcd7ec"/>
<rect x="948.50" y="306.00" width="3.80" height="3.80" fill="#94c4df"/>
<rect x="952.25" y="306.00" width="3.80" height="3.80" fill="#a3cce3"/>
<rect x="956.00" y="306.00" width="3.80" height="3.80" fill="#c8dcf0"/>
<rect x="959.75" y="306.00" width="3.80" height="3.80" fill="#e7f1fa"/>
<rect x="727.25" y="309.75" width="3.80" height="3.80" fill="#e7f1fa"/>
<rect x="731.00" y="309.75" width="3.80" height="3.80" fill="#a3cce3"/>
<rect x="734.75" y="309.75" width="3.80" height="3.80" fill="#3e8ec4"/>
<rect x="738.50" y="309.75" width="11.30" height="3.80" fill="#1764ab"/>
<rect x="749.75" y="309.75" width="3.80" height="3.80" fill="#1f6eb3"/>
<rect x="753.50" y="309.75" width="3.80" height="3.80" fill="#57a1ce"/>
<rect x="757.25" y="309.75" width="3.80" height="3.80" fill="#bcd7ec"/>
<rect x="761.00" y="309.75" width="3.80" height="3.80" fill="#eff6fc"/>
<rect x="937.25" y="309.75" width="3.80" height="3.80" fill="#eff6fc"/>
<rect x="941.00" y="309.75" width="3.80" height="3.80" fill="#d7e7f5"/>
<rect x="944.75" y="309.75" width="3.80" height="3.80" fill="#b0d1e7"/>
<rect x="948.50" y="309.75" width="3.80" height="3.80" fill="#83bbdb"/>
<rect x="952.25" y="309.75" width="3.80" height="3.80" fill="#94c4df"/>
<rect x="956.00" y="309.75" width="3.80" height="3.80" fill="#bcd7ec"/>
<rect x="959.75" y="309.75" width="3.80" height="3.80" fill="#dfecf7"/>
<rect x="727.25" y="313.50" width="3.80" height="3.80" fill="#e7f1fa"/>
<rect x="731.00" y="313.50" width="3.80" height="3.80" fill="#a3cce3"/>
<rect x="734.75" y="313.50" width="3.80" height="3.80" fill="#3e8ec4"/>
<rect x="738.50" y="313.50" width="11.30" height="3.80" fill="#1764ab"/>
<rect x="749.75" y="313.50" width="3.80" height="3.80" fill="#1f6eb3"/>
<rect x="753.50" y="313.50" width="3.80" height="3.80" fill="#57a1ce"/>
<rect x="757.25" y="313.50" width="3.80" height="3.80" fill="#bcd7ec"/>
<rect x="761.00" y="313.50" width="3.80" height="3.80" fill="#eff6fc"/>
<rect x="937.25" y="313.50" width="3.80" height="3.80" fill="#eff6fc"/>
<rect x="941.00" y="313.50" width="3.80" height="3.80" fill="#d7e7f5"/>
<rect x="944.75" y="313.50" width="3.80" height="3.80" fill="#bcd7ec"/>
<rect x="948.50" y="313.50" width="7.55" height="3.80" fill="#a3cce3"/>
<rect x="956.00" y="313.50" width="3.80" height="3.80" fill="#c8dcf0"/>
<rect x="959.75" y="313.50" width="3.80" height="3.80" fill="#e7f1fa"/>
<rect x="727.25" y="317.25" width="3.80" height="3.80" fill="#e7f1fa"/>
<rect x="731.00" y="317.25" width="3.80" height="3.80" fill="#a3cce3"/>
<rect x="734.75" y="317.25" width="3.80" height="3.80" fill="#3e8ec4"/>
<rect x="738.50" y="317.25" width="11.30" height="3.80" fill="#1764ab"/>
<rect x="749.75" y="317.25" width="3.80" height="3.80" fill="#1f6eb3"/>
<rect x="753.50" y="317.25" width="3.80" height="3.80" fill="#57a1ce"/>
<rect x="757.25" y="317.25" width="3.80" height="3.80" fill="#bcd7ec"/>
<rect x="761.00" y="317.25" width="3.80" height="3.80" fill="#eff6fc"/>
<rect x="941.00" y="317.25" width="3.80" height="3.80" fill="#e7f1fa"/>
<rect x="944.75" y="317.25" width="3.80" height="3.80" fill="#d0e1f2"/>
<rect x="948.50" y="317.25" width="7.55" height="3.80" fill="#c8dcf0"/>
<rect x="956.00" y="317.25" width="3.80" height="3.80" fill="#d7e7f5"/>
<rect x="959.75" y="317.25" width="3.80" height="3.80" fill="#e7f1fa"/>
<rect x="727.25" y="321.00" width="3.80" height="3.80" fill="#e7f1fa"/>
<rect x="731.00" y="321.00" width="3.80" height="3.80" fill="#a3cce3"/>
<rect x="734.75" y="321.00" width="3.80" height="3.80" fill="#3e8ec4"/>
<rect x="738.50" y="321.00" width="11.30" height="3.80" fill="#1764ab"/>
<rect x="749.75" y="321.00" width="3.80" height="3.80" fill="#1f6eb3"/>
<rect x="753.50" y="321.00" width="3.80" height="3.80" fill="#57a1ce"/>
<rect x="757.25" y="321.00" width="3.80" height="3.80" fill="#bcd7ec"/>
<rect x="761.00" y="321.00" width="3.80" height="3.80" fill="#eff6fc"/>
<rect x="941.00" y="321.00" width="3.80" height="3.80" fill="#eff6fc"/>
<rect x="944.75" y="321.00" width="11.30" height="3.80" fill="#e7f1fa"/>
<rect x="956.00" y="321.00" width="7.55" height="3.80" fill="#eff6fc"/>
<rect x="727.25" y="324.75" width="3.80" height="3.80" fill="#e7f1fa"/>
<rect x="731.00" y="324.75" width="3.80" height="3.80" fill="#a3cce3"/>
<rect x="734.75" y="324.75" width="3.80" height="3.80" fill="#3e8ec4"/>
<rect x="738.50" y="324.75" width="3.80" height="3.80" fill="#1f6eb3"/>
<rect x="742.25" y="324.75" width="7.55" height="3.80" fill="#1764ab"/>
<rect x="749.75" y="324.75" width="3.80" height="3.80" fill="#1f6eb3"/>
<rect x="753.50" y="324.75" width="3.80" height="3.80" fill="#57a1ce"/>
<rect x="757.25" y="324.75" width="3.80" height="3.80" fill="#bcd7ec"/>
<rect x="761.00" y="324.75" width="3.80" height="3.80" fill="#eff6fc"/>
<rect x="727.25" y="328.50" width="3.80" height="3.80" fill="#e7f1fa"/>
<rect x="731.00" y="328.50" width="3.80" height="3.80" fill="#b0d1e7"/>
<rect x="734.75" y="328.50" width="3.80" height="3.80" fill="#4a98c9"/>
<rect x="738.50" y="328.50" width="3.80" height="3.80" fill="#2979b9"/>
<rect x="742.25" y="328.50" width="7.55" height="3.80" fill="#1f6eb3"/>
<rect x="749.75" y="328.50" width="3.80" height="3.80" fill="#2979b9"/>
<rect x="753.50" y="328.50" width="3.80" height="3.80" fill="#64aad3"/>
<rect x="757.25" y="328.50" width="3.80" height="3.80" fill="#bcd7ec"/>
<rect x="761.00" y="328.50" width="3.80" height="3.80" fill="#eff6fc"/>
<rect x="929.75" y="328.50" width="18.80" height="3.80" fill="#eff6fc"/>
<rect x="727.25" y="332.25" width="3.80" height="3.80" fill="#eff6fc"/>
<rect x="731.00" y="332.25" width="3.80" height="3.80" fill="#c8dcf0"/>
<rect x="734.75" y="332.25" width="3.80" height="3.80" fill="#94c4df"/>
<rect x="738.50" y="332.25" width="3.80" height="3.80" fill="#64aad3"/>
<rect x="742.25" y="332.25" width="7.55" height="3.80" fill="#57a1ce"/>
<rect x="749.75" y="332.25" width="3.80" height="3.80" fill="#64aad3"/>
<rect x="753.50" y="332.25" width="3.80" height="3.80" fill="#a3cce3"/>
<rect x="757.25" y="332.25" width="3.80" height="3.80" fill="#d0e1f2"/>
<rect x="761.00" y="332.25" width="3.80" height="3.80" fill="#eff6fc"/>
<rect x="926.00" y="332.25" width="3.80" height="3.80" fill="#eff6fc"/>
<rect x="929.75" y="332.25" width="3.80" height="3.80" fill="#dfecf7"/>
<rect x="933.50" y="332.25" width="11.30" height="3.80" fill="#d0e1f2"/>
<rect x="944.75" y="332.25" width="3.80" height="3.80" fill="#d7e7f5"/>
<rect x="948.50" y="332.25" width="3.80" height="3.80" fill="#e7f1fa"/>
<rect x="727.25" y="336.00" width="3.80" height="3.80" fill="#eff6fc"/>
<rect x="731.00" y="336.00" width="3.80" height="3.80" fill="#dfecf7"/>
<rect x="734.75" y="336.00" width="3.80" height="3.80" fill="#c8dcf0"/>
<rect x="738.50" y="336.00" width="3.80" height="3.80" fill="#b0d1e7"/>
<rect x="742.25" y="336.00" width="7.55" height="3.80" fill="#94c4df"/>
<rect x="749.75" y="336.00" width="3.80" height="3.80" fill="#bcd7ec"/>
<rect x="753.50" y="336.00" width="3.80" height="3.80" fill="#d0e1f2"/>
<rect x="757.25" y="336.00" width="3.80" height="3.80" fill="#e7f1fa"/>
<rect x="922.25" y="336.00" width="3.80" height="3.80" fill="#e7f1fa"/>
<rect x="926.00" y="336.00" width="3.80" height="3.80" fill="#dfecf7"/>
<rect x="929.75" y="336.00" width="3.80" height="3.80" fill="#c8dcf0"/>
<rect x="933.50" y="336.00" width="3.80" height="3.80" fill="#a3cce3"/>
<rect x="937.25" y="336.00" width="7.55" height="3.80" fill="#94c4df"/>
<rect x="944.75" y="336.00" width="3.80" height="3.80" fill="#bcd7ec"/>
<rect x="948.50" y="336.00" width="3.80" height="3.80" fill="#d7e7f5"/>
<rect x="952.25" y="336.00" width="3.80" height="3.80" fill="#eff6fc"/>
<rect x="731.00" y="339.75" width="3.80" height="3.80" fill="#eff6fc"/>
<rect x="734.75" y="339.75" width="3.80" height="3.80" fill="#dfecf7"/>
<rect x="738.50" y="339.75" width="3.80" height="3.80" fill="#d7e7f5"/>
<rect x="742.25" y="339.75" width="3.80" height="3.80" fill="#c8dcf0"/>
<rect x="746.00" y="339.75" width="3.80" height="3.80" fill="#d0e1f2"/>
<rect x="749.75" y="339.75" width="3.80" height="3.80" fill="#d7e7f5"/>
<rect x="753.50" y="339.75" width="3.80" height="3.80" fill="#e7f1fa"/>
<rect x="757.25" y="339.75" width="3.80" height="3.80" fill="#eff6fc"/>
<rect x="918.50" y="339.75" width="3.80" height="3.80" fill="#eff6fc"/>
<rect x="922.25" y="339.75" width="3.80" height="3.80" fill="#d7e7f5"/>
<rect x="926.00" y="339.75" width="3.80" height="3.80" fill="#bcd7ec"/>
<rect x="929.75" y="339.75" width="3.80" height="3.80" fill="#94c4df"/>
<rect x="933.50" y="339.75" width="3.80" height="3.80" fill="#73b2d8"/>
<rect x="937.25" y="339.75" width="7.55" height="3.80" fill="#64aad3"/>
<rect x="944.75" y="339.75" width="3.80" height="3.80" fill="#94c4df"/>
<rect x="948.50" y="339.75" width="3.80" height="3.80" fill="#d0e1f2"/>
<rect x="952.25" y="339.75" width="3.80" height="3.80" fill="#e7f1fa"/>
<rect x="738.50" y="343.50" width="15.05" height="3.80" fill="#eff6fc"/>
<rect x="918.50" y="343.50" width="3.80" height="3.80" fill="#e7f1fa"/>
<rect x="922.25" y="343.50" width="3.80" height="3.80" fill="#bcd7ec"/>
<rect x="926.00" y="343.50" width="3.80" height="3.80" fill="#83bbdb"/>
<rect x="929.75" y="343.50" width="7.55" height="3.80" fill="#57a1ce"/>
<rect x="937.25" y="343.50" width="3.80" height="3.80" fill="#4a98c9"/>
<rect x="941.00" y="343.50" width="3.80" height="3.80" fill="#57a1ce"/>
<rect x="944.75" y="343.50" width="3.80" height="3.80" fill="#73b2d8"/>
<rect x="948.50" y="343.50" width="3.80" height="3.80" fill="#bcd7ec"/>
<rect x="952.25" y="343.50" width="3.80" height="3.80" fill="#dfecf7"/>
<rect x="903.50" y="347.25" width="15.05" height="3.80" fill="#eff6fc"/>
<rect x="918.50" y="347.25" width="3.80" height="3.80" fill="#e7f1fa"/>
<rect x="922.25" y="347.25" width="3.80" height="3.80" fill="#bcd7ec"/>
<rect x="926.00" y="347.25" width="3.80" height="3.80" fill="#73b2d8"/>
<rect x="929.75" y="347.25" width="15.05" height="3.80" fill="#57a1ce"/>
<rect x="944.75" y="347.25" width="3.80" height="3.80" fill="#73b2d8"/>
<rect x="948.50" y="347.25" width="3.80" height="3.80" fill="#b0d1e7"/>
<rect x="952.25" y="347.25" width="3.80" height="3.80" fill="#dfecf7"/>
<rect x="899.75" y="351.00" width="3.80" height="3.80" fill="#eff6fc"/>
<rect x="903.50" y="351.00" width="3.80" height="3.80" fill="#e7f1fa"/>
<rect x="907.25" y="351.00" width="7.55" height="3.80" fill="#dfecf7"/>
<rect x="914.75" y="351.00" width="7.55" height="3.80" fill="#e7f1fa"/>
<rect x="922.25" y="351.00" width="3.80" height="3.80" fill="#d0e1f2"/>
<rect x="926.00" y="351.00" width="3.80" height="3.80" fill="#b0d1e7"/>
<rect x="929.75" y="351.00" width="15.05" height="3.80" fill="#94c4df"/>
<rect x="944.75" y="351.00" width="3.80" height="3.80" fill="#b0d1e7"/>
<rect x="948.50" y="351.00" width="3.80" height="3.80" fill="#d0e1f2"/>
<rect x="952.25" y="351.00" width="3.80" height="3.80" fill="#e7f1fa"/>
<rect x="731.00" y="354.75" width="3.80" height="3.80" fill="#eff6fc"/>
<rect x="734.75" y="354.75" width="3.80" height="3.80" fill="#e7f1fa"/>
<rect x="738.50" y="354.75" width="7.55" height="3.80" fill="#dfecf7"/>
<rect x="746.00" y="354.75" width="3.80" height="3.80" fill="#e7f1fa"/>
<rect x="749.75" y="354.75" width="3.80" height="3.80" fill="#eff6fc"/>
<rect x="899.75" y="354.75" width="3.80" height="3.80" fill="#e7f1fa"/>
<rect x="903.50" y="354.75" width="3.80" height="3.80" fill="#d7e7f5"/>
<rect x="907.25" y="354.75" width="3.80" height="3.80" fill="#d0e1f2"/>
<rect x="911.00" y="354.75" width="3.80" height="3.80" fill="#d7e7f5"/>
<rect x="914.75" y="354.75" width="3.80" height="3.80" fill="#dfecf7"/>
<rect x="918.50" y="354.75" width="3.80" height="3.80" fill="#eff6fc"/>
<rect x="922.25" y="354.75" width="3.80" height="3.80" fill="#e7f1fa"/>
<rect x="926.00" y="354.75" width="3.80" height="3.80" fill="#dfecf7"/>
<rect x="929.75" y="354.75" width="15.05" height="3.80" fill="#d7e7f5"/>
<rect x="944.75" y="354.75" width="3.80" height="3.80" fill="#dfecf7"/>
<rect x="948.50" y="354.75" width="3.80" height="3.80" fill="#e7f1fa"/>
<rect x="952.25" y="354.75" width="3.80" height="3.80" fill="#eff6fc"/>
<rect x="731.00" y="358.50" width="3.80" height="3.80" fill="#eff6fc"/>
<rect x="734.75" y="358.50" width="3.80" height="3.80" fill="#d7e7f5"/>
<rect x="738.50" y="358.50" width="7.55" height="3.80" fill="#bcd7ec"/>
<rect x="746.00" y="358.50" width="3.80" height="3.80" fill="#d0e1f2"/>
<rect x="749.75" y="358.50" width="3.80" height="3.80" fill="#dfecf7"/>
<rect x="892.25" y="358.50" width="7.55" height="3.80" fill="#eff6fc"/>
<rect x="899.75" y="358.50" width="3.80" height="3.80" fill="#e7f1fa"/>
<rect x="903.50" y="358.50" width="3.80" height="3.80" fill="#d7e7f5"/>
<rect x="907.25" y="358.50" width="3.80" height="3.80" fill="#c8dcf0"/>
<rect x="911.00" y="358.50" width="3.80" height="3.80" fill="#d0e1f2"/>
<rect x="914.75" y="358.50" width="3.80" height="3.80" fill="#dfecf7"/>
<rect x="918.50" y="358.50" width="3.80" height="3.80" fill="#eff6fc"/>
<rect x="929.75" y="358.50" width="18.80" height="3.80" fill="#eff6fc"/>
<rect x="731.00" y="362.25" width="3.80" height="3.80" fill="#e7f1fa"/>
<rect x="734.75" y="362.25" width="3.80" height="3.80" fill="#c8dcf0"/>
<rect x="738.50" y="362.25" width="3.80" height="3.80" fill="#94c4df"/>
<rect x="742.25" y="362.25" width="3.80" height="3.80" fill="#83bbdb"/>
<rect x="746.00" y="362.25" width="3.80" height="3.80" fill="#b0d1e7"/>
<rect x="749.75" y="362.25" width="3.80" height="3.80" fill="#d7e7f5"/>
<rect x="753.50" y="362.25" width="3.80" height="3.80" fill="#eff6fc"/>
<rect x="888.50" y="362.25" width="3.80" height="3.80" fill="#e7f1fa"/>
<rect x="892.25" y="362.25" width="3.80" height="3.80" fill="#dfecf7"/>
<rect x="896.00" y="362.25" width="7.55" height="3.80" fill="#d7e7f5"/>
<rect x="903.50" y="362.25" width="3.80" height="3.80" fill="#d0e1f2"/>
<rect x="907.25" y="362.25" width="3.80" height="3.80" fill="#c8dcf0"/>
<rect x="911.00" y="362.25" width="3.80" height="3.80" fill="#d0e1f2"/>
<rect x="914.75" y="362.25" width="3.80" height="3.80" fill="#dfecf7"/>
<rect x="731.00" y="366.00" width="3.80" height="3.80" fill="#e7f1fa"/>
<rect x="734.75" y="366.00" width="3.80" height="3.80" fill="#bcd7ec"/>
<rect x="738.50" y="366.00" width="3.80" height="3.80" fill="#83bbdb"/>
<rect x="742.25" y="366.00" width="3.80" height="3.80" fill="#73b2d8"/>
<rect x="746.00" y="366.00" width="3.80" height="3.80" fill="#a3cce3"/>
<rect x="749.75" y="366.00" width="3.80" height="3.80" fill="#d7e7f5"/>
<rect x="753.50" y="366.00" width="3.80" height="3.80" fill="#eff6fc"/>
<rect x="888.50" y="366.00" width="3.80" height="3.80" fill="#dfecf7"/>
<rect x="892.25" y="366.00" width="3.80" height="3.80" fill="#d0e1f2"/>
<rect x="896.00" y="366.00" width="3.80" height="3.80" fill="#c8dcf0"/>
<rect x="899.75" y="366.00" width="11.30" height="3.80" fill="#bcd7ec"/>
<rect x="911.00" y="366.00" width="3.80" height="3.80" fill="#d0e1f2"/>
<rect x="914.75" y="366.00" width="3.80" height="3.80" fill="#dfecf7"/>
<rect x="918.50" y="366.00" width="3.80" height="3.80" fill="#eff6fc"/>
<rect x="731.00" y="369.75" width="3.80" height="3.80" fill="#e7f1fa"/>
<rect x="734.75" y="369.75" width="3.80" height="3.80" fill="#bcd7ec"/>
<rect x="738.50" y="369.75" width="3.80" height="3.80" fill="#83bbdb"/>
<rect x="742.25" y="369.75" width="3.80" height="3.80" fill="#73b2d8"/>
<rect x="746.00" y="369.75" width="3.80" height="3.80" fill="#a3cce3"/>
<rect x="749.75" y="369.75" width="3.80" height="3.80" fill="#d7e7f5"/>
<rect x="753.50" y="369.75" width="3.80" height="3.80" fill="#eff6fc"/>
<rect x="884.75" y="369.75" width="3.80" height="3.80" fill="#eff6fc"/>
<rect x="888.50" y="369.75" width="3.80" height="3.80" fill="#dfecf7"/>
<rect x="892.25" y="369.75" width="3.80" height="3.80" fill="#c8dcf0"/>
<rect x="896.00" y="369.75" width="15.05" height="3.80" fill="#b0d1e7"/>
<rect x="911.00" y="369.75" width="3.80" height="3.80" fill="#c8dcf0"/>
<rect x="914.75" y="369.75" width="3.80" height="3.80" fill="#dfecf7"/>
<rect x="918.50" y="369.75" width="3.80" height="3.80" fill="#eff6fc"/>
<rect x="731.00" y="373.50" width="3.80" height="3.80" fill="#e7f1fa"/>
<rect x="734.75" y="373.50" width="3.80" height="3.80" fill="#c8dcf0"/>
<rect x="738.50" y="373.50" width="3.80" height="3.80" fill="#a3cce3"/>
<rect x="742.25" y="373.50" width="3.80" height="3.80" fill="#94c4df"/>
<rect x="746.00" y="373.50" width="3.80" height="3.80" fill="#bcd7ec"/>
<rect x="749.75" y="373.50" width="3.80" height="3.80" fill="#d7e7f5"/>
<rect x="753.50" y="373.50" width="3.80" height="3.80" fill="#eff6fc"/>
<rect x="836.00" y="373.50" width="26.30" height="3.80" fill="#eff6fc"/>
<rect x="884.75" y="373.50" width="3.80" height="3.80" fill="#eff6fc"/>
<rect x="888.50" y="373.50" width="3.80" height="3.80" fill="#dfecf7"/>
<rect x="892.25" y="373.50" width="3.80" height="3.80" fill="#c8dcf0"/>
<rect x="896.00" y="373.50" width="15.05" height="3.80" fill="#b0d1e7"/>
<rect x="911.00" y="373.50" width="3.80" height="3.80" fill="#c8dcf0"/>
<rect x="914.75" y="373.50" width="3.80" height="3.80" fill="#dfecf7"/>
<rect x="918.50" y="373.50" width="3.80" height="3.80" fill="#eff6fc"/>
<rect x="731.00" y="377.25" width="3.80" height="3.80" fill="#eff6fc"/>
<rect x="734.75" y="377.25" width="3.80" height="3.80" fill="#d7e7f5"/>
<rect x="738.50" y="377.25" width="3.80" height="3.80" fill="#c8dcf0"/>
<rect x="742.25" y="377.25" width="3.80" height="3.80" fill="#bcd7ec"/>
<rect x="746.00" y="377.25" width="3.80" height="3.80" fill="#d0e1f2"/>
<rect x="749.75" y="377.25" width="3.80" height="3.80" fill="#e7f1fa"/>
<rect x="828.50" y="377.25" width="3.80" height="3.80" fill="#eff6fc"/>
<rect x="832.25" y="377.25" width="3.80" height="3.80" fill="#e7f1fa"/>
<rect x="836.00" y="377.25" width="3.80" height="3.80" fill="#dfecf7"/>
<rect x="839.75" y="377.25" width="22.55" height="3.80" fill="#d7e7f5"/>
<rect x="862.25" y="377.25" width="3.80" height="3.80" fill="#dfecf7"/>
<rect x="866.00" y="377.25" width="3.80" height="3.80" fill="#eff6fc"/>
<rect x="884.75" y="377.25" width="3.80" height="3.80" fill="#eff6fc"/>
<rect x="888.50" y="377.25" width="3.80" height="3.80" fill="#dfecf7"/>
<rect x="892.25" y="377.25" width="3.80" height="3.80" fill="#d0e1f2"/>
<rect x="896.00" y="377.25" width="15.05" height="3.80" fill="#bcd7ec"/>
<rect x="911.00" y="377.25" width="3.80" height="3.80" fill="#d0e1f2"/>
<rect x="914.75" y="377.25" width="3.80" height="3.80" fill="#dfecf7"/>
<rect x="918.50" y="377.25" width="3.80" height="3.80" fill="#eff6fc"/>
<rect x="731.00" y="381.00" width="7.55" height="3.80" fill="#eff6fc"/>
<rect x="738.50" y="381.00" width="3.80" height="3.80" fill="#e7f1fa"/>
<rect x="742.25" y="381.00" width="3.80" height="3.80" fill="#dfecf7"/>
<rect x="746.00" y="381.00" width="3.80" height="3.80" fill="#e7f1fa"/>
<rect x="749.75" y="381.00" width="3.80" height="3.80" fill="#eff6fc"/>
<rect x="828.50" y="381.00" width="3.80" height="3.80" fill="#eff6fc"/>
<rect x="832.25" y="381.00" width="3.80" height="3.80" fill="#d7e7f5"/>
<rect x="836.00" y="381.00" width="3.80" height="3.80" fill="#c8dcf0"/>
<rect x="839.75" y="381.00" width="18.80" height="3.80" fill="#b0d1e7"/>
<rect x="858.50" y="381.00" width="3.80" height="3.80" fill="#bcd7ec"/>
<rect x="862.25" y="381.00" width="3.80" height="3.80" fill="#d0e1f2"/>
<rect x="866.00" y="381.00" width="3.80" height="3.80" fill="#e7f1fa"/>
<rect x="888.50" y="381.00" width="3.80" height="3.80" fill="#e7f1fa"/>
<rect x="892.25" y="381.00" width="3.80" height="3.80" fill="#d7e7f5"/>
<rect x="896.00" y="381.00" width="15.05" height="3.80" fill="#d0e1f2"/>
<rect x="911.00" y="381.00" width="3.80" height="3.80" fill="#d7e7f5"/>
<rect x="914.75" y="381.00" width="3.80" height="3.80" fill="#e7f1fa"/>
<rect x="828.50" y="384.75" width="3.80" height="3.80" fill="#eff6fc"/>
<rect x="832.25" y="384.75" width="3.80" height="3.80" fill="#d0e1f2"/>
<rect x="836.00" y="384.75" width="3.80" height="3.80" fill="#b0d1e7"/>
<rect x="839.75" y="384.75" width="18.80" height="3.80" fill="#94c4df"/>
<rect x="858.50" y="384.75" width="3.80" height="3.80" fill="#a3cce3"/>
<rect x="862.25" y="384.75" width="3.80" height="3.80" fill="#bcd7ec"/>
<rect x="866.00" y="384.75" width="3.80" height="3.80" fill="#dfecf7"/>
<rect x="869.75" y="384.75" width="3.80" height="3.80" fill="#eff6fc"/>
<rect x="888.50" y="384.75" width="7.55" height="3.80" fill="#eff6fc"/>
<rect x="896.00" y="384.75" width="15.05" height="3.80" fill="#e7f1fa"/>
<rect x="911.00" y="384.75" width="7.55" height="3.80" fill="#eff6fc"/>
<rect x="828.50" y="388.50" width="3.80" height="3.80" fill="#eff6fc"/>
<rect x="832.25" y="388.50" width="3.80" height="3.80" fill="#d0e1f2"/>
<rect x="836.00" y="388.50" width="3.80" height="3.80" fill="#a3cce3"/>
<rect x="839.75" y="388.50" width="3.80" height="3.80" fill="#94c4df"/>
<rect x="843.50" y="388.50" width="15.05" height="3.80" fill="#83bbdb"/>
<rect x="858.50" y="388.50" width="3.80" height="3.80" fill="#94c4df"/>
<rect x="862.25" y="388.50" width="3.80" height="3.80" fill="#bcd7ec"/>
<rect x="866.00" y="388.50" width="3.80" height="3.80" fill="#dfecf7"/>
<rect x="869.75" y="388.50" width="3.80" height="3.80" fill="#eff6fc"/>
<rect x="828.50" y="392.25" width="3.80" height="3.80" fill="#eff6fc"/>
<rect x="832.25" y="392.25" width="3.80" height="3.80" fill="#d0e1f2"/>
<rect x="836.00" y="392.25" width="3.80" height="3.80" fill="#b0d1e7"/>
<rect x="839.75" y="392.25" width="3.80" height="3.80" fill="#94c4df"/>
<rect x="843.50" y="392.25" width="15.05" height="3.80" fill="#83bbdb"/>
<rect x="858.50" y="392.25" width="3.80" height="3.80" fill="#94c4df"/>
<rect x="862.25" y="392.25" width="3.80" height="3.80" fill="#bcd7ec"/>
<rect x="866.00" y="392.25" width="3.80" height="3.80" fill="#dfecf7"/>
<rect x="869.75" y="392.25" width="3.80" height="3.80" fill="#eff6fc"/>
<rect x="828.50" y="396.00" width="3.80" height="3.80" fill="#eff6fc"/>
<rect x="832.25" y="396.00" width="3.80" height="3.80" fill="#d0e1f2"/>
<rect x="836.00" y="396.00" width="3.80" height="3.80" fill="#b0d1e7"/>
<rect x="839.75" y="396.00" width="18.80" height="3.80" fill="#83bbdb"/>
<rect x="858.50" y="396.00" width="3.80" height="3.80" fill="#94c4df"/>
<rect x="862.25" y="396.00" width="3.80" height="3.80" fill="#bcd7ec"/>
<rect x="866.00" y="396.00" width="3.80" height="3.80" fill="#dfecf7"/>
<rect x="828.50" y="399.75" width="3.80" height="3.80" fill="#eff6fc"/>
<rect x="832.25" y="399.75" width="3.80" height="3.80" fill="#c8dcf0"/>
<rect x="836.00" y="399.75" width="3.80" height="3.80" fill="#83bbdb"/>
<rect x="839.75" y="399.75" width="3.80" height="3.80" fill="#57a1ce"/>
<rect x="843.50" y="399.75" width="15.05" height="3.80" fill="#4a98c9"/>
<rect x="858.50" y="399.75" width="3.80" height="3.80" fill="#64aad3"/>
<rect x="862.25" y="399.75" width="3.80" height="3.80" fill="#b0d1e7"/>
<rect x="866.00" y="399.75" width="3.80" height="3.80" fill="#dfecf7"/>
<rect x="828.50" y="403.50" width="3.80" height="3.80" fill="#eff6fc"/>
<rect x="832.25" y="403.50" width="3.80" height="3.80" fill="#c8dcf0"/>
<rect x="836.00" y="403.50" width="3.80" height="3.80" fill="#83bbdb"/>
<rect x="839.75" y="403.50" width="3.80" height="3.80" fill="#57a1ce"/>
<rect x="843.50" y="403.50" width="11.30" height="3.80" fill="#4a98c9"/>
<rect x="854.75" y="403.50" width="3.80" height="3.80" fill="#57a1ce"/>
<rect x="858.50" y="403.50" width="3.80" height="3.80" fill="#64aad3"/>
<rect x="862.25" y="403.50" width="3.80" height="3.80" fill="#b0d1e7"/>
<rect x="866.00" y="403.50" width="3.80" height="3.80" fill="#dfecf7"/>
<rect x="764.75" y="407.25" width="3.80" height="3.80" fill="#eff6fc"/>
<rect x="768.50" y="407.25" width="7.55" height="3.80" fill="#e7f1fa"/>
<rect x="776.00" y="407.25" width="11.30" height="3.80" fill="#dfecf7"/>
<rect x="787.25" y="407.25" width="7.55" height="3.80" fill="#e7f1fa"/>
<rect x="794.75" y="407.25" width="3.80" height="3.80" fill="#eff6fc"/>
<rect x="828.50" y="407.25" width="3.80" height="3.80" fill="#eff6fc"/>
<rect x="832.25" y="407.25" width="3.80" height="3.80" fill="#d0e1f2"/>
<rect x="836.00" y="407.25" width="3.80" height="3.80" fill="#b0d1e7"/>
<rect x="839.75" y="407.25" width="11.30" height="3.80" fill="#83bbdb"/>
<rect x="851.00" y="407.25" width="7.55" height="3.80" fill="#94c4df"/>
<rect x="858.50" y="407.25" width="3.80" height="3.80" fill="#a3cce3"/>
<rect x="862.25" y="407.25" width="3.80" height="3.80" fill="#c8dcf0"/>
<rect x="866.00" y="407.25" width="3.80" height="3.80" fill="#e7f1fa"/>
<rect x="764.75" y="411.00" width="3.80" height="3.80" fill="#e7f1fa"/>
<rect x="768.50" y="411.00" width="3.80" height="3.80" fill="#d7e7f5"/>
<rect x="772.25" y="411.00" width="3.80" height="3.80" fill="#d0e1f2"/>
<rect x="776.00" y="411.00" width="7.55" height="3.80" fill="#c8dcf0"/>
<rect x="783.50" y="411.00" width="7.55" height="3.80" fill="#d0e1f2"/>
<rect x="791.00" y="411.00" width="3.80" height="3.80" fill="#d7e7f5"/>
<rect x="794.75" y="411.00" width="3.80" height="3.80" fill="#e7f1fa"/>
<rect x="828.50" y="411.00" width="3.80" height="3.80" fill="#eff6fc"/>
<rect x="832.25" y="411.00" width="3.80" height="3.80" fill="#d7e7f5"/>
<rect x="836.00" y="411.00" width="3.80" height="3.80" fill="#bcd7ec"/>
<rect x="839.75" y="411.00" width="3.80" height="3.80" fill="#a3cce3"/>
<rect x="843.50" y="411.00" width="3.80" height="3.80" fill="#b0d1e7"/>
<rect x="847.25" y="411.00" width="3.80" height="3.80" fill="#c8dcf0"/>
<rect x="851.00" y="411.00" width="7.55" height="3.80" fill="#d0e1f2"/>
<rect x="858.50" y="411.00" width="3.80" height="3.80" fill="#d7e7f5"/>
<rect x="862.25" y="411.00" width="3.80" height="3.80" fill="#dfecf7"/>
<rect x="866.00" y="411.00" width="3.80" height="3.80" fill="#eff6fc"/>
<rect x="761.00" y="414.75" width="3.80" height="3.80" fill="#eff6fc"/>
<rect x="764.75" y="414.75" width="3.80" height="3.80" fill="#dfecf7"/>
<rect x="768.50" y="414.75" width="3.80" height="3.80" fill="#c8dcf0"/>
<rect x="772.25" y="414.75" width="15.05" height="3.80" fill="#b0d1e7"/>
<rect x="787.25" y="414.75" width="3.80" height="3.80" fill="#bcd7ec"/>
<rect x="791.00" y="414.75" width="3.80" height="3.80" fill="#d0e1f2"/>
<rect x="794.75" y="414.75" width="3.80" height="3.80" fill="#dfecf7"/>
<rect x="828.50" y="414.75" width="3.80" height="3.80" fill="#eff6fc"/>
<rect x="832.25" y="414.75" width="3.80" height="3.80" fill="#d7e7f5"/>
<rect x="836.00" y="414.75" width="3.80" height="3.80" fill="#c8dcf0"/>
<rect x="839.75" y="414.75" width="3.80" height="3.80" fill="#bcd7ec"/>
<rect x="843.50" y="414.75" width="3.80" height="3.80" fill="#c8dcf0"/>
<rect x="847.25" y="414.75" width="3.80" height="3.80" fill="#d7e7f5"/>
<rect x="851.00" y="414.75" width="11.30" height="3.80" fill="#eff6fc"/>
<rect x="761.00" y="418.50" width="3.80" height="3.80" fill="#eff6fc"/>
<rect x="764.75" y="418.50" width="3.80" height="3.80" fill="#d7e7f5"/>
<rect x="768.50" y="418.50" width="3.80" height="3.80" fill="#c8dcf0"/>
<rect x="772.25" y="418.50" width="18.80" height="3.80" fill="#b0d1e7"/>
<rect x="791.00" y="418.50" width="3.80" height="3.80" fill="#c8dcf0"/>
<rect x="794.75" y="418.50" width="3.80" height="3.80" fill="#dfecf7"/>
<rect x="828.50" y="418.50" width="3.80" height="3.80" fill="#eff6fc"/>
<rect x="832.25" y="418.50" width="3.80" height="3.80" fill="#e7f1fa"/>
<rect x="836.00" y="418.50" width="3.80" height="3.80" fill="#d7e7f5"/>
<rect x="839.75" y="418.50" width="3.80" height="3.80" fill="#d0e1f2"/>
<rect x="843.50" y="418.50" width="3.80" height="3.80" fill="#d7e7f5"/>
<rect x="847.25" y="418.50" width="3.80" height="3.80" fill="#e7f1fa"/>
<rect x="851.00" y="418.50" width="3.80" height="3.80" fill="#eff6fc"/>
<rect x="761.00" y="422.25" width="3.80" height="3.80" fill="#eff6fc"/>
<rect x="764.75" y="422.25" width="3.80" height="3.80" fill="#d7e7f5"/>
<rect x="768.50" y="422.25" width="3.80" height="3.80" fill="#c8dcf0"/>
<rect x="772.25" y="422.25" width="18.80" height="3.80" fill="#b0d1e7"/>
<rect x="791.00" y="422.25" width="3.80" height="3.80" fill="#d0e1f2"/>
<rect x="794.75" y="422.25" width="3.80" height="3.80" fill="#dfecf7"/>
<rect x="798.50" y="422.25" width="3.80" height="3.80" fill="#eff6fc"/>
<rect x="828.50" y="422.25" width="7.55" height="3.80" fill="#eff6fc"/>
<rect x="836.00" y="422.25" width="7.55" height="3.80" fill="#e7f1fa"/>
<rect x="843.50" y="422.25" width="7.55" height="3.80" fill="#eff6fc"/>
<rect x="764.75" y="426.00" width="3.80" height="3.80" fill="#dfecf7"/>
<rect x="768.50" y="426.00" width="3.80" height="3.80" fill="#d0e1f2"/>
<rect x="772.25" y="426.00" width="18.80" height="3.80" fill="#c8dcf0"/>
<rect x="791.00" y="426.00" width="3.80" height="3.80" fill="#d7e7f5"/>
<rect x="794.75" y="426.00" width="11.30" height="3.80" fill="#dfecf7"/>
<rect x="806.00" y="426.00" width="3.80" height="3.80" fill="#e7f1fa"/>
<rect x="809.75" y="426.00" width="3.80" height="3.80" fill="#eff6fc"/>
<rect x="821.00" y="426.00" width="3.80" height="3.80" fill="#eff6fc"/>
<rect x="824.75" y="426.00" width="7.55" height="3.80" fill="#dfecf7"/>
<rect x="832.25" y="426.00" width="3.80" height="3.80" fill="#d7e7f5"/>
<rect x="836.00" y="426.00" width="3.80" height="3.80" fill="#dfecf7"/>
<rect x="839.75" y="426.00" width="3.80" height="3.80" fill="#e7f1fa"/>
<rect x="843.50" y="426.00" width="3.80" height="3.80" fill="#eff6fc"/>
<rect x="761.00" y="429.75" width="3.80" height="3.80" fill="#eff6fc"/>
<rect x="764.75" y="429.75" width="3.80" height="3.80" fill="#e7f1fa"/>
<rect x="768.50" y="429.75" width="26.30" height="3.80" fill="#dfecf7"/>
<rect x="794.75" y="429.75" width="3.80" height="3.80" fill="#d7e7f5"/>
<rect x="798.50" y="429.75" width="7.55" height="3.80" fill="#d0e1f2"/>
<rect x="806.00" y="429.75" width="3.80" height="3.80" fill="#d7e7f5"/>
<rect x="809.75" y="429.75" width="3.80" height="3.80" fill="#dfecf7"/>
<rect x="813.50" y="429.75" width="7.55" height="3.80" fill="#eff6fc"/>
<rect x="821.00" y="429.75" width="3.80" height="3.80" fill="#d7e7f5"/>
<rect x="824.75" y="429.75" width="3.80" height="3.80" fill="#bcd7ec"/>
<rect x="828.50" y="429.75" width="7.55" height="3.80" fill="#94c4df"/>
<rect x="836.00" y="429.75" width="3.80" height="3.80" fill="#b0d1e7"/>
<rect x="839.75" y="429.75" width="3.80" height="3.80" fill="#d0e1f2"/>
<rect x="843.50" y="429.75" width="3.80" height="3.80" fill="#e7f1fa"/>
<rect x="746.00" y="433.50" width="7.55" height="3.80" fill="#eff6fc"/>
<rect x="753.50" y="433.50" width="3.80" height="3.80" fill="#e7f1fa"/>
<rect x="757.25" y="433.50" width="7.55" height="3.80" fill="#dfecf7"/>
<rect x="764.75" y="433.50" width="7.55" height="3.80" fill="#e7f1fa"/>
<rect x="772.25" y="433.50" width="18.80" height="3.80" fill="#eff6fc"/>
<rect x="791.00" y="433.50" width="3.80" height="3.80" fill="#dfecf7"/>
<rect x="794.75" y="433.50" width="3.80" height="3.80" fill="#d0e1f2"/>
<rect x="798.50" y="433.50" width="3.80" height="3.80" fill="#c8dcf0"/>
<rect x="802.25" y="433.50" width="3.80" height="3.80" fill="#bcd7ec"/>
<rect x="806.00" y="433.50" width="3.80" height="3.80" fill="#c8dcf0"/>
<rect x="809.75" y="433.50" width="3.80" height="3.80" fill="#dfecf7"/>
<rect x="813.50" y="433.50" width="7.55" height="3.80" fill="#eff6fc"/>
<rect x="821.00" y="433.50" width="3.80" height="3.80" fill="#c8dcf0"/>
<rect x="824.75" y="433.50" width="3.80" height="3.80" fill="#83bbdb"/>
<rect x="828.50" y="433.50" width="3.80" height="3.80" fill="#4a98c9"/>
<rect x="832.25" y="433.50" width="3.80" height="3.80" fill="#3e8ec4"/>
<rect x="836.00" y="433.50" width="3.80" height="3.80" fill="#64aad3"/>
<rect x="839.75" y="433.50" width="3.80" height="3.80" fill="#b0d1e7"/>
<rect x="843.50" y="433.50" width="3.80" height="3.80" fill="#dfecf7"/>
<rect x="746.00" y="437.25" width="3.80" height="3.80" fill="#eff6fc"/>
<rect x="749.75" y="437.25" width="3.80" height="3.80" fill="#d7e7f5"/>
<rect x="753.50" y="437.25" width="3.80" height="3.80" fill="#c8dcf0"/>
<rect x="757.25" y="437.25" width="7.55" height="3.80" fill="#bcd7ec"/>
<rect x="764.75" y="437.25" width="3.80" height="3.80" fill="#d0e1f2"/>
<rect x="768.50" y="437.25" width="3.80" height="3.80" fill="#dfecf7"/>
<rect x="772.25" y="437.25" width="3.80" height="3.80" fill="#eff6fc"/>
<rect x="791.00" y="437.25" width="3.80" height="3.80" fill="#dfecf7"/>
<rect x="794.75" y="437.25" width="3.80" height="3.80" fill="#d0e1f2"/>
<rect x="798.50" y="437.25" width="7.55" height="3.80" fill="#bcd7ec"/>
<rect x="806.00" y="437.25" width="3.80" height="3.80" fill="#c8dcf0"/>
<rect x="809.75" y="437.25" width="3.80" height="3.80" fill="#d7e7f5"/>
<rect x="813.50" y="437.25" width="7.55" height="3.80" fill="#eff6fc"/>
<rect x="821.00" y="437.25" width="3.80" height="3.80" fill="#bcd7ec"/>
<rect x="824.75" y="437.25" width="3.80" height="3.80" fill="#64aad3"/>
<rect x="828.50" y="437.25" width="3.80" height="3.80" fill="#2979b9"/>
<rect x="832.25" y="437.25" width="3.80" height="3.80" fill="#1f6eb3"/>
<rect x="836.00" y="437.25" width="3.80" height="3.80" fill="#3e8ec4"/>
<rect x="839.75" y="437.25" width="3.80" height="3.80" fill="#94c4df"/>
<rect x="843.50" y="437.25" width="3.80" height="3.80" fill="#dfecf7"/>
<rect x="746.00" y="441.00" width="3.80" height="3.80" fill="#e7f1fa"/>
<rect x="749.75" y="441.00" width="3.80" height="3.80" fill="#d0e1f2"/>
<rect x="753.50" y="441.00" width="3.80" height="3.80" fill="#a3cce3"/>
<rect x="757.25" y="441.00" width="7.55" height="3.80" fill="#94c4df"/>
<rect x="764.75" y="441.00" width="3.80" height="3.80" fill="#b0d1e7"/>
<rect x="768.50" y="441.00" width="3.80" height="3.80" fill="#d7e7f5"/>
<rect x="772.25" y="441.00" width="3.80" height="3.80" fill="#eff6fc"/>
<rect x="791.00" y="441.00" width="3.80" height="3.80" fill="#e7f1fa"/>
<rect x="794.75" y="441.00" width="3.80" height="3.80" fill="#d0e1f2"/>
<rect x="798.50" y="441.00" width="3.80" height="3.80" fill="#c8dcf0"/>
<rect x="802.25" y="441.00" width="3.80" height="3.80" fill="#bcd7ec"/>
<rect x="806.00" y="441.00" width="3.80" height="3.80" fill="#c8dcf0"/>
<rect x="809.75" y="441.00" width="3.80" height="3.80" fill="#dfecf7"/>
<rect x="813.50" y="441.00" width="7.55" height="3.80" fill="#eff6fc"/>
<rect x="821.00" y="441.00" width="3.80" height="3.80" fill="#bcd7ec"/>
<rect x="824.75" y="441.00" width="3.80" height="3.80" fill="#57a1ce"/>
<rect x="828.50" y="441.00" width="7.55" height="3.80" fill="#1f6eb3"/>
<rect x="836.00" y="441.00" width="3.80" height="3.80" fill="#3e8ec4"/>
<rect x="839.75" y="441.00" width="3.80" height="3.80" fill="#94c4df"/>
<rect x="843.50" y="441.00" width="3.80" height="3.80" fill="#dfecf7"/>
<rect x="746.00" y="444.75" width="3.80" height="3.80" fill="#e7f1fa"/>
<rect x="749.75" y="444.75" width="3.80" height="3.80" fill="#c8dcf0"/>
<rect x="753.50" y="444.75" width="3.80" height="3.80" fill="#94c4df"/>
<rect x="757.25" y="444.75" width="7.55" height="3.80" fill="#83bbdb"/>
<rect x="764.75" y="444.75" width="3.80" height="3.80" fill="#a3cce3"/>
<rect x="768.50" y="444.75" width="3.80" height="3.80" fill="#d0e1f2"/>
<rect x="772.25" y="444.75" width="3.80" height="3.80" fill="#eff6fc"/>
<rect x="791.00" y="444.75" width="3.80" height="3.80" fill="#e7f1fa"/>
<rect x="794.75" y="444.75" width="3.80" height="3.80" fill="#dfecf7"/>
<rect x="798.50" y="444.75" width="7.55" height="3.80" fill="#d0e1f2"/>
<rect x="806.00" y="444.75" width="3.80" height="3.80" fill="#d7e7f5"/>
<rect x="809.75" y="444.75" width="3.80" height="3.80" fill="#e7f1fa"/>
<rect x="813.50" y="444.75" width="7.55" height="3.80" fill="#eff6fc"/>
<rect x="821.00" y="444.75" width="3.80" height="3.80" fill="#bcd7ec"/>
<rect x="824.75" y="444.75" width="3.80" height="3.80" fill="#57a1ce"/>
<rect x="828.50" y="444.75" width="7.55" height="3.80" fill="#1f6eb3"/>
<rect x="836.00" y="444.75" width="3.80" height="3.80" fill="#3e8ec4"/>
<rect x="839.75" y="444.75" width="3.80" height="3.80" fill="#94c4df"/>
<rect x="843.50" y="444.75" width="3.80" height="3.80" fill="#dfecf7"/>
<rect x="746.00" y="448.50" width="3.80" height="3.80" fill="#e7f1fa"/>
<rect x="749.75" y="448.50" width="3.80" height="3.80" fill="#c8dcf0"/>
<rect x="753.50" y="448.50" width="3.80" height="3.80" fill="#a3cce3"/>
<rect x="757.25" y="448.50" width="7.55" height="3.80" fill="#83bbdb"/>
<rect x="764.75" y="448.50" width="3.80" height="3.80" fill="#a3cce3"/>
<rect x="768.50" y="448.50" width="3.80" height="3.80" fill="#d0e1f2"/>
<rect x="772.25" y="448.50" width="3.80" height="3.80" fill="#eff6fc"/>
<rect x="791.00" y="448.50" width="3.80" height="3.80" fill="#eff6fc"/>
<rect x="794.75" y="448.50" width="15.05" height="3.80" fill="#e7f1fa"/>
<rect x="809.75" y="448.50" width="3.80" height="3.80" fill="#eff6fc"/>
<rect x="817.25" y="448.50" width="3.80" height="3.80" fill="#eff6fc"/>
<rect x="821.00" y="448.50" width="3.80" height="3.80" fill="#bcd7ec"/>
<rect x="824.75" y="448.50" width="3.80" height="3.80" fill="#57a1ce"/>
<rect x="828.50" y="448.50" width="7.55" height="3.80" fill="#1f6eb3"/>
<rect x="836.00" y="448.50" width="3.80" height="3.80" fill="#3e8ec4"/>
<rect x="839.75" y="448.50" width="3.80" height="3.80" fill="#94c4df"/>
<rect x="843.50" y="448.50" width="3.80" height="3.80" fill="#dfecf7"/>
<rect x="746.00" y="452.25" width="3.80" height="3.80" fill="#e7f1fa"/>
<rect x="749.75" y="452.25" width="3.80" height="3.80" fill="#d0e1f2"/>
<rect x="753.50" y="452.25" width="3.80" height="3.80" fill="#bcd7ec"/>
<rect x="757.25" y="452.25" width="7.55" height="3.80" fill="#b0d1e7"/>
<rect x="764.75" y="452.25" width="3.80" height="3.80" fill="#bcd7ec"/>
<rect x="768.50" y="452.25" width="3.80" height="3.80" fill="#d7e7f5"/>
<rect x="772.25" y="452.25" width="3.80" height="3.80" fill="#eff6fc"/>
<rect x="817.25" y="452.25" width="3.80" height="3.80" fill="#eff6fc"/>
<rect x="821.00" y="452.25" width="3.80" height="3.80" fill="#bcd7ec"/>
<rect x="824.75" y="452.25" width="3.80" height="3.80" fill="#57a1ce"/>
<rect x="828.50" y="452.25" width="7.55" height="3.80" fill="#1f6eb3"/>
<rect x="836.00" y="452.25" width="3.80" height="3.80" fill="#3e8ec4"/>
<rect x="839.75" y="452.25" width="3.80" height="3.80" fill="#94c4df"/>
<rect x="843.50" y="452.25" width="3.80" height="3.80" fill="#dfecf7"/>
<rect x="746.00" y="456.00" width="3.80" height="3.80" fill="#eff6fc"/>
<rect x="749.75" y="456.00" width="3.80" height="3.80" fill="#e7f1fa"/>
<rect x="753.50" y="456.00" width="15.05" height="3.80" fill="#d7e7f5"/>
<rect x="768.50" y="456.00" width="3.80" height="3.80" fill="#e7f1fa"/>
<rect x="817.25" y="456.00" width="3.80" height="3.80" fill="#eff6fc"/>
<rect x="821.00" y="456.00" width="3.80" height="3.80" fill="#bcd7ec"/>
<rect x="824.75" y="456.00" width="3.80" height="3.80" fill="#57a1ce"/>
<rect x="828.50" y="456.00" width="3.80" height="3.80" fill="#2979b9"/>
<rect x="832.25" y="456.00" width="3.80" height="3.80" fill="#1f6eb3"/>
<rect x="836.00" y="456.00" width="3.80" height="3.80" fill="#3e8ec4"/>
<rect x="839.75" y="456.00" width="3.80" height="3.80" fill="#94c4df"/>
<rect x="843.50" y="456.00" width="3.80" height="3.80" fill="#dfecf7"/>
<rect x="753.50" y="459.75" width="15.05" height="3.80" fill="#eff6fc"/>
<rect x="817.25" y="459.75" width="3.80" height="3.80" fill="#eff6fc"/>
<rect x="821.00" y="459.75" width="3.80" height="3.80" fill="#c8dcf0"/>
<rect x="824.75" y="459.75" width="3.80" height="3.80" fill="#73b2d8"/>
<rect x="828.50" y="459.75" width="7.55" height="3.80" fill="#3383bf"/>
<rect x="836.00" y="459.75" width="3.80" height="3.80" fill="#57a1ce"/>
<rect x="839.75" y="459.75" width="3.80" height="3.80" fill="#a3cce3"/>
<rect x="843.50" y="459.75" width="3.80" height="3.80" fill="#dfecf7"/>
<rect x="772.25" y="463.50" width="7.55" height="3.80" fill="#eff6fc"/>
<rect x="817.25" y="463.50" width="3.80" height="3.80" fill="#eff6fc"/>
<rect x="821.00" y="463.50" width="3.80" height="3.80" fill="#d7e7f5"/>
<rect x="824.75" y="463.50" width="3.80" height="3.80" fill="#a3cce3"/>
<rect x="828.50" y="463.50" width="7.55" height="3.80" fill="#73b2d8"/>
<rect x="836.00" y="463.50" width="3.80" height="3.80" fill="#94c4df"/>
<rect x="839.75" y="463.50" width="3.80" height="3.80" fill="#c8dcf0"/>
<rect x="843.50" y="463.50" width="3.80" height="3.80" fill="#e7f1fa"/>
<rect x="761.00" y="467.25" width="3.80" height="3.80" fill="#eff6fc"/>
<rect x="764.75" y="467.25" width="3.80" height="3.80" fill="#e7f1fa"/>
<rect x="768.50" y="467.25" width="3.80" height="3.80" fill="#dfecf7"/>
<rect x="772.25" y="467.25" width="3.80" height="3.80" fill="#d7e7f5"/>
<rect x="776.00" y="467.25" width="3.80" height="3.80" fill="#dfecf7"/>
<rect x="779.75" y="467.25" width="3.80" height="3.80" fill="#e7f1fa"/>
<rect x="783.50" y="467.25" width="3.80" height="3.80" fill="#eff6fc"/>
<rect x="821.00" y="467.25" width="3.80" height="3.80" fill="#e7f1fa"/>
<rect x="824.75" y="467.25" width="3.80" height="3.80" fill="#d7e7f5"/>
<rect x="828.50" y="467.25" width="7.55" height="3.80" fill="#d0e1f2"/>
<rect x="836.00" y="467.25" width="3.80" height="3.80" fill="#d7e7f5"/>
<rect x="839.75" y="467.25" width="3.80" height="3.80" fill="#dfecf7"/>
<rect x="843.50" y="467.25" width="3.80" height="3.80" fill="#eff6fc"/>
<rect x="761.00" y="471.00" width="3.80" height="3.80" fill="#eff6fc"/>
<rect x="764.75" y="471.00" width="3.80" height="3.80" fill="#d7e7f5"/>
<rect x="768.50" y="471.00" width="3.80" height="3.80" fill="#c8dcf0"/>
<rect x="772.25" y="471.00" width="7.55" height="3.80" fill="#bcd7ec"/>
<rect x="779.75" y="471.00" width="3.80" height="3.80" fill="#d0e1f2"/>
<rect x="783.50" y="471.00" width="3.80" height="3.80" fill="#dfecf7"/>
<rect x="824.75" y="471.00" width="15.05" height="3.80" fill="#eff6fc"/>
<rect x="761.00" y="474.75" width="3.80" height="3.80" fill="#e7f1fa"/>
<rect x="764.75" y="474.75" width="3.80" height="3.80" fill="#c8dcf0"/>
<rect x="768.50" y="474.75" width="3.80" height="3.80" fill="#a3cce3"/>
<rect x="772.25" y="474.75" width="3.80" height="3.80" fill="#83bbdb"/>
<rect x="776.00" y="474.75" width="3.80" height="3.80" fill="#94c4df"/>
<rect x="779.75" y="474.75" width="3.80" height="3.80" fill="#b0d1e7"/>
<rect x="783.50" y="474.75" width="3.80" height="3.80" fill="#d7e7f5"/>
<rect x="787.25" y="474.75" width="3.80" height="3.80" fill="#eff6fc"/>
<rect x="821.00" y="474.75" width="15.05" height="3.80" fill="#eff6fc"/>
<rect x="761.00" y="478.50" width="3.80" height="3.80" fill="#e7f1fa"/>
<rect x="764.75" y="478.50" width="3.80" height="3.80" fill="#c8dcf0"/>
<rect x="768.50" y="478.50" width="3.80" height="3.80" fill="#94c4df"/>
<rect x="772.25" y="478.50" width="7.55" height="3.80" fill="#83bbdb"/>
<rect x="779.75" y="478.50" width="3.80" height="3.80" fill="#b0d1e7"/>
<rect x="783.50" y="478.50" width="3.80" height="3.80" fill="#d7e7f5"/>
<rect x="787.25" y="478.50" width="3.80" height="3.80" fill="#eff6fc"/>
<rect x="813.50" y="478.50" width="3.80" height="3.80" fill="#e7f1fa"/>
<rect x="817.25" y="478.50" width="3.80" height="3.80" fill="#dfecf7"/>
<rect x="821.00" y="478.50" width="15.05" height="3.80" fill="#d7e7f5"/>
<rect x="836.00" y="478.50" width="3.80" height="3.80" fill="#dfecf7"/>
<rect x="839.75" y="478.50" width="3.80" height="3.80" fill="#eff6fc"/>
<rect x="761.00" y="482.25" width="3.80" height="3.80" fill="#e7f1fa"/>
<rect x="764.75" y="482.25" width="3.80" height="3.80" fill="#c8dcf0"/>
<rect x="768.50" y="482.25" width="3.80" height="3.80" fill="#a3cce3"/>
<rect x="772.25" y="482.25" width="7.55" height="3.80" fill="#83bbdb"/>
<rect x="779.75" y="482.25" width="3.80" height="3.80" fill="#b0d1e7"/>
<rect x="783.50" y="482.25" width="3.80" height="3.80" fill="#d7e7f5"/>
<rect x="787.25" y="482.25" width="3.80" height="3.80" fill="#eff6fc"/>
<rect x="809.75" y="482.25" width="3.80" height="3.80" fill="#eff6fc"/>
<rect x="813.50" y="482.25" width="3.80" height="3.80" fill="#d7e7f5"/>
<rect x="817.25" y="482.25" width="3.80" height="3.80" fill="#bcd7ec"/>
<rect x="821.00" y="482.25" width="3.80" height="3.80" fill="#a3cce3"/>
<rect x="824.75" y="482.25" width="7.55" height="3.80" fill="#94c4df"/>
<rect x="832.25" y="482.25" width="3.80" height="3.80" fill="#a3cce3"/>
<rect x="836.00" y="482.25" width="3.80" height="3.80" fill="#c8dcf0"/>
<rect x="839.75" y="482.25" width="3.80" height="3.80" fill="#dfecf7"/>
<rect x="843.50" y="482.25" width="3.80" height="3.80" fill="#eff6fc"/>
<rect x="761.00" y="486.00" width="3.80" height="3.80" fill="#eff6fc"/>
<rect x="764.75" y="486.00" width="3.80" height="3.80" fill="#d7e7f5"/>
<rect x="768.50" y="486.00" width="3.80" height="3.80" fill="#bcd7ec"/>
<rect x="772.25" y="486.00" width="7.55" height="3.80" fill="#b0d1e7"/>
<rect x="779.75" y="486.00" width="3.80" height="3.80" fill="#d0e1f2"/>
<rect x="783.50" y="486.00" width="3.80" height="3.80" fill="#dfecf7"/>
<rect x="809.75" y="486.00" width="3.80" height="3.80" fill="#eff6fc"/>
<rect x="813.50" y="486.00" width="3.80" height="3.80" fill="#c8dcf0"/>
<rect x="817.25" y="486.00" width="3.80" height="3.80" fill="#83bbdb"/>
<rect x="821.00" y="486.00" width="15.05" height="3.80" fill="#57a1ce"/>
<rect x="836.00" y="486.00" width="3.80" height="3.80" fill="#94c4df"/>
<rect x="839.75" y="486.00" width="3.80" height="3.80" fill="#d0e1f2"/>
<rect x="843.50" y="486.00" width="3.80" height="3.80" fill="#eff6fc"/>
<rect x="761.00" y="489.75" width="3.80" height="3.80" fill="#eff6fc"/>
<rect x="764.75" y="489.75" width="3.80" height="3.80" fill="#e7f1fa"/>
<rect x="768.50" y="489.75" width="3.80" height="3.80" fill="#dfecf7"/>
<rect x="772.25" y="489.75" width="7.55" height="3.80" fill="#d7e7f5"/>
<rect x="779.75" y="489.75" width="3.80" height="3.80" fill="#dfecf7"/>
<rect x="783.50" y="489.75" width="3.80" height="3.80" fill="#eff6fc"/>
<rect x="809.75" y="489.75" width="3.80" height="3.80" fill="#eff6fc"/>
<rect x="813.50" y="489.75" width="3.80" height="3.80" fill="#c8dcf0"/>
<rect x="817.25" y="489.75" width="3.80" height="3.80" fill="#73b2d8"/>
<rect x="821.00" y="489.75" width="3.80" height="3.80" fill="#4a98c9"/>
<rect x="824.75" y="489.75" width="7.55" height="3.80" fill="#3e8ec4"/>
<rect x="832.25" y="489.75" width="3.80" height="3.80" fill="#4a98c9"/>
<rect x="836.00" y="489.75" width="3.80" height="3.80" fill="#83bbdb"/>
<rect x="839.75" y="489.75" width="3.80" height="3.80" fill="#d0e1f2"/>
<rect x="843.50" y="489.75" width="3.80" height="3.80" fill="#eff6fc"/>
<rect x="768.50" y="493.50" width="11.30" height="3.80" fill="#eff6fc"/>
<rect x="809.75" y="493.50" width="3.80" height="3.80" fill="#eff6fc"/>
<rect x="813.50" y="493.50" width="3.80" height="3.80" fill="#d0e1f2"/>
<rect x="817.25" y="493.50" width="3.80" height="3.80" fill="#94c4df"/>
<rect x="821.00" y="493.50" width="3.80" height="3.80" fill="#73b2d8"/>
<rect x="824.75" y="493.50" width="7.55" height="3.80" fill="#64aad3"/>
<rect x="832.25" y="493.50" width="3.80" height="3.80" fill="#73b2d8"/>
<rect x="836.00" y="493.50" width="3.80" height="3.80" fill="#a3cce3"/>
<rect x="839.75" y="493.50" width="3.80" height="3.80" fill="#d7e7f5"/>
<rect x="843.50" y="493.50" width="3.80" height="3.80" fill="#eff6fc"/>
<rect x="809.75" y="497.25" width="3.80" height="3.80" fill="#eff6fc"/>
<rect x="813.50" y="497.25" width="3.80" height="3.80" fill="#dfecf7"/>
<rect x="817.25" y="497.25" width="3.80" height="3.80" fill="#c8dcf0"/>
<rect x="821.00" y="497.25" width="3.80" height="3.80" fill="#bcd7ec"/>
<rect x="824.75" y="497.25" width="3.80" height="3.80" fill="#b0d1e7"/>
<rect x="828.50" y="497.25" width="7.55" height="3.80" fill="#bcd7ec"/>
<rect x="836.00" y="497.25" width="3.80" height="3.80" fill="#d0e1f2"/>
<rect x="839.75" y="497.25" width="3.80" height="3.80" fill="#e7f1fa"/>
<rect x="809.75" y="501.00" width="3.80" height="3.80" fill="#eff6fc"/>
<rect x="813.50" y="501.00" width="22.55" height="3.80" fill="#e7f1fa"/>
<rect x="836.00" y="501.00" width="7.55" height="3.80" fill="#eff6fc"/>
<rect x="802.25" y="504.75" width="3.80" height="3.80" fill="#eff6fc"/>
<rect x="806.00" y="504.75" width="3.80" height="3.80" fill="#e7f1fa"/>
<rect x="809.75" y="504.75" width="3.80" height="3.80" fill="#d7e7f5"/>
<rect x="813.50" y="504.75" width="7.55" height="3.80" fill="#d0e1f2"/>
<rect x="821.00" y="504.75" width="3.80" height="3.80" fill="#dfecf7"/>
<rect x="824.75" y="504.75" width="3.80" height="3.80" fill="#e7f1fa"/>
<rect x="802.25" y="508.50" width="3.80" height="3.80" fill="#eff6fc"/>
<rect x="806.00" y="508.50" width="3.80" height="3.80" fill="#d0e1f2"/>
<rect x="809.75" y="508.50" width="3.80" height="3.80" fill="#b0d1e7"/>
<rect x="813.50" y="508.50" width="3.80" height="3.80" fill="#94c4df"/>
<rect x="817.25" y="508.50" width="3.80" height="3.80" fill="#a3cce3"/>
<rect x="821.00" y="508.50" width="3.80" height="3.80" fill="#bcd7ec"/>
<rect x="824.75" y="508.50" width="3.80" height="3.80" fill="#dfecf7"/>
<rect x="828.50" y="508.50" width="3.80" height="3.80" fill="#eff6fc"/>
<rect x="802.25" y="512.25" width="3.80" height="3.80" fill="#eff6fc"/>
<rect x="806.00" y="512.25" width="3.80" height="3.80" fill="#c8dcf0"/>
<rect x="809.75" y="512.25" width="3.80" height="3.80" fill="#83bbdb"/>
<rect x="813.50" y="512.25" width="7.55" height="3.80" fill="#64aad3"/>
<rect x="821.00" y="512.25" width="3.80" height="3.80" fill="#a3cce3"/>
<rect x="824.75" y="512.25" width="3.80" height="3.80" fill="#d0e1f2"/>
<rect x="828.50" y="512.25" width="3.80" height="3.80" fill="#eff6fc"/>
<rect x="802.25" y="516.00" width="3.80" height="3.80" fill="#eff6fc"/>
<rect x="806.00" y="516.00" width="3.80" height="3.80" fill="#c8dcf0"/>
<rect x="809.75" y="516.00" width="3.80" height="3.80" fill="#83bbdb"/>
<rect x="813.50" y="516.00" width="3.80" height="3.80" fill="#57a1ce"/>
<rect x="817.25" y="516.00" width="3.80" height="3.80" fill="#64aad3"/>
<rect x="821.00" y="516.00" width="3.80" height="3.80" fill="#94c4df"/>
<rect x="824.75" y="516.00" width="3.80" height="3.80" fill="#d0e1f2"/>
<rect x="828.50" y="516.00" width="3.80" height="3.80" fill="#eff6fc"/>
<rect x="802.25" y="519.75" width="3.80" height="3.80" fill="#eff6fc"/>
<rect x="806.00" y="519.75" width="3.80" height="3.80" fill="#c8dcf0"/>
<rect x="809.75" y="519.75" width="3.80" height="3.80" fill="#94c4df"/>
<rect x="813.50" y="519.75" width="7.55" height="3.80" fill="#73b2d8"/>
<rect x="821.00" y="519.75" width="3.80" height="3.80" fill="#b0d1e7"/>
<rect x="824.75" y="519.75" width="3.80" height="3.80" fill="#d7e7f5"/>
<rect x="828.50" y="519.75" width="3.80" height="3.80" fill="#eff6fc"/>
<rect x="802.25" y="523.50" width="3.80" height="3.80" fill="#eff6fc"/>
<rect x="806.00" y="523.50" width="3.80" height="3.80" fill="#d7e7f5"/>
<rect x="809.75" y="523.50" width="3.80" height="3.80" fill="#c8dcf0"/>
<rect x="813.50" y="523.50" width="7.55" height="3.80" fill="#bcd7ec"/>
<rect x="821.00" y="523.50" width="3.80" height="3.80" fill="#d0e1f2"/>
<rect x="824.75" y="523.50" width="3.80" height="3.80" fill="#dfecf7"/>
<rect x="779.75" y="527.25" width="3.80" height="3.80" fill="#eff6fc"/>
<rect x="783.50" y="527.25" width="15.05" height="3.80" fill="#e7f1fa"/>
<rect x="798.50" y="527.25" width="3.80" height="3.80" fill="#eff6fc"/>
<rect x="806.00" y="527.25" width="3.80" height="3.80" fill="#eff6fc"/>
<rect x="809.75" y="527.25" width="3.80" height="3.80" fill="#e7f1fa"/>
<rect x="813.50" y="527.25" width="7.55" height="3.80" fill="#dfecf7"/>
<rect x="821.00" y="527.25" width="3.80" height="3.80" fill="#e7f1fa"/>
<rect x="824.75" y="527.25" width="3.80" height="3.80" fill="#eff6fc"/>
<rect x="779.75" y="531.00" width="3.80" height="3.80" fill="#e7f1fa"/>
<rect x="783.50" y="531.00" width="3.80" height="3.80" fill="#d7e7f5"/>
<rect x="787.25" y="531.00" width="7.55" height="3.80" fill="#d0e1f2"/>
<rect x="794.75" y="531.00" width="3.80" height="3.80" fill="#d7e7f5"/>
<rect x="798.50" y="531.00" width="3.80" height="3.80" fill="#e7f1fa"/>
<rect x="779.75" y="534.75" width="3.80" height="3.80" fill="#dfecf7"/>
<rect x="783.50" y="534.75" width="3.80" height="3.80" fill="#d0e1f2"/>
<rect x="787.25" y="534.75" width="7.55" height="3.80" fill="#bcd7ec"/>
<rect x="794.75" y="534.75" width="3.80" height="3.80" fill="#d0e1f2"/>
<rect x="798.50" y="534.75" width="3.80" height="3.80" fill="#dfecf7"/>
<rect x="779.75" y="538.50" width="3.80" height="3.80" fill="#dfecf7"/>
<rect x="783.50" y="538.50" width="3.80" height="3.80" fill="#c8dcf0"/>
<rect x="787.25" y="538.50" width="7.55" height="3.80" fill="#b0d1e7"/>
<rect x="794.75" y="538.50" width="3.80" height="3.80" fill="#c8dcf0"/>
<rect x="798.50" y="538.50" width="3.80" height="3.80" fill="#dfecf7"/>
<rect x="779.75" y="542.25" width="3.80" height="3.80" fill="#dfecf7"/>
<rect x="783.50" y="542.25" width="3.80" height="3.80" fill="#c8dcf0"/>
<rect x="787.25" y="542.25" width="7.55" height="3.80" fill="#b0d1e7"/>
<rect x="794.75" y="542.25" width="3.80" height="3.80" fill="#c8dcf0"/>
<rect x="798.50" y="542.25" width="3.80" height="3.80" fill="#dfecf7"/>
<rect x="779.75" y="546.00" width="3.80" height="3.80" fill="#e7f1fa"/>
<rect x="783.50" y="546.00" width="3.80" height="3.80" fill="#d0e1f2"/>
<rect x="787.25" y="546.00" width="7.55" height="3.80" fill="#bcd7ec"/>
<rect x="794.75" y="546.00" width="3.80" height="3.80" fill="#d0e1f2"/>
<rect x="798.50" y="546.00" width="3.80" height="3.80" fill="#e7f1fa"/>
<rect x="779.75" y="549.75" width="3.80" height="3.80" fill="#eff6fc"/>
<rect x="783.50" y="549.75" width="3.80" height="3.80" fill="#dfecf7"/>
<rect x="787.25" y="549.75" width="7.55" height="3.80" fill="#d7e7f5"/>
<rect x="794.75" y="549.75" width="3.80" height="3.80" fill="#dfecf7"/>
<rect x="798.50" y="549.75" width="3.80" height="3.80" fill="#eff6fc"/>
<rect x="783.50" y="553.50" width="15.05" height="3.80" fill="#eff6fc"/>
</g>
<g fill="none" stroke="#000" stroke-width="1.25" stroke-linejoin="round">
<path d="M717.6,217.9 L723.0,216.8 L728.0,209.6 L731.6,204.6 L738.5,199.0 L744.1,192.5 L747.8,185.2 L755.0,183.3 L755.3,178.1 L759.5,172.3 L765.6,166.6 L765.3,157.5 L768.1,153.2 L778.6,146.9 L774.9,144.4 L768.5,141.9 L768.1,137.4 L761.2,134.8 L754.3,131.4 L753.5,120.9 L751.6,108.8 L755.0,103.7 L761.5,100.3 L762.8,98.1 L757.3,94.8 L756.3,90.2 L749.0,85.3 L741.0,82.6 L740.6,78.1 L746.5,73.1 L749.8,70.3 L757.3,69.2 L758.0,67.8 L765.5,67.4 L771.8,65.4 L780.5,65.8 L782.8,69.7 L790.1,75.2 L796.2,79.9 L801.0,86.1 L807.7,90.8 L809.6,93.1 L816.5,93.6 L824.7,89.0 L831.0,87.6 L836.0,85.7 L843.5,87.8 L846.7,88.6 L850.4,93.1 L849.1,99.9 L846.5,106.6 L840.1,111.0 L838.1,116.2 L831.1,119.1 L831.7,125.1 L829.7,128.1 L832.8,131.2 L837.3,132.0 L836.6,138.0 L839.7,141.0 L835.8,144.7 L830.0,146.9 L826.9,143.1 L823.0,143.0 L823.6,146.8 L826.1,152.1 L827.9,155.1 L827.5,158.4 L831.8,157.9 L835.0,160.5 L836.9,159.0 L837.5,163.5 L842.6,165.8 L847.2,167.4 L851.7,171.9 L858.1,176.5 L863.3,180.3 L858.5,183.7 L854.6,187.5 L852.6,193.5 L848.6,199.4 L849.2,203.2 L854.5,206.2 L859.7,210.0 L865.0,213.0 L868.9,216.0 L874.2,219.8 L879.5,222.0 L884.8,224.3 L890.1,226.5 L895.5,229.4 L900.8,228.6 L907.4,228.5 L914.1,230.6 L916.8,235.8 L923.6,240.2 L928.9,239.3 L933.0,242.2 L939.7,243.5 L945.1,244.9 L950.4,244.7 L955.8,246.7 L961.2,245.8 L966.5,244.8 L966.9,238.8 L966.0,233.6 L965.6,228.1 L966.0,220.6 L972.4,216.5 L976.5,218.6 L977.4,224.6 L976.4,230.6 L977.9,235.8 L980.7,238.7 L985.4,239.2 L992.1,239.6 L997.3,237.1 L1002.7,238.3 L1009.4,237.9 L1016.0,236.7 L1021.3,235.6 L1025.9,234.6 L1025.6,229.3 L1024.6,224.9 L1019.3,224.5 L1017.1,221.6 L1017.6,218.6 L1025.6,218.8 L1033.4,216.0 L1035.7,211.3 L1042.0,207.1 L1044.5,203.9 L1052.2,201.0 L1055.7,195.5 L1062.0,191.2 L1068.7,192.9 L1073.9,192.4 L1078.2,188.3 L1082.6,186.3 L1086.9,189.7 L1084.5,192.9 L1088.7,195.6 L1090.9,198.4 L1087.5,204.0 L1092.7,203.5 L1100.1,204.2 L1104.3,206.8 L1104.1,211.4 L1099.9,216.3 L1101.9,223.7 L1099.3,224.7 L1096.2,220.5 L1091.1,222.5 L1085.9,224.5 L1079.5,228.1 L1073.1,230.9 L1073.0,237.7 L1072.2,244.5 L1069.2,250.1 L1066.3,254.8 L1068.1,261.5 L1066.6,268.4 L1064.4,274.6 L1062.2,282.3 L1055.4,282.1 L1050.3,282.5 L1050.4,287.7 L1050.2,295.3 L1047.8,300.0 L1046.9,307.5 L1047.9,312.0 L1044.1,317.1 L1041.3,315.5 L1039.3,316.4 L1038.1,309.7 L1036.3,302.3 L1034.4,294.9 L1032.6,288.3 L1028.1,291.6 L1025.6,295.5 L1025.2,300.0 L1022.5,301.7 L1019.7,300.4 L1017.3,294.5 L1015.0,289.4 L1016.7,284.8 L1021.3,281.5 L1026.6,278.9 L1029.2,276.5 L1031.7,274.0 L1032.7,267.9 L1033.9,264.9 L1028.4,263.7 L1020.3,264.3 L1010.9,264.6 L1002.8,265.3 L993.9,263.6 L993.0,258.3 L991.7,250.1 L989.8,252.8 L983.5,249.8 L981.1,246.9 L980.5,248.5 L972.4,247.3 L967.3,253.6 L970.1,257.9 L977.0,261.4 L981.2,264.9 L975.2,267.5 L969.9,270.7 L966.7,274.6 L969.6,278.2 L975.1,280.3 L977.9,282.4 L977.5,289.2 L975.6,292.2 L979.1,295.8 L978.6,299.6 L982.0,300.2 L983.1,308.4 L984.1,315.9 L983.7,321.9 L985.2,326.4 L985.3,326.6 L979.7,326.9 L975.6,327.0 L971.5,328.0 L968.0,327.4 L967.2,322.9 L963.1,326.1 L957.7,328.5 L953.6,331.7 L951.0,336.3 L952.5,340.7 L953.3,343.7 L950.0,346.8 L949.3,349.8 L944.6,354.5 L940.5,356.9 L933.6,360.8 L926.7,365.5 L918.4,371.7 L914.3,377.7 L907.4,383.9 L900.4,391.5 L893.4,399.0 L886.3,403.6 L881.4,406.1 L879.2,410.6 L877.8,414.4 L870.7,417.4 L863.6,419.7 L859.3,423.4 L857.8,427.9 L855.7,427.9 L855.0,424.9 L849.9,427.8 L846.3,433.1 L844.1,439.0 L843.3,445.0 L845.4,451.1 L845.3,460.1 L846.7,467.6 L847.4,473.6 L845.9,479.6 L843.6,485.6 L839.9,490.8 L838.4,496.0 L839.0,503.5 L839.4,512.5 L839.3,520.8 L833.6,521.5 L829.2,521.4 L827.6,527.4 L823.8,532.6 L823.0,536.3 L829.0,537.2 L832.6,540.2 L827.4,538.2 L821.5,538.5 L815.5,540.7 L810.9,545.1 L809.3,551.0 L805.4,554.7 L798.6,557.5 L794.9,555.9 L791.2,552.8 L786.9,547.4 L782.6,539.7 L779.9,532.1 L777.9,523.1 L774.5,513.9 L771.2,504.8 L767.8,497.1 L764.4,489.5 L760.3,481.8 L757.6,476.4 L755.7,469.6 L753.8,462.0 L751.3,452.9 L748.1,442.2 L744.8,436.0 L741.6,428.3 L738.4,419.1 L736.7,411.5 L735.7,402.5 L733.4,391.8 L731.1,381.2 L729.5,372.1 L729.0,367.5 L728.6,362.5 L728.1,353.4 L730.1,347.5 L733.0,345.5 L730.4,341.5 L728.8,332.4 L728.5,326.4 L726.6,323.3 L724.8,318.7 L726.4,314.2 L734.0,313.9 L726.3,315.7 L723.5,317.1 L722.4,323.0 L719.3,328.8 L711.5,332.8 L700.0,338.8 L695.9,337.0 L688.0,330.4 L681.0,321.6 L674.7,313.6 L672.3,308.8 L674.5,306.8 L680.0,308.0 L688.4,304.9 L694.2,300.8 L700.7,296.7 L694.5,297.0 L688.8,299.6 L680.5,301.2 L673.8,298.4 L667.4,292.6 L663.6,288.5 L661.1,285.3 L663.5,281.0 L671.1,280.1 L672.1,275.7 L682.3,276.5 L690.4,277.2 L696.0,275.3 L701.3,277.2 L707.5,276.2 L707.7,272.4 L706.1,266.3 L703.3,257.1 L701.5,253.2 L695.7,250.5 L694.7,244.4 L696.4,239.3 L692.5,237.5 L686.7,234.7 L687.1,229.5 L692.9,223.2 L697.3,217.5 L701.5,214.8 L704.7,216.5 L706.4,220.4 L714.5,218.7Z"/>
<path d="M762.8,98.1 L766.6,99.0 L768.3,102.1 L765.7,104.2 L771.3,106.0 L777.6,107.0 L780.6,112.4 L784.9,114.8 L788.6,119.5 L792.8,124.9 L796.6,128.0 L799.6,131.9 L802.1,134.9 L806.5,138.1 L812.3,136.7 L817.3,142.1 L821.8,141.5 L823.0,143.0"/>
<path d="M799.6,131.9 L794.5,132.4 L789.3,134.5 L785.4,137.4 L786.5,141.2 L784.5,144.8 L778.6,146.4"/>
<path d="M781.8,148.5 L786.1,153.9 L788.5,160.0 L791.6,162.4 L795.4,166.3 L798.5,170.9 L799.6,175.4 L803.5,177.8 L807.4,178.9 L810.1,174.2"/>
<path d="M755.0,183.3 L764.1,186.0 L769.3,186.3 L772.5,187.9 L774.3,191.7 L780.9,189.8 L787.5,188.5 L789.6,184.8 L794.9,182.8 L796.9,179.8 L799.6,175.4"/>
<path d="M707.7,272.4 L713.8,272.1 L722.0,271.9 L727.3,274.5 L731.1,277.7 L736.6,277.3 L739.2,279.7 L740.3,285.0 L742.8,288.1 L744.7,292.7 L749.3,296.0 L753.2,299.2 L757.2,301.6 L758.4,306.2"/>
<path d="M757.2,301.6 L761.4,299.6 L762.9,296.6 L761.6,294.3 L766.5,292.3 L768.0,290.1"/>
<path d="M965.2,234.9 L971.8,233.8 L977.9,235.8"/>
<path d="M993.4,239.5 L993.0,244.1 L991.2,248.7"/>
<path d="M1025.9,234.6 L1031.8,233.4 L1039.7,231.3 L1045.1,232.4 L1051.7,230.4 L1056.5,224.0 L1058.8,219.3 L1065.3,217.3 L1070.5,215.3 L1076.9,212.9 L1082.8,211.9 L1080.6,216.7 L1084.3,221.6 L1079.3,225.1 L1073.0,229.4"/>
<path d="M1073.0,229.4 L1069.0,230.5 L1065.3,233.8 L1060.3,238.8 L1058.0,243.5 L1054.3,248.3 L1051.8,251.5 L1046.8,256.4 L1048.5,260.8"/>
<path d="M1048.5,260.8 L1053.5,255.9 L1060.2,254.6 L1064.7,252.7 L1066.3,254.8"/>
<path d="M1048.5,260.8 L1046.2,267.0 L1043.2,273.2 L1043.1,280.7 L1050.3,282.5"/>
<path d="M993.9,263.6 L993.5,253.8 L1003.4,251.8 L1010.2,252.9 L1018.2,251.6 L1022.0,248.4 L1028.8,248.7 L1029.8,253.9 L1034.6,255.8 L1038.4,261.5 L1033.9,264.9"/>
<path d="M1032.6,288.3 L1032.1,280.0 L1038.1,277.3 L1043.0,280.0"/>
<path d="M1029.2,276.5 L1032.1,280.0"/>
<path d="M810.5,179.5 L806.8,184.0 L803.8,190.0 L802.2,197.5 L800.0,203.5 L799.2,209.5 L803.0,211.8 L806.0,216.2 L806.8,221.5 L805.2,226.0 L806.0,232.0 L809.0,236.5 L806.8,239.5"/>
<path d="M800.0,205.0 L802.2,206.5 L804.5,211.0 L803.0,212.5"/>
<path d="M810.5,179.5 L813.5,184.0 L812.8,190.0 L816.5,192.2 L821.8,194.5 L826.2,199.0 L830.0,201.2 L836.0,204.2 L842.0,206.5 L846.5,207.2"/>
<path d="M785.0,220.0 L789.5,222.2 L795.5,217.8 L800.0,220.0 L803.0,223.0 L806.0,224.5"/>
<path d="M806.8,239.5 L812.0,239.5 L818.0,240.7 L824.0,242.5 L828.5,246.2 L830.0,251.5 L827.0,257.5 L821.8,262.0 L818.0,265.0 L819.5,271.0 L818.0,277.0 L821.0,283.0 L826.2,284.2 L827.8,279.2 L824.8,272.5 L823.2,267.2 L827.0,263.5 L830.0,265.0 L834.5,271.0 L839.0,268.8 L845.0,267.2 L848.0,265.8 L851.0,271.0 L858.5,271.0 L864.5,270.2 L870.5,271.8 L875.8,275.5 L881.0,278.5 L886.2,280.0 L887.0,286.0 L890.0,290.5 L896.0,287.5 L897.5,280.0"/>
<path d="M818.0,241.0 L810.5,245.5 L801.5,251.5 L793.2,256.0 L791.0,260.5 L794.8,265.0 L803.8,265.8 L804.5,268.8 L800.0,270.2 L796.2,271.0 L797.8,278.5 L794.8,281.5 L789.5,283.0 L783.5,284.5 L777.5,288.2 L774.8,287.5 L779.3,284.5 L780.5,280.0 L779.3,275.5 L773.3,272.8 L771.5,270.2 L765.8,271.3 L764.8,275.8 L762.5,280.0 L759.5,287.5 L758.0,295.0 L755.0,301.0 L756.5,310.0 L755.0,317.5"/>
<path d="M903.5,230.5 L905.0,236.5 L909.5,241.0 L906.5,247.0 L908.0,253.0 L914.0,257.5 L909.5,262.0 L902.0,265.0 L896.8,271.0 L896.0,278.5 L897.5,280.0"/>
<path d="M755.0,317.5 L756.5,323.5 L761.0,326.5 L770.0,329.5 L777.5,331.0 L783.5,336.2 L789.5,334.8 L797.0,326.5 L804.5,325.8 L806.0,331.0 L815.0,330.2 L824.0,328.0 L836.0,329.5 L845.0,329.5 L851.0,334.0 L852.5,340.0"/>
<path d="M903.5,231.5 L906.5,237.5 L909.5,242.8 L905.0,246.5 L908.0,252.5 L913.2,258.5 L906.5,263.0 L899.8,266.8 L896.0,272.0 L896.8,279.5 L896.0,284.0 L896.0,287.8"/>
<path d="M896.8,279.5 L903.5,278.8 L911.0,282.5 L918.5,279.5 L924.5,281.8 L932.0,275.0 L938.0,276.5 L942.5,281.0 L948.5,278.0 L953.0,273.5 L957.5,267.5 L963.5,264.5 L965.0,260.0 L963.5,254.0 L968.0,249.5 L967.2,245.0"/>
<path d="M963.5,264.5 L965.0,272.0 L962.0,279.5 L957.5,285.5 L951.5,290.0 L944.0,293.0 L936.5,296.0 L934.2,299.8 L939.5,303.5 L943.2,305.8 L947.0,312.5 L950.0,318.5 L957.5,324.5 L965.0,327.5"/>
<path d="M943.2,305.8 L939.5,309.5 L938.0,314.0 L936.5,321.5 L926.0,318.5 L922.2,320.8 L921.5,314.0 L912.5,315.5 L906.5,314.8 L909.5,308.0 L905.0,297.5 L900.5,290.0 L896.0,287.8"/>
<path d="M906.5,314.8 L900.5,320.0 L897.5,327.5 L896.0,335.0 L890.0,338.0 L881.0,341.0 L880.2,348.5 L882.5,356.0 L884.8,358.2 L881.0,359.0 L875.0,356.0 L872.8,357.5 L876.5,363.5 L878.0,369.5 L879.5,375.5 L876.5,383.0 L872.0,389.0 L866.0,393.5 L864.5,399.9"/>
<path d="M917.0,371.0 L912.5,374.0 L908.0,376.2 L903.5,372.5 L899.8,371.0 L896.0,375.5 L892.2,380.0 L887.0,384.5 L882.5,381.5 L879.5,387.5 L875.0,389.8 L869.0,392.0 L864.5,393.5"/>
<path d="M749.2,412.5 L755.0,408.3 L762.5,405.8 L770.8,404.2 L771.7,398.3 L781.7,398.3 L786.7,392.5 L793.3,389.2 L795.0,384.2 L801.7,382.5 L805.8,378.3 L808.3,369.2 L815.0,365.8 L816.7,358.3 L825.0,360.8 L833.3,363.3 L840.0,365.0 L843.3,373.3 L846.7,378.3 L851.7,380.0 L855.0,385.0 L858.3,390.0 L860.0,394.2"/>
<path d="M802.5,382.0 L804.2,390.0 L801.7,400.0 L800.0,408.3 L798.3,415.0 L801.7,418.3 L801.7,423.3 L810.0,425.0 L816.7,423.3 L823.3,420.8 L830.0,415.0 L836.7,412.5 L843.3,408.3 L850.0,406.7 L856.7,403.3 L862.5,400.0 L860.0,394.2"/>
<path d="M850.8,330.0 L851.7,340.0 L850.0,346.7 L853.3,355.0 L856.7,363.3 L855.0,368.3 L848.3,371.7 L846.7,378.3"/>
<path d="M801.7,423.3 L795.0,426.7 L794.2,433.3 L790.0,438.3 L790.8,445.0 L793.3,450.0 L792.5,456.7 L795.8,460.0 L800.0,456.7 L806.7,458.3 L813.3,463.3 L816.7,468.3 L818.3,473.3 L826.7,470.8 L833.3,469.2 L840.0,467.5 L846.7,465.8"/>
<path d="M818.3,473.3 L813.3,478.3 L806.7,478.3 L801.7,481.7 L800.0,490.0 L795.0,492.5 L788.3,495.8 L780.0,492.5 L773.3,490.0 L766.7,483.3 L761.7,478.3 L757.5,476.7"/>
<path d="M788.3,495.8 L780.0,498.3 L783.3,503.3 L786.7,510.0 L790.0,518.3 L794.2,521.7 L795.8,530.0 L796.7,540.0 L795.0,548.3 L794.2,555.0"/>
<path d="M740.8,425.0 L746.7,426.7 L750.0,430.0 L748.3,436.7 L745.0,439.2"/>
<path d="M749.2,412.5 L750.0,420.0 L748.3,426.7"/>
<path d="M755.0,330.0 L750.0,333.3 L746.7,337.5 L742.5,338.3 L740.0,343.3 L735.8,346.7 L731.7,348.3 L727.5,347.5"/>
<path d="M886.2,288.7 L879.5,290.5 L872.0,290.5 L868.2,292.8 L870.5,296.5 L876.5,299.5 L877.2,303.2 L873.5,307.0 L870.5,313.0 L866.0,314.5 L860.8,316.0 L857.8,322.0 L856.2,326.5 L852.5,334.0"/>
<path d="M764.8,187.0 L766.2,193.8 L774.5,196.0 L779.0,203.5 L785.0,215.5 L785.0,220.0"/>
<path d="M810.5,179.5 L813.5,172.0 L815.0,167.5 L821.0,165.2 L827.0,166.0 L830.0,163.0"/>
<path d="M1053.6,458.2 L1056.1,458.0 L1056.8,462.3 L1055.6,469.5 L1055.7,477.4 L1054.3,481.9 L1053.5,489.0 L1053.5,495.1 L1052.9,500.0 L1050.5,496.2 L1049.6,488.4 L1050.9,482.1 L1051.3,475.9 L1050.5,469.8 L1051.9,464.5 L1052.8,460.0Z" stroke-width="1.6" fill="#111"/>
<path d="M1056.3,480.0 L1058.6,482.4 L1056.2,485.3 L1058.2,488.6Z" stroke-width="1.6"/>
<path d="M1048.0,510.5 L1048.5,506.0 L1051.5,504.1 L1052.1,507.6 L1050.6,511.2Z" stroke-width="1.6"/>
<path d="M1072.0,561.5 L1075.6,563.0 L1078.7,568.0 L1077.7,572.5 L1075.3,570.1 L1073.2,565.8Z" stroke-width="1.6"/>
<path d="M1066.9,552.2 L1068.5,549.9 L1070.8,550.6 L1070.6,553.7 L1068.0,554.3Z" stroke-width="1.6"/>
<path d="M1061.6,545.6 L1063.1,548.1 L1064.9,548.9" stroke-width="1.6"/>
<path d="M1071.1,542.7 L1071.9,545.7" stroke-width="1.6"/>
</g>
<path d="M967.5,322 L968.5,318 L970,320.5 L971.5,317.5 L973,321 L975,319.5 L977,321.5 L979,318 L980.5,321 L982,317.5 L983.5,320.5 L985,318 L986,322 L986.5,327 L984,328.5 L980,328 L976,329 L972,328.5 L969,329 L967.5,326 Z" fill="#000"/>
<rect x="711.0" y="493.4" width="1.8" height="1.8" fill="#000"/>
<rect x="719.9" y="492.1" width="1.8" height="1.8" fill="#000"/>
<rect x="724.2" y="495.7" width="1.8" height="1.8" fill="#000"/>
<rect x="720.0" y="499.9" width="1.8" height="1.8" fill="#000"/>
<rect x="710.8" y="505.4" width="1.8" height="1.8" fill="#000"/>
<rect x="717.4" y="511.0" width="1.8" height="1.8" fill="#000"/>
<rect x="735.4" y="507.3" width="1.8" height="1.8" fill="#000"/>
<rect x="712.0" y="519.0" width="1.8" height="1.8" fill="#000"/>
<rect x="733.8" y="519.2" width="1.8" height="1.8" fill="#000"/>
<rect x="722.3" y="549.7" width="1.8" height="1.8" fill="#000"/>
<rect x="1043.8" y="492.7" width="1.8" height="1.8" fill="#000"/>
<rect x="1044.0" y="502.3" width="1.8" height="1.8" fill="#000"/>
<rect x="1055.3" y="532.3" width="1.8" height="1.8" fill="#000"/>
</g>
<g id="pc">
<g fill-opacity="0.5" stroke="none">
<path d="M987.0,1127.7 A372.0,372.0 0 0 1 987.0,1132.2 Q621.0,1124.7 847.9,827.4 L855.9,821.0 L851.6,830.3 Q621.1,1124.7 987.0,1127.7 Z" fill="#CDAD00"/>
<path d="M987.0,1132.2 A372.0,372.0 0 0 1 986.9,1136.6 Q619.7,1124.1 715.4,761.2 L720.1,752.1 L719.5,762.3 Q619.8,1124.1 987.0,1132.2 Z" fill="#CDAD00"/>
<path d="M986.9,1136.6 A372.0,372.0 0 0 1 986.8,1141.1 Q618.3,1124.1 570.0,750.4 L571.2,740.2 L574.6,749.9 Q618.3,1124.0 986.9,1136.6 Z" fill="#CDAD00"/>
<path d="M986.8,1141.1 A372.0,372.0 0 0 1 986.6,1145.6 Q616.9,1124.6 428.5,796.6 L425.7,786.7 L432.5,794.4 Q616.9,1124.5 986.8,1141.1 Z" fill="#CDAD00"/>
<path d="M986.6,1145.6 A372.0,372.0 0 0 1 986.3,1150.1 Q615.0,1127.1 243.1,1049.4 L233.9,1045.1 L244.1,1045.0 Q615.0,1127.1 986.6,1145.6 Z" fill="#CDAD00"/>
<path d="M986.3,1150.1 A372.0,372.0 0 0 1 986.0,1154.5 Q620.6,1131.3 799.8,1459.7 L802.6,1469.6 L795.7,1462.0 Q620.5,1131.3 986.3,1150.1 Z" fill="#CDAD00"/>
<path d="M986.0,1154.5 A372.0,372.0 0 0 1 985.7,1159.0 Q621.6,1130.4 908.1,1369.5 L914.3,1377.7 L905.1,1373.1 Q621.6,1130.4 986.0,1154.5 Z" fill="#CDAD00"/>
<path d="M985.7,1159.0 A372.0,372.0 0 0 1 985.3,1163.4 Q622.2,1129.5 966.1,1273.1 L974.4,1279.2 L964.3,1277.4 Q622.2,1129.5 985.7,1159.0 Z" fill="#CDAD00"/>
<path d="M985.3,1163.4 A372.0,372.0 0 0 1 984.8,1167.9 Q622.4,1128.9 986.0,1209.9 L995.2,1214.4 L985.0,1214.5 Q622.4,1128.9 985.3,1163.4 Z" fill="#CDAD00"/>
<path d="M975.6,1219.3 A372.0,372.0 0 0 1 974.4,1223.6 Q622.3,1129.4 987.0,1205.4 L996.3,1209.8 L986.0,1209.9 Q622.3,1129.4 975.6,1219.3 Z" fill="#EEDC82"/>
<path d="M974.4,1223.6 A372.0,372.0 0 0 1 973.3,1227.9 Q620.9,1125.7 844.2,824.6 L852.1,818.1 L847.9,827.4 Q620.9,1125.7 974.4,1223.6 Z" fill="#EEDC82"/>
<path d="M973.3,1227.9 A372.0,372.0 0 0 1 972.0,1232.2 Q619.5,1125.1 711.2,760.1 L715.9,751.0 L715.4,761.2 Q619.6,1125.0 973.3,1227.9 Z" fill="#EEDC82"/>
<path d="M972.0,1232.2 A372.0,372.0 0 0 1 970.7,1236.5 Q618.1,1125.0 565.4,751.0 L566.5,740.7 L570.0,750.4 Q618.1,1125.0 972.0,1232.2 Z" fill="#EEDC82"/>
<path d="M970.7,1236.5 A372.0,372.0 0 0 1 969.4,1240.7 Q616.6,1125.5 424.5,798.9 L421.6,789.0 L428.5,796.6 Q616.7,1125.5 970.7,1236.5 Z" fill="#EEDC82"/>
<path d="M969.4,1240.7 A372.0,372.0 0 0 1 968.0,1245.0 Q615.5,1126.6 309.5,901.7 L302.9,893.8 L312.3,898.0 Q615.5,1126.5 969.4,1240.7 Z" fill="#EEDC82"/>
<path d="M968.0,1245.0 A372.0,372.0 0 0 1 966.6,1249.2 Q614.8,1128.2 242.2,1053.9 L232.9,1049.7 L243.1,1049.4 Q614.8,1128.1 968.0,1245.0 Z" fill="#EEDC82"/>
<path d="M966.6,1249.2 A372.0,372.0 0 0 1 965.1,1253.4 Q617.0,1132.5 469.6,1478.8 L463.6,1487.1 L465.3,1477.0 Q617.0,1132.4 966.6,1249.2 Z" fill="#EEDC82"/>
<path d="M965.1,1253.4 A372.0,372.0 0 0 1 963.6,1257.6 Q618.7,1132.8 639.5,1506.9 L637.8,1517.0 L634.9,1507.2 Q618.7,1132.8 965.1,1253.4 Z" fill="#EEDC82"/>
<path d="M963.6,1257.6 A372.0,372.0 0 0 1 962.0,1261.8 Q620.4,1132.3 803.9,1457.5 L806.7,1467.3 L799.8,1459.7 Q620.3,1132.3 963.6,1257.6 Z" fill="#EEDC82"/>
<path d="M962.0,1261.8 A372.0,372.0 0 0 1 960.4,1265.9 Q621.4,1131.5 911.1,1365.8 L917.4,1374.0 L908.1,1369.5 Q621.4,1131.5 962.0,1261.8 Z" fill="#EEDC82"/>
<path d="M960.4,1265.9 A372.0,372.0 0 0 1 958.7,1270.1 Q621.7,1131.0 945.6,1315.1 L953.1,1322.1 L943.3,1319.1 Q621.7,1131.0 960.4,1265.9 Z" fill="#EEDC82"/>
<path d="M932.9,1321.0 A372.0,372.0 0 0 1 930.5,1324.7 Q621.5,1131.5 947.9,1311.0 L955.5,1317.9 L945.6,1315.1 Q621.5,1131.5 932.9,1321.0 Z" fill="#FFD700"/>
<path d="M930.5,1324.7 A372.0,372.0 0 0 1 928.2,1328.5 Q621.9,1130.4 987.9,1200.9 L997.2,1205.1 L987.0,1205.4 Q621.9,1130.4 930.5,1324.7 Z" fill="#FFD700"/>
<path d="M928.2,1328.5 A372.0,372.0 0 0 1 925.8,1332.2 Q620.4,1126.7 840.5,821.8 L848.3,815.2 L844.2,824.6 Q620.4,1126.7 928.2,1328.5 Z" fill="#FFD700"/>
<path d="M925.8,1332.2 A372.0,372.0 0 0 1 923.3,1335.9 Q619.0,1126.1 707.1,759.0 L711.6,749.9 L711.2,760.1 Q619.1,1126.1 925.8,1332.2 Z" fill="#FFD700"/>
<path d="M923.3,1335.9 A372.0,372.0 0 0 1 920.8,1339.5 Q617.5,1126.1 560.8,751.6 L561.7,741.4 L565.4,751.0 Q617.6,1126.0 923.3,1335.9 Z" fill="#FFD700"/>
<path d="M920.8,1339.5 A372.0,372.0 0 0 1 918.3,1343.1 Q616.1,1126.6 420.6,801.2 L417.5,791.4 L424.5,798.9 Q616.2,1126.5 920.8,1339.5 Z" fill="#FFD700"/>
<path d="M918.3,1343.1 A372.0,372.0 0 0 1 915.7,1346.7 Q614.9,1127.7 306.8,905.4 L300.1,897.6 L309.5,901.7 Q615.0,1127.6 918.3,1343.1 Z" fill="#FFD700"/>
<path d="M915.7,1346.7 A372.0,372.0 0 0 1 913.0,1350.3 Q616.6,1133.5 473.9,1480.5 L468.0,1488.9 L469.6,1478.8 Q616.6,1133.4 915.7,1346.7 Z" fill="#FFD700"/>
<path d="M913.0,1350.3 A372.0,372.0 0 0 1 910.4,1353.8 Q618.2,1133.8 644.2,1506.6 L642.5,1516.7 L639.5,1506.9 Q618.2,1133.7 913.0,1350.3 Z" fill="#FFD700"/>
<path d="M910.4,1353.8 A372.0,372.0 0 0 1 907.7,1357.3 Q619.9,1133.3 807.9,1455.1 L810.9,1464.9 L803.9,1457.5 Q619.8,1133.3 910.4,1353.8 Z" fill="#FFD700"/>
<path d="M907.7,1357.3 A372.0,372.0 0 0 1 904.9,1360.8 Q620.5,1132.8 875.7,1404.2 L880.8,1413.1 L872.2,1407.4 Q620.5,1132.8 907.7,1357.3 Z" fill="#FFD700"/>
<path d="M862.0,1405.9 A372.0,372.0 0 0 1 858.6,1408.9 Q620.1,1133.2 879.1,1400.9 L884.3,1409.8 L875.7,1404.2 Q620.1,1133.2 862.0,1405.9 Z" fill="#548B54"/>
<path d="M858.6,1408.9 A372.0,372.0 0 0 1 855.2,1411.8 Q621.1,1131.2 988.8,1196.3 L998.2,1200.4 L987.9,1200.9 Q621.2,1131.2 858.6,1408.9 Z" fill="#548B54"/>
<path d="M855.2,1411.8 A372.0,372.0 0 0 1 851.7,1414.7 Q621.2,1130.4 994.6,1111.2 L1004.7,1113.2 L994.8,1115.8 Q621.2,1130.4 855.2,1411.8 Z" fill="#548B54"/>
<path d="M851.7,1414.7 A372.0,372.0 0 0 1 848.2,1417.5 Q620.9,1129.4 974.7,1005.1 L984.9,1004.1 L976.1,1009.4 Q621.0,1129.4 851.7,1414.7 Z" fill="#548B54"/>
<path d="M848.2,1417.5 A372.0,372.0 0 0 1 844.7,1420.3 Q620.3,1128.3 915.9,895.6 L925.1,891.2 L918.4,898.9 Q620.4,1128.3 848.2,1417.5 Z" fill="#548B54"/>
<path d="M844.7,1420.3 A372.0,372.0 0 0 1 841.1,1423.1 Q619.5,1127.6 836.7,819.1 L844.5,812.4 L840.5,821.8 Q619.6,1127.6 844.7,1420.3 Z" fill="#548B54"/>
<path d="M841.1,1423.1 A372.0,372.0 0 0 1 837.5,1425.8 Q618.1,1127.0 702.9,758.0 L707.3,748.8 L707.1,759.0 Q618.2,1127.0 841.1,1423.1 Z" fill="#548B54"/>
<path d="M837.5,1425.8 A372.0,372.0 0 0 1 833.9,1428.5 Q616.6,1127.0 556.2,752.3 L557.0,742.0 L560.8,751.6 Q616.7,1126.9 837.5,1425.8 Z" fill="#548B54"/>
<path d="M833.9,1428.5 A372.0,372.0 0 0 1 830.3,1431.1 Q615.2,1127.5 416.7,803.6 L413.5,793.8 L420.6,801.2 Q615.2,1127.4 833.9,1428.5 Z" fill="#548B54"/>
<path d="M830.3,1431.1 A372.0,372.0 0 0 1 826.6,1433.7 Q614.0,1128.6 304.1,909.2 L297.3,901.5 L306.8,905.4 Q614.1,1128.5 830.3,1431.1 Z" fill="#548B54"/>
<path d="M826.6,1433.7 A372.0,372.0 0 0 1 822.9,1436.2 Q613.3,1130.1 241.4,1058.4 L232.0,1054.3 L242.2,1053.9 Q613.4,1130.0 826.6,1433.7 Z" fill="#548B54"/>
<path d="M822.9,1436.2 A372.0,372.0 0 0 1 819.1,1438.7 Q613.6,1132.5 272.4,1292.1 L262.4,1294.3 L270.5,1288.0 Q613.6,1132.4 822.9,1436.2 Z" fill="#548B54"/>
<path d="M819.1,1438.7 A372.0,372.0 0 0 1 815.3,1441.2 Q614.4,1133.6 352.4,1402.4 L343.8,1408.0 L349.1,1399.1 Q614.4,1133.5 819.1,1438.7 Z" fill="#548B54"/>
<path d="M815.3,1441.2 A372.0,372.0 0 0 1 811.5,1443.6 Q615.6,1134.4 478.2,1482.2 L472.4,1490.7 L473.9,1480.5 Q615.6,1134.4 815.3,1441.2 Z" fill="#548B54"/>
<path d="M811.5,1443.6 A372.0,372.0 0 0 1 807.7,1445.9 Q617.3,1134.7 648.8,1506.2 L647.3,1516.4 L644.2,1506.6 Q617.3,1134.6 811.5,1443.6 Z" fill="#548B54"/>
<path d="M807.7,1445.9 A372.0,372.0 0 0 1 803.8,1448.2 Q618.1,1134.5 740.6,1486.3 L741.6,1496.6 L736.2,1487.9 Q618.1,1134.5 807.7,1445.9 Z" fill="#548B54"/>
<path d="M727.5,1482.3 A372.0,372.0 0 0 1 723.2,1483.6 Q617.4,1134.8 745.0,1484.8 L746.1,1495.0 L740.6,1486.3 Q617.4,1134.8 727.5,1482.3 Z" fill="#A2CD5A"/>
<path d="M723.2,1483.6 A372.0,372.0 0 0 1 718.9,1484.9 Q618.7,1134.0 882.5,1397.6 L887.8,1406.4 L879.1,1400.9 Q618.7,1134.0 723.2,1483.6 Z" fill="#A2CD5A"/>
<path d="M718.9,1484.9 A372.0,372.0 0 0 1 714.5,1486.1 Q619.3,1133.1 950.1,1306.9 L957.8,1313.7 L947.9,1311.0 Q619.4,1133.1 718.9,1484.9 Z" fill="#A2CD5A"/>
<path d="M714.5,1486.1 A372.0,372.0 0 0 1 710.2,1487.3 Q619.7,1131.9 989.6,1191.7 L999.0,1195.8 L988.8,1196.3 Q619.7,1132.0 714.5,1486.1 Z" fill="#A2CD5A"/>
<path d="M710.2,1487.3 A372.0,372.0 0 0 1 705.8,1488.4 Q619.7,1131.1 994.4,1106.7 L1004.5,1108.5 L994.6,1111.2 Q619.7,1131.1 710.2,1487.3 Z" fill="#A2CD5A"/>
<path d="M705.8,1488.4 A372.0,372.0 0 0 1 701.4,1489.5 Q619.4,1130.1 973.2,1000.9 L983.4,999.7 L974.7,1005.1 Q619.5,1130.1 705.8,1488.4 Z" fill="#A2CD5A"/>
<path d="M701.4,1489.5 A372.0,372.0 0 0 1 697.0,1490.5 Q618.8,1129.0 913.4,892.4 L922.6,887.9 L915.9,895.6 Q618.9,1129.0 701.4,1489.5 Z" fill="#A2CD5A"/>
<path d="M697.0,1490.5 A372.0,372.0 0 0 1 692.6,1491.5 Q618.0,1128.2 833.0,816.4 L840.6,809.6 L836.7,819.1 Q618.0,1128.2 697.0,1490.5 Z" fill="#A2CD5A"/>
<path d="M692.6,1491.5 A372.0,372.0 0 0 1 688.2,1492.4 Q616.6,1127.6 698.7,757.0 L703.1,747.8 L702.9,758.0 Q616.7,1127.6 692.6,1491.5 Z" fill="#A2CD5A"/>
<path d="M688.2,1492.4 A372.0,372.0 0 0 1 683.8,1493.3 Q615.1,1127.6 551.6,753.0 L552.3,742.8 L556.2,752.3 Q615.1,1127.6 688.2,1492.4 Z" fill="#A2CD5A"/>
<path d="M683.8,1493.3 A372.0,372.0 0 0 1 679.3,1494.1 Q613.6,1128.1 412.8,806.0 L409.4,796.3 L416.7,803.6 Q613.7,1128.1 683.8,1493.3 Z" fill="#A2CD5A"/>
<path d="M679.3,1494.1 A372.0,372.0 0 0 1 674.9,1494.8 Q612.5,1129.2 301.5,913.0 L294.6,905.4 L304.1,909.2 Q612.5,1129.2 679.3,1494.1 Z" fill="#A2CD5A"/>
<path d="M674.9,1494.8 A372.0,372.0 0 0 1 670.4,1495.5 Q611.8,1130.7 240.6,1062.9 L231.1,1058.9 L241.4,1058.4 Q611.9,1130.7 674.9,1494.8 Z" fill="#A2CD5A"/>
<path d="M670.4,1495.5 A372.0,372.0 0 0 1 666.0,1496.2 Q611.8,1132.0 239.3,1184.7 L229.1,1183.9 L238.6,1180.2 Q611.8,1131.9 670.4,1495.5 Z" fill="#A2CD5A"/>
<path d="M666.0,1496.2 A372.0,372.0 0 0 1 661.5,1496.8 Q612.1,1133.1 274.4,1296.2 L264.4,1298.6 L272.4,1292.1 Q612.1,1133.0 666.0,1496.2 Z" fill="#A2CD5A"/>
<path d="M661.5,1496.8 A372.0,372.0 0 0 1 657.0,1497.3 Q612.8,1134.2 355.8,1405.6 L347.3,1411.3 L352.4,1402.4 Q612.8,1134.1 661.5,1496.8 Z" fill="#A2CD5A"/>
<path d="M657.0,1497.3 A372.0,372.0 0 0 1 652.6,1497.8 Q614.1,1135.0 482.5,1483.9 L476.8,1492.4 L478.2,1482.2 Q614.1,1134.9 657.0,1497.3 Z" fill="#A2CD5A"/>
<path d="M652.6,1497.8 A372.0,372.0 0 0 1 648.1,1498.2 Q614.9,1135.2 574.6,1505.5 L571.2,1515.2 L570.0,1505.0 Q614.9,1135.2 652.6,1497.8 Z" fill="#A2CD5A"/>
<path d="M564.2,1496.2 A372.0,372.0 0 0 1 559.7,1495.6 Q614.1,1135.2 579.2,1506.0 L575.9,1515.7 L574.6,1505.5 Q614.1,1135.2 564.2,1496.2 Z" fill="#98FB98"/>
<path d="M559.7,1495.6 A372.0,372.0 0 0 1 555.2,1494.9 Q615.7,1134.9 749.3,1483.2 L750.6,1493.4 L745.0,1484.8 Q615.7,1134.9 559.7,1495.6 Z" fill="#98FB98"/>
<path d="M555.2,1494.9 A372.0,372.0 0 0 1 550.8,1494.1 Q617.1,1134.0 885.9,1394.2 L891.3,1402.9 L882.5,1397.6 Q617.1,1134.1 555.2,1494.9 Z" fill="#98FB98"/>
<path d="M550.8,1494.1 A372.0,372.0 0 0 1 546.3,1493.3 Q617.7,1133.1 952.3,1302.8 L960.0,1309.5 L950.1,1306.9 Q617.7,1133.2 550.8,1494.1 Z" fill="#98FB98"/>
<path d="M546.3,1493.3 A372.0,372.0 0 0 1 541.9,1492.4 Q618.0,1131.9 990.3,1187.1 L999.8,1191.1 L989.6,1191.7 Q618.1,1132.0 546.3,1493.3 Z" fill="#98FB98"/>
<path d="M541.9,1492.4 A372.0,372.0 0 0 1 537.4,1491.5 Q618.0,1131.1 994.1,1102.1 L1004.3,1103.8 L994.4,1106.7 Q618.1,1131.1 541.9,1492.4 Z" fill="#98FB98"/>
<path d="M537.4,1491.5 A372.0,372.0 0 0 1 533.0,1490.6 Q617.7,1130.0 971.7,996.7 L981.9,995.4 L973.2,1000.9 Q617.8,1130.1 537.4,1491.5 Z" fill="#98FB98"/>
<path d="M533.0,1490.6 A372.0,372.0 0 0 1 528.6,1489.5 Q617.1,1128.9 910.9,889.3 L920.0,884.6 L913.4,892.4 Q617.2,1129.0 533.0,1490.6 Z" fill="#98FB98"/>
<path d="M528.6,1489.5 A372.0,372.0 0 0 1 524.2,1488.5 Q616.2,1128.2 829.1,813.8 L836.7,806.9 L833.0,816.4 Q616.3,1128.2 528.6,1489.5 Z" fill="#98FB98"/>
<path d="M524.2,1488.5 A372.0,372.0 0 0 1 519.8,1487.3 Q614.8,1127.6 694.5,756.1 L698.8,746.8 L698.7,757.0 Q614.9,1127.6 524.2,1488.5 Z" fill="#98FB98"/>
<path d="M519.8,1487.3 A372.0,372.0 0 0 1 515.5,1486.1 Q613.3,1127.5 547.1,753.8 L547.6,743.6 L551.6,753.0 Q613.4,1127.5 519.8,1487.3 Z" fill="#98FB98"/>
<path d="M515.5,1486.1 A372.0,372.0 0 0 1 511.1,1484.9 Q611.9,1128.1 408.9,808.4 L405.5,798.8 L412.8,806.0 Q612.0,1128.1 515.5,1486.1 Z" fill="#98FB98"/>
<path d="M511.1,1484.9 A372.0,372.0 0 0 1 506.8,1483.6 Q610.8,1129.2 298.9,916.9 L291.9,909.3 L301.5,913.0 Q610.8,1129.1 511.1,1484.9 Z" fill="#98FB98"/>
<path d="M506.8,1483.6 A372.0,372.0 0 0 1 502.4,1482.3 Q610.1,1130.6 239.8,1067.5 L230.3,1063.6 L240.6,1062.9 Q610.2,1130.6 506.8,1483.6 Z" fill="#98FB98"/>
<path d="M502.4,1482.3 A372.0,372.0 0 0 1 498.1,1480.9 Q610.1,1131.8 240.0,1189.3 L229.8,1188.6 L239.3,1184.7 Q610.1,1131.8 502.4,1482.3 Z" fill="#98FB98"/>
<path d="M498.1,1480.9 A372.0,372.0 0 0 1 493.9,1479.4 Q610.4,1132.9 276.5,1300.3 L266.5,1302.8 L274.4,1296.2 Q610.4,1132.9 498.1,1480.9 Z" fill="#98FB98"/>
<path d="M493.9,1479.4 A372.0,372.0 0 0 1 489.6,1477.9 Q611.2,1134.0 359.3,1408.8 L350.8,1414.5 L355.8,1405.6 Q611.2,1134.0 493.9,1479.4 Z" fill="#98FB98"/>
<path d="M489.6,1477.9 A372.0,372.0 0 0 1 485.3,1476.4 Q611.7,1134.4 415.9,1451.4 L408.6,1458.6 L411.9,1448.9 Q611.7,1134.4 489.6,1477.9 Z" fill="#98FB98"/>
<path d="M410.8,1438.6 A372.0,372.0 0 0 1 407.3,1436.3 Q611.0,1134.0 419.9,1453.8 L412.7,1461.1 L415.9,1451.4 Q611.0,1134.0 410.8,1438.6 Z" fill="#8B4513"/>
<path d="M407.3,1436.3 A372.0,372.0 0 0 1 403.8,1434.0 Q612.6,1134.5 583.9,1506.4 L580.7,1516.2 L579.2,1506.0 Q612.6,1134.6 407.3,1436.3 Z" fill="#8B4513"/>
<path d="M403.8,1434.0 A372.0,372.0 0 0 1 400.4,1431.6 Q614.2,1134.3 753.7,1481.5 L755.1,1491.7 L749.3,1483.2 Q614.2,1134.3 403.8,1434.0 Z" fill="#8B4513"/>
<path d="M400.4,1431.6 A372.0,372.0 0 0 1 397.0,1429.1 Q616.6,1130.4 993.8,1097.5 L1003.9,1099.1 L994.1,1102.1 Q616.6,1130.5 400.4,1431.6 Z" fill="#8B4513"/>
<path d="M397.0,1429.1 A372.0,372.0 0 0 1 393.7,1426.7 Q616.3,1129.3 970.1,992.5 L980.3,991.1 L971.7,996.7 Q616.4,1129.4 397.0,1429.1 Z" fill="#8B4513"/>
<path d="M393.7,1426.7 A372.0,372.0 0 0 1 390.3,1424.2 Q614.9,1127.5 825.3,811.2 L832.8,804.2 L829.1,813.8 Q614.9,1127.6 393.7,1426.7 Z" fill="#8B4513"/>
<path d="M390.3,1424.2 A372.0,372.0 0 0 1 387.0,1421.6 Q613.5,1126.9 690.3,755.2 L694.5,745.9 L694.5,756.1 Q613.5,1126.9 390.3,1424.2 Z" fill="#8B4513"/>
<path d="M387.0,1421.6 A372.0,372.0 0 0 1 383.7,1419.1 Q612.0,1126.9 542.5,754.7 L542.9,744.4 L547.1,753.8 Q612.0,1126.9 387.0,1421.6 Z" fill="#8B4513"/>
<path d="M383.7,1419.1 A372.0,372.0 0 0 1 380.5,1416.4 Q610.6,1127.4 405.1,811.0 L401.5,801.3 L408.9,808.4 Q610.6,1127.4 383.7,1419.1 Z" fill="#8B4513"/>
<path d="M380.5,1416.4 A372.0,372.0 0 0 1 377.2,1413.8 Q609.4,1128.5 296.3,920.7 L289.2,913.3 L298.9,916.9 Q609.5,1128.5 380.5,1416.4 Z" fill="#8B4513"/>
<path d="M377.2,1413.8 A372.0,372.0 0 0 1 374.0,1411.1 Q608.8,1130.0 239.1,1072.0 L229.6,1068.2 L239.8,1067.5 Q608.9,1130.0 377.2,1413.8 Z" fill="#8B4513"/>
<path d="M374.0,1411.1 A372.0,372.0 0 0 1 370.9,1408.4 Q608.8,1131.2 240.8,1193.8 L230.5,1193.2 L240.0,1189.3 Q608.8,1131.1 374.0,1411.1 Z" fill="#8B4513"/>
<path d="M370.9,1408.4 A372.0,372.0 0 0 1 367.7,1405.6 Q609.2,1132.2 278.6,1304.3 L268.6,1306.9 L276.5,1300.3 Q609.2,1132.2 370.9,1408.4 Z" fill="#8B4513"/>
<path d="M367.7,1405.6 A372.0,372.0 0 0 1 364.6,1402.8 Q609.6,1132.9 320.7,1368.1 L311.5,1372.6 L317.8,1364.5 Q609.6,1132.8 367.7,1405.6 Z" fill="#8B4513"/>
<path d="M320.1,1354.4 A372.0,372.0 0 0 1 317.5,1351.0 Q609.1,1132.4 323.7,1371.7 L314.5,1376.3 L320.7,1368.1 Q609.1,1132.4 320.1,1354.4 Z" fill="#8B3A2F"/>
<path d="M317.5,1351.0 A372.0,372.0 0 0 1 315.0,1347.6 Q610.1,1133.2 423.9,1456.1 L416.8,1463.6 L419.9,1453.8 Q610.1,1133.2 317.5,1351.0 Z" fill="#8B3A2F"/>
<path d="M315.0,1347.6 A372.0,372.0 0 0 1 312.5,1344.1 Q611.7,1133.7 588.5,1506.8 L585.4,1516.6 L583.9,1506.4 Q611.7,1133.7 315.0,1347.6 Z" fill="#8B3A2F"/>
<path d="M312.5,1344.1 A372.0,372.0 0 0 1 310.0,1340.7 Q613.4,1133.4 758.0,1479.8 L759.5,1489.9 L753.7,1481.5 Q613.4,1133.4 312.5,1344.1 Z" fill="#8B3A2F"/>
<path d="M310.0,1340.7 A372.0,372.0 0 0 1 307.6,1337.2 Q615.7,1129.4 993.4,1093.0 L1003.6,1094.4 L993.8,1097.5 Q615.7,1129.5 310.0,1340.7 Z" fill="#8B3A2F"/>
<path d="M307.6,1337.2 A372.0,372.0 0 0 1 305.2,1333.6 Q615.4,1128.4 968.5,988.4 L978.7,986.8 L970.1,992.5 Q615.5,1128.4 307.6,1337.2 Z" fill="#8B3A2F"/>
<path d="M305.2,1333.6 A372.0,372.0 0 0 1 302.8,1330.1 Q614.8,1127.3 908.3,886.1 L917.4,881.4 L910.9,889.3 Q614.9,1127.4 305.2,1333.6 Z" fill="#8B3A2F"/>
<path d="M302.8,1330.1 A372.0,372.0 0 0 1 300.6,1326.5 Q613.9,1126.5 821.4,808.6 L828.8,801.5 L825.3,811.2 Q614.0,1126.6 302.8,1330.1 Z" fill="#8B3A2F"/>
<path d="M300.6,1326.5 A372.0,372.0 0 0 1 298.3,1322.8 Q612.5,1125.9 686.1,754.4 L690.2,745.0 L690.3,755.2 Q612.6,1126.0 300.6,1326.5 Z" fill="#8B3A2F"/>
<path d="M298.3,1322.8 A372.0,372.0 0 0 1 296.1,1319.2 Q611.0,1125.9 537.9,755.6 L538.2,745.3 L542.5,754.7 Q611.1,1125.9 298.3,1322.8 Z" fill="#8B3A2F"/>
<path d="M296.1,1319.2 A372.0,372.0 0 0 1 293.9,1315.5 Q609.7,1126.4 401.3,813.5 L397.6,803.9 L405.1,811.0 Q609.7,1126.4 296.1,1319.2 Z" fill="#8B3A2F"/>
<path d="M293.9,1315.5 A372.0,372.0 0 0 1 291.8,1311.8 Q608.6,1127.5 293.8,924.6 L286.6,917.3 L296.3,920.7 Q608.6,1127.5 293.9,1315.5 Z" fill="#8B3A2F"/>
<path d="M291.8,1311.8 A372.0,372.0 0 0 1 289.7,1308.1 Q608.0,1129.0 238.5,1076.5 L228.9,1072.8 L239.1,1072.0 Q608.0,1129.0 291.8,1311.8 Z" fill="#8B3A2F"/>
<path d="M289.7,1308.1 A372.0,372.0 0 0 1 287.6,1304.4 Q608.0,1130.2 241.6,1198.3 L231.4,1197.8 L240.8,1193.8 Q608.0,1130.2 289.7,1308.1 Z" fill="#8B3A2F"/>
<path d="M287.6,1304.4 A372.0,372.0 0 0 1 285.6,1300.6 Q608.1,1130.6 253.8,1245.7 L243.6,1246.6 L252.4,1241.3 Q608.1,1130.6 287.6,1304.4 Z" fill="#8B3A2F"/>
<path d="M257.9,1231.8 A372.0,372.0 0 0 1 256.6,1227.5 Q607.8,1129.9 255.2,1250.0 L245.0,1251.0 L253.8,1245.7 Q607.8,1129.9 257.9,1231.8 Z" fill="#D2691E"/>
<path d="M256.6,1227.5 A372.0,372.0 0 0 1 255.4,1223.1 Q608.5,1131.1 326.7,1375.3 L317.6,1380.0 L323.7,1371.7 Q608.5,1131.1 256.6,1227.5 Z" fill="#D2691E"/>
<path d="M255.4,1223.1 A372.0,372.0 0 0 1 254.3,1218.8 Q609.5,1131.9 427.9,1458.4 L420.9,1466.0 L423.9,1456.1 Q609.5,1131.9 255.4,1223.1 Z" fill="#D2691E"/>
<path d="M254.3,1218.8 A372.0,372.0 0 0 1 253.2,1214.4 Q611.2,1132.4 593.1,1507.1 L590.2,1516.9 L588.5,1506.8 Q611.1,1132.4 254.3,1218.8 Z" fill="#D2691E"/>
<path d="M253.2,1214.4 A372.0,372.0 0 0 1 252.2,1210.0 Q609.2,1125.4 397.5,816.1 L393.7,806.6 L401.3,813.5 Q609.2,1125.4 253.2,1214.4 Z" fill="#D2691E"/>
<path d="M252.2,1210.0 A372.0,372.0 0 0 1 251.2,1205.6 Q608.1,1126.5 291.3,928.6 L284.1,921.3 L293.8,924.6 Q608.2,1126.5 252.2,1210.0 Z" fill="#D2691E"/>
<path d="M251.2,1205.6 A372.0,372.0 0 0 1 250.3,1201.2 Q607.6,1128.0 237.9,1081.1 L228.2,1077.5 L238.5,1076.5 Q607.6,1128.0 251.2,1205.6 Z" fill="#D2691E"/>
<path d="M250.3,1201.2 A372.0,372.0 0 0 1 249.5,1196.8 Q607.6,1128.7 236.6,1162.1 L226.4,1160.6 L236.2,1157.5 Q607.6,1128.7 250.3,1201.2 Z" fill="#D2691E"/>
<path d="M243.7,1149.8 A372.0,372.0 0 0 1 243.4,1145.2 Q607.5,1128.3 237.0,1166.6 L226.8,1165.3 L236.6,1162.1 Q607.5,1128.3 243.7,1149.8 Z" fill="#D8BFD8"/>
<path d="M243.4,1145.2 A372.0,372.0 0 0 1 243.2,1140.7 Q607.7,1129.1 256.7,1254.3 L246.5,1255.4 L255.2,1250.0 Q607.7,1129.1 243.4,1145.2 Z" fill="#D8BFD8"/>
<path d="M243.2,1140.7 A372.0,372.0 0 0 1 243.1,1136.2 Q608.4,1130.3 329.8,1378.8 L320.7,1383.6 L326.7,1375.3 Q608.4,1130.3 243.2,1140.7 Z" fill="#D8BFD8"/>
<path d="M243.1,1136.2 A372.0,372.0 0 0 1 243.0,1131.7 Q609.4,1131.1 431.9,1460.7 L425.0,1468.3 L427.9,1458.4 Q609.4,1131.1 243.1,1136.2 Z" fill="#D8BFD8"/>
<path d="M243.0,1131.7 A372.0,372.0 0 0 1 243.0,1127.2 Q611.1,1131.5 597.8,1507.3 L594.9,1517.2 L593.1,1507.1 Q611.1,1131.5 243.0,1131.7 Z" fill="#D8BFD8"/>
<path d="M243.0,1127.2 A372.0,372.0 0 0 1 243.0,1122.6 Q612.8,1131.2 762.3,1478.0 L763.9,1488.1 L758.0,1479.8 Q612.7,1131.2 243.0,1127.2 Z" fill="#D8BFD8"/>
<path d="M243.0,1122.6 A372.0,372.0 0 0 1 243.1,1118.1 Q615.1,1127.2 993.0,1088.4 L1003.1,1089.7 L993.4,1093.0 Q615.1,1127.3 243.0,1122.6 Z" fill="#D8BFD8"/>
<path d="M243.1,1118.1 A372.0,372.0 0 0 1 243.3,1113.6 Q614.8,1126.1 966.9,984.2 L977.0,982.6 L968.5,988.4 Q614.8,1126.2 243.1,1118.1 Z" fill="#D8BFD8"/>
<path d="M243.3,1113.6 A372.0,372.0 0 0 1 243.5,1109.1 Q614.2,1125.1 905.8,883.0 L914.7,878.2 L908.3,886.1 Q614.2,1125.1 243.3,1113.6 Z" fill="#D8BFD8"/>
<path d="M243.5,1109.1 A372.0,372.0 0 0 1 243.7,1104.6 Q613.3,1124.3 817.5,806.1 L824.8,799.0 L821.4,808.6 Q613.3,1124.3 243.5,1109.1 Z" fill="#D8BFD8"/>
<path d="M243.7,1104.6 A372.0,372.0 0 0 1 244.0,1100.0 Q612.0,1123.7 681.9,753.6 L685.8,744.2 L686.1,754.4 Q612.0,1123.7 243.7,1104.6 Z" fill="#D8BFD8"/>
<path d="M244.0,1100.0 A372.0,372.0 0 0 1 244.4,1095.5 Q610.5,1123.7 533.4,756.6 L533.6,746.3 L537.9,755.6 Q610.5,1123.7 244.0,1100.0 Z" fill="#D8BFD8"/>
<path d="M244.4,1095.5 A372.0,372.0 0 0 1 244.8,1091.0 Q609.1,1124.2 393.7,818.8 L389.8,809.3 L397.5,816.1 Q609.1,1124.3 244.4,1095.5 Z" fill="#D8BFD8"/>
<path d="M244.8,1091.0 A372.0,372.0 0 0 1 245.3,1086.5 Q608.0,1125.3 288.9,932.6 L281.6,925.4 L291.3,928.6 Q608.1,1125.3 244.8,1091.0 Z" fill="#D8BFD8"/>
<path d="M245.3,1086.5 A372.0,372.0 0 0 1 245.8,1082.0 Q607.7,1126.1 252.4,1014.0 L243.6,1008.8 L253.8,1009.6 Q607.7,1126.1 245.3,1086.5 Z" fill="#D8BFD8"/>
<path d="M263.7,1005.4 A372.0,372.0 0 0 1 265.2,1001.2 Q607.9,1125.3 251.1,1018.4 L242.2,1013.3 L252.4,1014.0 Q607.9,1125.3 263.7,1005.4 Z" fill="#DDA0DD"/>
<path d="M265.2,1001.2 A372.0,372.0 0 0 1 266.7,997.0 Q607.7,1126.8 237.5,1171.2 L227.3,1170.0 L237.0,1166.6 Q607.7,1126.8 265.2,1001.2 Z" fill="#DDA0DD"/>
<path d="M266.7,997.0 A372.0,372.0 0 0 1 268.3,992.8 Q608.0,1127.7 258.3,1258.6 L248.1,1259.8 L256.7,1254.3 Q607.9,1127.7 266.7,997.0 Z" fill="#DDA0DD"/>
<path d="M268.3,992.8 A372.0,372.0 0 0 1 270.0,988.6 Q608.7,1128.9 332.9,1382.3 L323.9,1387.2 L329.8,1378.8 Q608.7,1128.9 268.3,992.8 Z" fill="#DDA0DD"/>
<path d="M270.0,988.6 A372.0,372.0 0 0 1 271.7,984.5 Q609.8,1129.6 436.0,1462.9 L429.2,1470.6 L431.9,1460.7 Q609.7,1129.6 270.0,988.6 Z" fill="#DDA0DD"/>
<path d="M271.7,984.5 A372.0,372.0 0 0 1 273.4,980.4 Q611.5,1130.0 602.4,1507.5 L599.7,1517.4 L597.8,1507.3 Q611.4,1130.1 271.7,984.5 Z" fill="#DDA0DD"/>
<path d="M273.4,980.4 A372.0,372.0 0 0 1 275.2,976.3 Q613.1,1129.7 766.5,1476.2 L768.3,1486.3 L762.3,1478.0 Q613.1,1129.7 273.4,980.4 Z" fill="#DDA0DD"/>
<path d="M275.2,976.3 A372.0,372.0 0 0 1 277.1,972.2 Q614.4,1128.8 889.2,1390.8 L894.7,1399.5 L885.9,1394.2 Q614.3,1128.9 275.2,976.3 Z" fill="#DDA0DD"/>
<path d="M277.1,972.2 A372.0,372.0 0 0 1 278.9,968.2 Q615.0,1127.8 954.4,1298.6 L962.2,1305.2 L952.3,1302.8 Q615.0,1127.9 277.1,972.2 Z" fill="#DDA0DD"/>
<path d="M278.9,968.2 A372.0,372.0 0 0 1 280.9,964.1 Q615.4,1125.6 992.5,1083.8 L1002.7,1085.0 L993.0,1088.4 Q615.4,1125.7 278.9,968.2 Z" fill="#DDA0DD"/>
<path d="M280.9,964.1 A372.0,372.0 0 0 1 282.9,960.1 Q615.2,1124.5 965.2,980.1 L975.3,978.3 L966.9,984.2 Q615.2,1124.6 280.9,964.1 Z" fill="#DDA0DD"/>
<path d="M282.9,960.1 A372.0,372.0 0 0 1 284.9,956.2 Q614.6,1123.5 903.1,880.0 L912.1,875.0 L905.8,883.0 Q614.6,1123.6 282.9,960.1 Z" fill="#DDA0DD"/>
<path d="M284.9,956.2 A372.0,372.0 0 0 1 287.0,952.2 Q613.7,1122.7 813.5,803.7 L820.8,796.4 L817.5,806.1 Q613.7,1122.8 284.9,956.2 Z" fill="#DDA0DD"/>
<path d="M287.0,952.2 A372.0,372.0 0 0 1 289.1,948.3 Q612.4,1122.2 677.7,752.9 L681.5,743.4 L681.9,753.6 Q612.4,1122.2 287.0,952.2 Z" fill="#DDA0DD"/>
<path d="M289.1,948.3 A372.0,372.0 0 0 1 291.3,944.4 Q610.9,1122.2 528.9,757.6 L528.9,747.3 L533.4,756.6 Q610.9,1122.2 289.1,948.3 Z" fill="#DDA0DD"/>
<path d="M291.3,944.4 A372.0,372.0 0 0 1 293.5,940.5 Q609.5,1122.8 390.0,821.4 L386.0,812.0 L393.7,818.8 Q609.6,1122.8 291.3,944.4 Z" fill="#DDA0DD"/>
<path d="M293.5,940.5 A372.0,372.0 0 0 1 295.8,936.7 Q609.0,1123.3 330.0,876.4 L324.0,868.0 L333.0,872.9 Q609.0,1123.3 293.5,940.5 Z" fill="#DDA0DD"/>
<path d="M343.8,873.0 A372.0,372.0 0 0 1 347.0,869.8 Q609.4,1122.6 326.9,879.9 L320.9,871.6 L330.0,876.4 Q609.4,1122.6 343.8,873.0 Z" fill="#EE82EE"/>
<path d="M347.0,869.8 A372.0,372.0 0 0 1 350.1,866.5 Q608.7,1124.0 249.8,1022.8 L240.8,1017.8 L251.1,1018.4 Q608.7,1124.0 347.0,869.8 Z" fill="#EE82EE"/>
<path d="M350.1,866.5 A372.0,372.0 0 0 1 353.3,863.3 Q608.6,1125.5 238.0,1175.7 L227.8,1174.6 L237.5,1171.2 Q608.6,1125.5 350.1,866.5 Z" fill="#EE82EE"/>
<path d="M353.3,863.3 A372.0,372.0 0 0 1 356.6,860.1 Q608.9,1126.4 259.8,1262.8 L249.7,1264.2 L258.3,1258.6 Q608.8,1126.4 353.3,863.3 Z" fill="#EE82EE"/>
<path d="M356.6,860.1 A372.0,372.0 0 0 1 359.9,857.0 Q609.7,1127.6 336.1,1385.8 L327.1,1390.8 L332.9,1382.3 Q609.6,1127.6 356.6,860.1 Z" fill="#EE82EE"/>
<path d="M359.9,857.0 A372.0,372.0 0 0 1 363.2,853.9 Q610.7,1128.3 440.1,1465.1 L433.4,1472.8 L436.0,1462.9 Q610.7,1128.3 359.9,857.0 Z" fill="#EE82EE"/>
<path d="M363.2,853.9 A372.0,372.0 0 0 1 366.6,850.8 Q612.4,1128.7 607.0,1507.6 L604.5,1517.6 L602.4,1507.5 Q612.4,1128.8 363.2,853.9 Z" fill="#EE82EE"/>
<path d="M366.6,850.8 A372.0,372.0 0 0 1 370.0,847.8 Q614.1,1128.4 770.8,1474.3 L772.7,1484.4 L766.5,1476.2 Q614.0,1128.4 366.6,850.8 Z" fill="#EE82EE"/>
<path d="M370.0,847.8 A372.0,372.0 0 0 1 373.4,844.8 Q615.4,1127.5 892.5,1387.3 L898.1,1396.0 L889.2,1390.8 Q615.3,1127.5 370.0,847.8 Z" fill="#EE82EE"/>
<path d="M373.4,844.8 A372.0,372.0 0 0 1 376.9,841.9 Q616.0,1126.5 956.5,1294.4 L964.4,1301.0 L954.4,1298.6 Q616.0,1126.6 373.4,844.8 Z" fill="#EE82EE"/>
<path d="M376.9,841.9 A372.0,372.0 0 0 1 380.4,839.0 Q616.4,1124.3 991.9,1079.3 L1002.1,1080.4 L992.5,1083.8 Q616.4,1124.4 376.9,841.9 Z" fill="#EE82EE"/>
<path d="M380.4,839.0 A372.0,372.0 0 0 1 383.9,836.2 Q614.6,1121.5 809.6,801.3 L816.7,793.9 L813.5,803.7 Q614.6,1121.6 380.4,839.0 Z" fill="#EE82EE"/>
<path d="M383.9,836.2 A372.0,372.0 0 0 1 387.5,833.4 Q613.3,1121.0 673.4,752.2 L677.2,742.7 L677.7,752.9 Q613.3,1121.0 383.9,836.2 Z" fill="#EE82EE"/>
<path d="M387.5,833.4 A372.0,372.0 0 0 1 391.1,830.6 Q611.9,1121.0 524.4,758.7 L524.3,748.4 L528.9,757.6 Q611.9,1121.1 387.5,833.4 Z" fill="#EE82EE"/>
<path d="M391.1,830.6 A372.0,372.0 0 0 1 394.8,827.9 Q611.2,1121.3 453.0,784.0 L450.8,773.9 L457.1,782.1 Q611.2,1121.3 391.1,830.6 Z" fill="#EE82EE"/>
<path d="M467.0,786.4 A372.0,372.0 0 0 1 471.1,784.7 Q611.9,1120.9 448.8,786.0 L446.6,775.9 L453.0,784.0 Q611.9,1120.9 467.0,786.4 Z" fill="#008B8B"/>
<path d="M471.1,784.7 A372.0,372.0 0 0 1 475.2,783.0 Q610.7,1121.8 323.9,883.4 L317.8,875.2 L326.9,879.9 Q610.7,1121.8 471.1,784.7 Z" fill="#008B8B"/>
<path d="M475.2,783.0 A372.0,372.0 0 0 1 479.4,781.3 Q610.0,1123.2 248.5,1027.2 L239.5,1022.3 L249.8,1022.8 Q609.9,1123.2 475.2,783.0 Z" fill="#008B8B"/>
<path d="M479.4,781.3 A372.0,372.0 0 0 1 483.6,779.7 Q610.2,1125.6 261.5,1267.1 L251.3,1268.6 L259.8,1262.8 Q610.1,1125.6 479.4,781.3 Z" fill="#008B8B"/>
<path d="M483.6,779.7 A372.0,372.0 0 0 1 487.7,778.1 Q611.0,1126.8 339.3,1389.2 L330.4,1394.3 L336.1,1385.8 Q610.9,1126.8 483.6,779.7 Z" fill="#008B8B"/>
<path d="M487.7,778.1 A372.0,372.0 0 0 1 492.0,776.6 Q612.1,1127.6 444.3,1467.2 L437.6,1475.0 L440.1,1465.1 Q612.0,1127.6 487.7,778.1 Z" fill="#008B8B"/>
<path d="M492.0,776.6 A372.0,372.0 0 0 1 496.2,775.2 Q613.8,1128.0 611.7,1507.7 L609.2,1517.7 L607.0,1507.6 Q613.7,1128.0 492.0,776.6 Z" fill="#008B8B"/>
<path d="M496.2,775.2 A372.0,372.0 0 0 1 500.4,773.8 Q615.5,1127.6 775.0,1472.4 L777.0,1482.4 L770.8,1474.3 Q615.4,1127.6 496.2,775.2 Z" fill="#008B8B"/>
<path d="M500.4,773.8 A372.0,372.0 0 0 1 504.7,772.4 Q616.7,1126.7 895.7,1383.9 L901.4,1392.4 L892.5,1387.3 Q616.6,1126.8 500.4,773.8 Z" fill="#008B8B"/>
<path d="M504.7,772.4 A372.0,372.0 0 0 1 509.0,771.1 Q617.4,1125.8 958.5,1290.2 L966.5,1296.6 L956.5,1294.4 Q617.3,1125.8 504.7,772.4 Z" fill="#008B8B"/>
<path d="M509.0,771.1 A372.0,372.0 0 0 1 513.3,769.9 Q617.7,1124.7 991.0,1182.6 L1000.6,1186.4 L990.3,1187.1 Q617.7,1124.7 509.0,771.1 Z" fill="#008B8B"/>
<path d="M513.3,769.9 A372.0,372.0 0 0 1 517.6,768.7 Q615.9,1120.8 805.6,798.9 L812.6,791.5 L809.6,801.3 Q615.9,1120.9 513.3,769.9 Z" fill="#008B8B"/>
<path d="M517.6,768.7 A372.0,372.0 0 0 1 521.9,767.5 Q614.6,1120.3 669.2,751.6 L672.8,742.0 L673.4,752.2 Q614.6,1120.4 517.6,768.7 Z" fill="#008B8B"/>
<path d="M521.9,767.5 A372.0,372.0 0 0 1 526.3,766.4 Q613.8,1120.3 588.5,748.6 L590.2,738.5 L593.1,748.3 Q613.9,1120.3 521.9,767.5 Z" fill="#008B8B"/>
<path d="M599.7,756.0 A372.0,372.0 0 0 1 604.3,755.9 Q614.6,1120.2 583.9,749.0 L585.4,738.8 L588.5,748.6 Q614.6,1120.2 599.7,756.0 Z" fill="#00CED1"/>
<path d="M604.3,755.9 A372.0,372.0 0 0 1 608.9,755.8 Q613.2,1120.6 444.7,788.0 L442.3,778.0 L448.8,786.0 Q613.2,1120.6 604.3,755.9 Z" fill="#00CED1"/>
<path d="M608.9,755.8 A372.0,372.0 0 0 1 613.4,755.7 Q612.0,1121.6 320.9,887.0 L314.7,878.8 L323.9,883.4 Q612.0,1121.5 608.9,755.8 Z" fill="#00CED1"/>
<path d="M613.4,755.7 A372.0,372.0 0 0 1 618.0,755.7 Q611.4,1123.0 247.3,1031.6 L238.3,1026.8 L248.5,1027.2 Q611.3,1123.0 613.4,755.7 Z" fill="#00CED1"/>
<path d="M618.0,755.7 A372.0,372.0 0 0 1 622.6,755.8 Q611.6,1125.4 263.2,1271.3 L253.1,1272.9 L261.5,1267.1 Q611.5,1125.4 618.0,755.7 Z" fill="#00CED1"/>
<path d="M622.6,755.8 A372.0,372.0 0 0 1 627.1,755.9 Q613.5,1127.4 448.4,1469.2 L441.9,1477.2 L444.3,1467.2 Q613.4,1127.4 622.6,755.8 Z" fill="#00CED1"/>
<path d="M627.1,755.9 A372.0,372.0 0 0 1 631.7,756.1 Q615.2,1127.8 616.3,1507.7 L614.0,1517.7 L611.7,1507.7 Q615.1,1127.8 627.1,755.9 Z" fill="#00CED1"/>
<path d="M631.7,756.1 A372.0,372.0 0 0 1 636.3,756.3 Q616.9,1127.4 779.2,1470.4 L781.4,1480.4 L775.0,1472.4 Q616.8,1127.4 631.7,756.1 Z" fill="#00CED1"/>
<path d="M636.3,756.3 A372.0,372.0 0 0 1 640.8,756.6 Q618.1,1126.5 898.9,1380.3 L904.7,1388.8 L895.7,1383.9 Q618.0,1126.5 636.3,756.3 Z" fill="#00CED1"/>
<path d="M640.8,756.6 A372.0,372.0 0 0 1 645.4,756.9 Q618.8,1125.6 960.5,1286.0 L968.6,1292.3 L958.5,1290.2 Q618.7,1125.6 640.8,756.6 Z" fill="#00CED1"/>
<path d="M645.4,756.9 A372.0,372.0 0 0 1 649.9,757.3 Q619.1,1124.5 991.7,1178.0 L1001.3,1181.6 L991.0,1182.6 Q619.1,1124.5 645.4,756.9 Z" fill="#00CED1"/>
<path d="M649.9,757.3 A372.0,372.0 0 0 1 654.5,757.8 Q618.9,1122.5 963.4,976.0 L973.5,974.1 L965.2,980.1 Q618.9,1122.5 649.9,757.3 Z" fill="#00CED1"/>
<path d="M654.5,757.8 A372.0,372.0 0 0 1 659.0,758.3 Q618.3,1121.5 900.5,876.9 L909.4,871.9 L903.1,880.0 Q618.3,1121.5 654.5,757.8 Z" fill="#00CED1"/>
<path d="M659.0,758.3 A372.0,372.0 0 0 1 663.5,758.9 Q617.4,1120.7 801.5,796.6 L808.5,789.1 L805.6,798.9 Q617.3,1120.7 659.0,758.3 Z" fill="#00CED1"/>
<path d="M663.5,758.9 A372.0,372.0 0 0 1 668.1,759.5 Q616.7,1120.4 727.7,764.8 L732.8,755.9 L731.8,766.1 Q616.7,1120.4 663.5,758.9 Z" fill="#00CED1"/>
<path d="M735.8,775.9 A372.0,372.0 0 0 1 740.1,777.4 Q617.3,1120.6 723.6,763.6 L728.6,754.6 L727.7,764.8 Q617.3,1120.6 735.8,775.9 Z" fill="#00FFFF"/>
<path d="M740.1,777.4 A372.0,372.0 0 0 1 744.3,778.9 Q615.9,1120.4 579.2,749.4 L580.7,739.2 L583.9,749.0 Q615.9,1120.4 740.1,777.4 Z" fill="#00FFFF"/>
<path d="M744.3,778.9 A372.0,372.0 0 0 1 748.6,780.5 Q614.6,1120.9 440.6,790.1 L438.1,780.1 L444.7,788.0 Q614.6,1120.8 744.3,778.9 Z" fill="#00FFFF"/>
<path d="M748.6,780.5 A372.0,372.0 0 0 1 752.8,782.2 Q613.4,1121.9 318.0,890.6 L311.7,882.5 L320.9,887.0 Q613.4,1121.8 748.6,780.5 Z" fill="#00FFFF"/>
<path d="M752.8,782.2 A372.0,372.0 0 0 1 757.0,783.9 Q612.7,1123.3 246.2,1036.1 L237.1,1031.4 L247.3,1031.6 Q612.7,1123.3 752.8,782.2 Z" fill="#00FFFF"/>
<path d="M757.0,783.9 A372.0,372.0 0 0 1 761.1,785.6 Q612.7,1124.8 238.6,1180.2 L228.4,1179.3 L238.0,1175.7 Q612.7,1124.7 757.0,783.9 Z" fill="#00FFFF"/>
<path d="M761.1,785.6 A372.0,372.0 0 0 1 765.3,787.4 Q613.0,1125.8 264.9,1275.5 L254.8,1277.3 L263.2,1271.3 Q612.9,1125.7 761.1,785.6 Z" fill="#00FFFF"/>
<path d="M765.3,787.4 A372.0,372.0 0 0 1 769.4,789.3 Q613.8,1127.0 342.5,1392.5 L333.6,1397.8 L339.3,1389.2 Q613.7,1126.9 765.3,787.4 Z" fill="#00FFFF"/>
<path d="M769.4,789.3 A372.0,372.0 0 0 1 773.5,791.2 Q615.0,1127.8 452.6,1471.3 L446.2,1479.3 L448.4,1469.2 Q614.9,1127.7 769.4,789.3 Z" fill="#00FFFF"/>
<path d="M773.5,791.2 A372.0,372.0 0 0 1 777.6,793.1 Q616.7,1128.2 621.0,1507.7 L618.7,1517.7 L616.3,1507.7 Q616.6,1128.1 773.5,791.2 Z" fill="#00FFFF"/>
<path d="M777.6,793.1 A372.0,372.0 0 0 1 781.6,795.1 Q618.4,1127.8 783.4,1468.4 L785.7,1478.4 L779.2,1470.4 Q618.3,1127.8 777.6,793.1 Z" fill="#00FFFF"/>
<path d="M781.6,795.1 A372.0,372.0 0 0 1 785.7,797.2 Q619.6,1126.9 902.0,1376.8 L908.0,1385.1 L898.9,1380.3 Q619.5,1126.9 781.6,795.1 Z" fill="#00FFFF"/>
<path d="M785.7,797.2 A372.0,372.0 0 0 1 789.7,799.3 Q620.2,1126.0 962.4,1281.7 L970.6,1288.0 L960.5,1286.0 Q620.2,1126.0 785.7,797.2 Z" fill="#00FFFF"/>
<path d="M789.7,799.3 A372.0,372.0 0 0 1 793.7,801.4 Q620.6,1124.9 992.2,1173.4 L1001.9,1176.9 L991.7,1178.0 Q620.5,1124.9 789.7,799.3 Z" fill="#00FFFF"/>
<path d="M793.7,801.4 A372.0,372.0 0 0 1 797.6,803.6 Q619.2,1121.5 855.2,833.2 L863.3,827.0 L858.8,836.2 Q619.2,1121.5 793.7,801.4 Z" fill="#00FFFF"/>
<path d="M858.3,846.3 A372.0,372.0 0 0 1 861.8,849.4 Q617.1,1121.1 574.6,749.9 L575.9,739.7 L579.2,749.4 Q617.1,1121.1 858.3,846.3 Z" fill="#333333"/>
<path d="M861.8,849.4 A372.0,372.0 0 0 1 865.3,852.5 Q615.7,1121.6 436.6,792.2 L434.0,782.3 L440.6,790.1 Q615.7,1121.5 861.8,849.4 Z" fill="#333333"/>
<path d="M865.3,852.5 A372.0,372.0 0 0 1 868.7,855.6 Q614.5,1122.6 315.1,894.3 L308.7,886.3 L318.0,890.6 Q614.5,1122.6 865.3,852.5 Z" fill="#333333"/>
<path d="M868.7,855.6 A372.0,372.0 0 0 1 872.0,858.8 Q613.9,1124.1 245.1,1040.5 L236.0,1035.9 L246.2,1036.1 Q613.8,1124.1 868.7,855.6 Z" fill="#333333"/>
<path d="M872.0,858.8 A372.0,372.0 0 0 1 875.4,862.0 Q614.1,1126.6 266.7,1279.7 L256.6,1281.6 L264.9,1275.5 Q614.1,1126.5 872.0,858.8 Z" fill="#333333"/>
<path d="M875.4,862.0 A372.0,372.0 0 0 1 878.6,865.3 Q616.1,1128.5 456.8,1473.2 L450.5,1481.3 L452.6,1471.3 Q616.0,1128.5 875.4,862.0 Z" fill="#333333"/>
<path d="M878.6,865.3 A372.0,372.0 0 0 1 881.9,868.6 Q617.8,1128.9 625.6,1507.6 L623.5,1517.6 L621.0,1507.7 Q617.7,1128.9 878.6,865.3 Z" fill="#333333"/>
<path d="M881.9,868.6 A372.0,372.0 0 0 1 885.1,871.9 Q619.4,1128.5 787.5,1466.3 L789.9,1476.3 L783.4,1468.4 Q619.4,1128.5 881.9,868.6 Z" fill="#333333"/>
<path d="M885.1,871.9 A372.0,372.0 0 0 1 888.3,875.3 Q621.5,1124.6 991.3,1074.8 L1001.5,1075.7 L991.9,1079.3 Q621.5,1124.7 885.1,871.9 Z" fill="#333333"/>
<path d="M888.3,875.3 A372.0,372.0 0 0 1 891.4,878.7 Q621.2,1123.7 961.6,971.9 L971.7,969.9 L963.4,976.0 Q621.2,1123.7 888.3,875.3 Z" fill="#333333"/>
<path d="M891.4,878.7 A372.0,372.0 0 0 1 894.5,882.2 Q620.9,1123.0 923.2,905.4 L932.5,901.2 L925.5,908.7 Q620.9,1123.0 891.4,878.7 Z" fill="#333333"/>
<path d="M923.0,919.1 A372.0,372.0 0 0 1 925.6,923.0 Q621.2,1123.4 920.8,902.1 L930.1,897.8 L923.2,905.4 Q621.2,1123.4 923.0,919.1 Z" fill="#7F7F7F"/>
<path d="M925.6,923.0 A372.0,372.0 0 0 1 928.1,926.8 Q619.2,1122.0 719.5,762.3 L724.4,753.3 L723.6,763.6 Q619.2,1122.0 925.6,923.0 Z" fill="#7F7F7F"/>
<path d="M928.1,926.8 A372.0,372.0 0 0 1 930.5,930.7 Q616.3,1122.4 432.5,794.4 L429.8,784.5 L436.6,792.2 Q616.3,1122.3 928.1,926.8 Z" fill="#7F7F7F"/>
<path d="M930.5,930.7 A372.0,372.0 0 0 1 933.0,934.6 Q615.2,1123.5 312.3,898.0 L305.8,890.0 L315.1,894.3 Q615.2,1123.4 930.5,930.7 Z" fill="#7F7F7F"/>
<path d="M933.0,934.6 A372.0,372.0 0 0 1 935.3,938.5 Q614.5,1125.0 244.1,1045.0 L234.9,1040.5 L245.1,1040.5 Q614.5,1124.9 933.0,934.6 Z" fill="#7F7F7F"/>
<path d="M935.3,938.5 A372.0,372.0 0 0 1 937.6,942.5 Q614.8,1127.4 268.6,1283.9 L258.5,1285.9 L266.7,1279.7 Q614.7,1127.3 935.3,938.5 Z" fill="#7F7F7F"/>
<path d="M937.6,942.5 A372.0,372.0 0 0 1 939.9,946.5 Q615.6,1128.6 345.8,1395.9 L337.0,1401.2 L342.5,1392.5 Q615.5,1128.5 937.6,942.5 Z" fill="#7F7F7F"/>
<path d="M939.9,946.5 A372.0,372.0 0 0 1 942.1,950.5 Q616.7,1129.4 461.0,1475.1 L454.8,1483.3 L456.8,1473.2 Q616.7,1129.3 939.9,946.5 Z" fill="#7F7F7F"/>
<path d="M942.1,950.5 A372.0,372.0 0 0 1 944.3,954.6 Q618.4,1129.8 630.3,1507.4 L628.3,1517.5 L625.6,1507.6 Q618.4,1129.7 942.1,950.5 Z" fill="#7F7F7F"/>
<path d="M944.3,954.6 A372.0,372.0 0 0 1 946.4,958.7 Q620.1,1129.4 791.6,1464.1 L794.2,1474.1 L787.5,1466.3 Q620.0,1129.4 944.3,954.6 Z" fill="#7F7F7F"/>
<path d="M946.4,958.7 A372.0,372.0 0 0 1 948.4,962.8 Q621.8,1127.5 964.3,1277.4 L972.5,1283.6 L962.4,1281.7 Q621.8,1127.5 946.4,958.7 Z" fill="#7F7F7F"/>
<path d="M948.4,962.8 A372.0,372.0 0 0 1 950.4,966.9 Q622.1,1126.5 992.8,1168.7 L1002.5,1172.2 L992.2,1173.4 Q622.1,1126.5 948.4,962.8 Z" fill="#7F7F7F"/>
<path d="M950.4,966.9 A372.0,372.0 0 0 1 952.4,971.0 Q622.1,1125.6 990.6,1070.2 L1000.9,1071.0 L991.3,1074.8 Q622.1,1125.6 950.4,966.9 Z" fill="#7F7F7F"/>
<path d="M952.4,971.0 A372.0,372.0 0 0 1 954.3,975.2 Q622.0,1125.0 977.5,1013.6 L987.7,1012.8 L978.8,1017.9 Q622.0,1125.0 952.4,971.0 Z" fill="#7F7F7F"/>
<path d="M973.2,1027.3 A372.0,372.0 0 0 1 974.4,1031.7 Q622.2,1125.6 976.1,1009.4 L986.3,1008.4 L977.5,1013.6 Q622.2,1125.6 973.2,1027.3 Z" fill="#141414"/>
<path d="M974.4,1031.7 A372.0,372.0 0 0 1 975.5,1036.1 Q621.6,1124.5 918.4,898.9 L927.6,894.5 L920.8,902.1 Q621.7,1124.5 974.4,1031.7 Z" fill="#141414"/>
<path d="M975.5,1036.1 A372.0,372.0 0 0 1 976.6,1040.4 Q621.0,1123.9 851.6,830.3 L859.6,824.0 L855.2,833.2 Q621.0,1123.8 975.5,1036.1 Z" fill="#141414"/>
<path d="M976.6,1040.4 A372.0,372.0 0 0 1 977.7,1044.8 Q615.2,1128.5 270.5,1288.0 L260.4,1290.1 L268.6,1283.9 Q615.2,1128.4 976.6,1040.4 Z" fill="#141414"/>
<path d="M977.7,1044.8 A372.0,372.0 0 0 1 978.6,1049.2 Q616.0,1129.6 349.1,1399.1 L340.4,1404.6 L345.8,1395.9 Q615.9,1129.6 977.7,1044.8 Z" fill="#141414"/>
<path d="M978.6,1049.2 A372.0,372.0 0 0 1 979.6,1053.7 Q617.1,1130.5 465.3,1477.0 L459.2,1485.2 L461.0,1475.1 Q617.1,1130.4 978.6,1049.2 Z" fill="#141414"/>
<path d="M979.6,1053.7 A372.0,372.0 0 0 1 980.4,1058.1 Q618.9,1130.8 634.9,1507.2 L633.0,1517.3 L630.3,1507.4 Q618.8,1130.8 979.6,1053.7 Z" fill="#141414"/>
<path d="M980.4,1058.1 A372.0,372.0 0 0 1 981.2,1062.5 Q620.5,1130.4 795.7,1462.0 L798.4,1471.9 L791.6,1464.1 Q620.4,1130.4 980.4,1058.1 Z" fill="#141414"/>
<path d="M981.2,1062.5 A372.0,372.0 0 0 1 982.0,1067.0 Q621.6,1129.5 905.1,1373.1 L911.2,1381.5 L902.0,1376.8 Q621.5,1129.5 981.2,1062.5 Z" fill="#141414"/>
<path d="M982.0,1067.0 A372.0,372.0 0 0 1 982.7,1071.4 Q622.5,1127.0 994.8,1115.8 L1004.9,1117.9 L994.9,1120.4 Q622.5,1127.0 982.0,1067.0 Z" fill="#141414"/>
</g>
<path d="M1005.0,1127.7 A390.0,390.0 0 0 1 1005.0,1132.4 L996.0,1132.3 A381.0,381.0 0 0 0 996.0,1127.7 Z" fill="#00FFFF"/>
<path d="M1005.0,1132.4 A390.0,390.0 0 0 1 1004.9,1137.1 L995.9,1136.9 A381.0,381.0 0 0 0 996.0,1132.3 Z" fill="#00CED1"/>
<path d="M1004.9,1137.1 A390.0,390.0 0 0 1 1004.7,1141.8 L995.8,1141.4 A381.0,381.0 0 0 0 995.9,1136.9 Z" fill="#008B8B"/>
<path d="M1004.7,1141.8 A390.0,390.0 0 0 1 1004.5,1146.4 L995.6,1146.0 A381.0,381.0 0 0 0 995.8,1141.4 Z" fill="#EE82EE"/>
<path d="M1004.5,1146.4 A390.0,390.0 0 0 1 1004.3,1151.1 L995.3,1150.6 A381.0,381.0 0 0 0 995.6,1146.0 Z" fill="#D8BFD8"/>
<path d="M1004.3,1151.1 A390.0,390.0 0 0 1 1004.0,1155.8 L995.0,1155.2 A381.0,381.0 0 0 0 995.3,1150.6 Z" fill="#548B54"/>
<path d="M1004.0,1155.8 A390.0,390.0 0 0 1 1003.6,1160.5 L994.7,1159.7 A381.0,381.0 0 0 0 995.0,1155.2 Z" fill="#FFD700"/>
<path d="M1003.6,1160.5 A390.0,390.0 0 0 1 1003.2,1165.2 L994.2,1164.3 A381.0,381.0 0 0 0 994.7,1159.7 Z" fill="#EEDC82"/>
<path d="M1003.2,1165.2 A390.0,390.0 0 0 1 1002.7,1169.8 L993.8,1168.8 A381.0,381.0 0 0 0 994.2,1164.3 Z" fill="#CDAD00"/>
<path d="M993.0,1223.7 A390.0,390.0 0 0 1 991.8,1228.2 L983.1,1225.9 A381.0,381.0 0 0 0 984.3,1221.5 Z" fill="#CDAD00"/>
<path d="M991.8,1228.2 A390.0,390.0 0 0 1 990.6,1232.7 L981.9,1230.3 A381.0,381.0 0 0 0 983.1,1225.9 Z" fill="#00FFFF"/>
<path d="M990.6,1232.7 A390.0,390.0 0 0 1 989.3,1237.2 L980.7,1234.7 A381.0,381.0 0 0 0 981.9,1230.3 Z" fill="#00CED1"/>
<path d="M989.3,1237.2 A390.0,390.0 0 0 1 988.0,1241.7 L979.4,1239.1 A381.0,381.0 0 0 0 980.7,1234.7 Z" fill="#008B8B"/>
<path d="M988.0,1241.7 A390.0,390.0 0 0 1 986.6,1246.2 L978.0,1243.5 A381.0,381.0 0 0 0 979.4,1239.1 Z" fill="#EE82EE"/>
<path d="M986.6,1246.2 A390.0,390.0 0 0 1 985.1,1250.6 L976.6,1247.8 A381.0,381.0 0 0 0 978.0,1243.5 Z" fill="#DDA0DD"/>
<path d="M985.1,1250.6 A390.0,390.0 0 0 1 983.6,1255.1 L975.1,1252.1 A381.0,381.0 0 0 0 976.6,1247.8 Z" fill="#D8BFD8"/>
<path d="M983.6,1255.1 A390.0,390.0 0 0 1 982.1,1259.5 L973.6,1256.4 A381.0,381.0 0 0 0 975.1,1252.1 Z" fill="#98FB98"/>
<path d="M982.1,1259.5 A390.0,390.0 0 0 1 980.5,1263.9 L972.0,1260.7 A381.0,381.0 0 0 0 973.6,1256.4 Z" fill="#A2CD5A"/>
<path d="M980.5,1263.9 A390.0,390.0 0 0 1 978.8,1268.3 L970.4,1265.0 A381.0,381.0 0 0 0 972.0,1260.7 Z" fill="#548B54"/>
<path d="M978.8,1268.3 A390.0,390.0 0 0 1 977.1,1272.6 L968.7,1269.3 A381.0,381.0 0 0 0 970.4,1265.0 Z" fill="#FFD700"/>
<path d="M977.1,1272.6 A390.0,390.0 0 0 1 975.3,1276.9 L967.0,1273.5 A381.0,381.0 0 0 0 968.7,1269.3 Z" fill="#EEDC82"/>
<path d="M948.2,1330.3 A390.0,390.0 0 0 1 945.8,1334.3 L938.2,1329.5 A381.0,381.0 0 0 0 940.5,1325.6 Z" fill="#EEDC82"/>
<path d="M945.8,1334.3 A390.0,390.0 0 0 1 943.3,1338.2 L935.7,1333.3 A381.0,381.0 0 0 0 938.2,1329.5 Z" fill="#CDAD00"/>
<path d="M943.3,1338.2 A390.0,390.0 0 0 1 940.8,1342.1 L933.3,1337.1 A381.0,381.0 0 0 0 935.7,1333.3 Z" fill="#00FFFF"/>
<path d="M940.8,1342.1 A390.0,390.0 0 0 1 938.2,1345.9 L930.8,1340.9 A381.0,381.0 0 0 0 933.3,1337.1 Z" fill="#00CED1"/>
<path d="M938.2,1345.9 A390.0,390.0 0 0 1 935.6,1349.8 L928.2,1344.6 A381.0,381.0 0 0 0 930.8,1340.9 Z" fill="#008B8B"/>
<path d="M935.6,1349.8 A390.0,390.0 0 0 1 932.9,1353.6 L925.6,1348.4 A381.0,381.0 0 0 0 928.2,1344.6 Z" fill="#EE82EE"/>
<path d="M932.9,1353.6 A390.0,390.0 0 0 1 930.2,1357.3 L923.0,1352.0 A381.0,381.0 0 0 0 925.6,1348.4 Z" fill="#DDA0DD"/>
<path d="M930.2,1357.3 A390.0,390.0 0 0 1 927.5,1361.1 L920.3,1355.7 A381.0,381.0 0 0 0 923.0,1352.0 Z" fill="#98FB98"/>
<path d="M927.5,1361.1 A390.0,390.0 0 0 1 924.7,1364.8 L917.5,1359.3 A381.0,381.0 0 0 0 920.3,1355.7 Z" fill="#A2CD5A"/>
<path d="M924.7,1364.8 A390.0,390.0 0 0 1 921.8,1368.4 L914.7,1362.9 A381.0,381.0 0 0 0 917.5,1359.3 Z" fill="#548B54"/>
<path d="M921.8,1368.4 A390.0,390.0 0 0 1 918.9,1372.1 L911.9,1366.4 A381.0,381.0 0 0 0 914.7,1362.9 Z" fill="#FFD700"/>
<path d="M873.9,1419.3 A390.0,390.0 0 0 1 870.4,1422.5 L864.5,1415.7 A381.0,381.0 0 0 0 868.0,1412.6 Z" fill="#FFD700"/>
<path d="M870.4,1422.5 A390.0,390.0 0 0 1 866.8,1425.5 L861.0,1418.7 A381.0,381.0 0 0 0 864.5,1415.7 Z" fill="#CDAD00"/>
<path d="M866.8,1425.5 A390.0,390.0 0 0 1 863.2,1428.6 L857.4,1421.6 A381.0,381.0 0 0 0 861.0,1418.7 Z" fill="#141414"/>
<path d="M863.2,1428.6 A390.0,390.0 0 0 1 859.5,1431.5 L853.9,1424.5 A381.0,381.0 0 0 0 857.4,1421.6 Z" fill="#7F7F7F"/>
<path d="M859.5,1431.5 A390.0,390.0 0 0 1 855.8,1434.5 L850.3,1427.4 A381.0,381.0 0 0 0 853.9,1424.5 Z" fill="#333333"/>
<path d="M855.8,1434.5 A390.0,390.0 0 0 1 852.1,1437.4 L846.6,1430.2 A381.0,381.0 0 0 0 850.3,1427.4 Z" fill="#00FFFF"/>
<path d="M852.1,1437.4 A390.0,390.0 0 0 1 848.3,1440.2 L842.9,1433.0 A381.0,381.0 0 0 0 846.6,1430.2 Z" fill="#00CED1"/>
<path d="M848.3,1440.2 A390.0,390.0 0 0 1 844.5,1443.0 L839.2,1435.7 A381.0,381.0 0 0 0 842.9,1433.0 Z" fill="#008B8B"/>
<path d="M844.5,1443.0 A390.0,390.0 0 0 1 840.7,1445.8 L835.5,1438.4 A381.0,381.0 0 0 0 839.2,1435.7 Z" fill="#EE82EE"/>
<path d="M840.7,1445.8 A390.0,390.0 0 0 1 836.8,1448.5 L831.7,1441.1 A381.0,381.0 0 0 0 835.5,1438.4 Z" fill="#DDA0DD"/>
<path d="M836.8,1448.5 A390.0,390.0 0 0 1 832.9,1451.1 L827.9,1443.7 A381.0,381.0 0 0 0 831.7,1441.1 Z" fill="#D8BFD8"/>
<path d="M832.9,1451.1 A390.0,390.0 0 0 1 829.0,1453.8 L824.0,1446.2 A381.0,381.0 0 0 0 827.9,1443.7 Z" fill="#8B3A2F"/>
<path d="M829.0,1453.8 A390.0,390.0 0 0 1 825.0,1456.3 L820.2,1448.7 A381.0,381.0 0 0 0 824.0,1446.2 Z" fill="#8B4513"/>
<path d="M825.0,1456.3 A390.0,390.0 0 0 1 821.0,1458.8 L816.3,1451.2 A381.0,381.0 0 0 0 820.2,1448.7 Z" fill="#98FB98"/>
<path d="M821.0,1458.8 A390.0,390.0 0 0 1 817.0,1461.3 L812.3,1453.6 A381.0,381.0 0 0 0 816.3,1451.2 Z" fill="#A2CD5A"/>
<path d="M817.0,1461.3 A390.0,390.0 0 0 1 812.9,1463.7 L808.4,1456.0 A381.0,381.0 0 0 0 812.3,1453.6 Z" fill="#548B54"/>
<path d="M732.9,1499.4 A390.0,390.0 0 0 1 728.4,1500.8 L725.8,1492.2 A381.0,381.0 0 0 0 730.2,1490.9 Z" fill="#548B54"/>
<path d="M728.4,1500.8 A390.0,390.0 0 0 1 723.9,1502.2 L721.4,1493.6 A381.0,381.0 0 0 0 725.8,1492.2 Z" fill="#FFD700"/>
<path d="M723.9,1502.2 A390.0,390.0 0 0 1 719.3,1503.5 L716.9,1494.8 A381.0,381.0 0 0 0 721.4,1493.6 Z" fill="#EEDC82"/>
<path d="M719.3,1503.5 A390.0,390.0 0 0 1 714.8,1504.7 L712.5,1496.0 A381.0,381.0 0 0 0 716.9,1494.8 Z" fill="#CDAD00"/>
<path d="M714.8,1504.7 A390.0,390.0 0 0 1 710.2,1505.9 L708.0,1497.2 A381.0,381.0 0 0 0 712.5,1496.0 Z" fill="#141414"/>
<path d="M710.2,1505.9 A390.0,390.0 0 0 1 705.6,1507.0 L703.5,1498.3 A381.0,381.0 0 0 0 708.0,1497.2 Z" fill="#7F7F7F"/>
<path d="M705.6,1507.0 A390.0,390.0 0 0 1 701.0,1508.1 L699.0,1499.3 A381.0,381.0 0 0 0 703.5,1498.3 Z" fill="#333333"/>
<path d="M701.0,1508.1 A390.0,390.0 0 0 1 696.4,1509.1 L694.5,1500.3 A381.0,381.0 0 0 0 699.0,1499.3 Z" fill="#00FFFF"/>
<path d="M696.4,1509.1 A390.0,390.0 0 0 1 691.8,1510.1 L690.0,1501.2 A381.0,381.0 0 0 0 694.5,1500.3 Z" fill="#00CED1"/>
<path d="M691.8,1510.1 A390.0,390.0 0 0 1 687.1,1511.0 L685.4,1502.1 A381.0,381.0 0 0 0 690.0,1501.2 Z" fill="#008B8B"/>
<path d="M687.1,1511.0 A390.0,390.0 0 0 1 682.5,1511.8 L680.9,1503.0 A381.0,381.0 0 0 0 685.4,1502.1 Z" fill="#EE82EE"/>
<path d="M682.5,1511.8 A390.0,390.0 0 0 1 677.8,1512.6 L676.4,1503.7 A381.0,381.0 0 0 0 680.9,1503.0 Z" fill="#DDA0DD"/>
<path d="M677.8,1512.6 A390.0,390.0 0 0 1 673.1,1513.3 L671.8,1504.4 A381.0,381.0 0 0 0 676.4,1503.7 Z" fill="#D8BFD8"/>
<path d="M673.1,1513.3 A390.0,390.0 0 0 1 668.5,1514.0 L667.2,1505.1 A381.0,381.0 0 0 0 671.8,1504.4 Z" fill="#D2691E"/>
<path d="M668.5,1514.0 A390.0,390.0 0 0 1 663.8,1514.6 L662.6,1505.7 A381.0,381.0 0 0 0 667.2,1505.1 Z" fill="#8B3A2F"/>
<path d="M663.8,1514.6 A390.0,390.0 0 0 1 659.1,1515.2 L658.1,1506.3 A381.0,381.0 0 0 0 662.6,1505.7 Z" fill="#8B4513"/>
<path d="M659.1,1515.2 A390.0,390.0 0 0 1 654.4,1515.7 L653.5,1506.8 A381.0,381.0 0 0 0 658.1,1506.3 Z" fill="#98FB98"/>
<path d="M654.4,1515.7 A390.0,390.0 0 0 1 649.7,1516.2 L648.9,1507.2 A381.0,381.0 0 0 0 653.5,1506.8 Z" fill="#A2CD5A"/>
<path d="M561.7,1514.0 A390.0,390.0 0 0 1 557.0,1513.4 L558.4,1504.5 A381.0,381.0 0 0 0 563.0,1505.1 Z" fill="#A2CD5A"/>
<path d="M557.0,1513.4 A390.0,390.0 0 0 1 552.3,1512.6 L553.8,1503.8 A381.0,381.0 0 0 0 558.4,1504.5 Z" fill="#548B54"/>
<path d="M552.3,1512.6 A390.0,390.0 0 0 1 547.7,1511.8 L549.2,1503.0 A381.0,381.0 0 0 0 553.8,1503.8 Z" fill="#FFD700"/>
<path d="M547.7,1511.8 A390.0,390.0 0 0 1 543.0,1511.0 L544.7,1502.2 A381.0,381.0 0 0 0 549.2,1503.0 Z" fill="#EEDC82"/>
<path d="M543.0,1511.0 A390.0,390.0 0 0 1 538.3,1510.1 L540.1,1501.3 A381.0,381.0 0 0 0 544.7,1502.2 Z" fill="#CDAD00"/>
<path d="M538.3,1510.1 A390.0,390.0 0 0 1 533.7,1509.1 L535.6,1500.3 A381.0,381.0 0 0 0 540.1,1501.3 Z" fill="#141414"/>
<path d="M533.7,1509.1 A390.0,390.0 0 0 1 529.1,1508.1 L531.0,1499.3 A381.0,381.0 0 0 0 535.6,1500.3 Z" fill="#7F7F7F"/>
<path d="M529.1,1508.1 A390.0,390.0 0 0 1 524.4,1507.0 L526.5,1498.3 A381.0,381.0 0 0 0 531.0,1499.3 Z" fill="#333333"/>
<path d="M524.4,1507.0 A390.0,390.0 0 0 1 519.8,1505.9 L522.0,1497.2 A381.0,381.0 0 0 0 526.5,1498.3 Z" fill="#00FFFF"/>
<path d="M519.8,1505.9 A390.0,390.0 0 0 1 515.2,1504.7 L517.5,1496.0 A381.0,381.0 0 0 0 522.0,1497.2 Z" fill="#00CED1"/>
<path d="M515.2,1504.7 A390.0,390.0 0 0 1 510.6,1503.5 L513.1,1494.8 A381.0,381.0 0 0 0 517.5,1496.0 Z" fill="#008B8B"/>
<path d="M510.6,1503.5 A390.0,390.0 0 0 1 506.1,1502.2 L508.6,1493.5 A381.0,381.0 0 0 0 513.1,1494.8 Z" fill="#EE82EE"/>
<path d="M506.1,1502.2 A390.0,390.0 0 0 1 501.5,1500.8 L504.2,1492.2 A381.0,381.0 0 0 0 508.6,1493.5 Z" fill="#DDA0DD"/>
<path d="M501.5,1500.8 A390.0,390.0 0 0 1 497.0,1499.4 L499.7,1490.8 A381.0,381.0 0 0 0 504.2,1492.2 Z" fill="#D8BFD8"/>
<path d="M497.0,1499.4 A390.0,390.0 0 0 1 492.5,1498.0 L495.3,1489.4 A381.0,381.0 0 0 0 499.7,1490.8 Z" fill="#D2691E"/>
<path d="M492.5,1498.0 A390.0,390.0 0 0 1 488.0,1496.4 L490.9,1487.9 A381.0,381.0 0 0 0 495.3,1489.4 Z" fill="#8B3A2F"/>
<path d="M488.0,1496.4 A390.0,390.0 0 0 1 483.5,1494.9 L486.5,1486.4 A381.0,381.0 0 0 0 490.9,1487.9 Z" fill="#8B4513"/>
<path d="M483.5,1494.9 A390.0,390.0 0 0 1 479.1,1493.2 L482.2,1484.8 A381.0,381.0 0 0 0 486.5,1486.4 Z" fill="#98FB98"/>
<path d="M400.9,1453.7 A390.0,390.0 0 0 1 397.2,1451.2 L402.3,1443.8 A381.0,381.0 0 0 0 405.8,1446.1 Z" fill="#98FB98"/>
<path d="M397.2,1451.2 A390.0,390.0 0 0 1 393.6,1448.8 L398.7,1441.4 A381.0,381.0 0 0 0 402.3,1443.8 Z" fill="#A2CD5A"/>
<path d="M393.6,1448.8 A390.0,390.0 0 0 1 390.0,1446.3 L395.2,1438.9 A381.0,381.0 0 0 0 398.7,1441.4 Z" fill="#548B54"/>
<path d="M390.0,1446.3 A390.0,390.0 0 0 1 386.5,1443.7 L391.7,1436.4 A381.0,381.0 0 0 0 395.2,1438.9 Z" fill="#141414"/>
<path d="M386.5,1443.7 A390.0,390.0 0 0 1 382.9,1441.1 L388.3,1433.9 A381.0,381.0 0 0 0 391.7,1436.4 Z" fill="#7F7F7F"/>
<path d="M382.9,1441.1 A390.0,390.0 0 0 1 379.4,1438.5 L384.9,1431.4 A381.0,381.0 0 0 0 388.3,1433.9 Z" fill="#00FFFF"/>
<path d="M379.4,1438.5 A390.0,390.0 0 0 1 376.0,1435.9 L381.5,1428.7 A381.0,381.0 0 0 0 384.9,1431.4 Z" fill="#00CED1"/>
<path d="M376.0,1435.9 A390.0,390.0 0 0 1 372.5,1433.2 L378.1,1426.1 A381.0,381.0 0 0 0 381.5,1428.7 Z" fill="#008B8B"/>
<path d="M372.5,1433.2 A390.0,390.0 0 0 1 369.1,1430.4 L374.8,1423.4 A381.0,381.0 0 0 0 378.1,1426.1 Z" fill="#EE82EE"/>
<path d="M369.1,1430.4 A390.0,390.0 0 0 1 365.7,1427.6 L371.5,1420.7 A381.0,381.0 0 0 0 374.8,1423.4 Z" fill="#DDA0DD"/>
<path d="M365.7,1427.6 A390.0,390.0 0 0 1 362.4,1424.8 L368.2,1418.0 A381.0,381.0 0 0 0 371.5,1420.7 Z" fill="#D8BFD8"/>
<path d="M362.4,1424.8 A390.0,390.0 0 0 1 359.1,1422.0 L365.0,1415.2 A381.0,381.0 0 0 0 368.2,1418.0 Z" fill="#D2691E"/>
<path d="M359.1,1422.0 A390.0,390.0 0 0 1 355.8,1419.1 L361.8,1412.4 A381.0,381.0 0 0 0 365.0,1415.2 Z" fill="#8B3A2F"/>
<path d="M355.8,1419.1 A390.0,390.0 0 0 1 352.5,1416.2 L358.6,1409.5 A381.0,381.0 0 0 0 361.8,1412.4 Z" fill="#8B4513"/>
<path d="M305.8,1365.4 A390.0,390.0 0 0 1 303.1,1361.8 L310.3,1356.4 A381.0,381.0 0 0 0 312.9,1359.9 Z" fill="#8B4513"/>
<path d="M303.1,1361.8 A390.0,390.0 0 0 1 300.4,1358.2 L307.7,1352.9 A381.0,381.0 0 0 0 310.3,1356.4 Z" fill="#98FB98"/>
<path d="M300.4,1358.2 A390.0,390.0 0 0 1 297.8,1354.6 L305.1,1349.4 A381.0,381.0 0 0 0 307.7,1352.9 Z" fill="#A2CD5A"/>
<path d="M297.8,1354.6 A390.0,390.0 0 0 1 295.2,1351.0 L302.6,1345.8 A381.0,381.0 0 0 0 305.1,1349.4 Z" fill="#548B54"/>
<path d="M295.2,1351.0 A390.0,390.0 0 0 1 292.7,1347.3 L300.1,1342.2 A381.0,381.0 0 0 0 302.6,1345.8 Z" fill="#141414"/>
<path d="M292.7,1347.3 A390.0,390.0 0 0 1 290.2,1343.6 L297.7,1338.6 A381.0,381.0 0 0 0 300.1,1342.2 Z" fill="#7F7F7F"/>
<path d="M290.2,1343.6 A390.0,390.0 0 0 1 287.7,1339.8 L295.3,1334.9 A381.0,381.0 0 0 0 297.7,1338.6 Z" fill="#333333"/>
<path d="M287.7,1339.8 A390.0,390.0 0 0 1 285.3,1336.1 L292.9,1331.3 A381.0,381.0 0 0 0 295.3,1334.9 Z" fill="#00FFFF"/>
<path d="M285.3,1336.1 A390.0,390.0 0 0 1 283.0,1332.3 L290.6,1327.6 A381.0,381.0 0 0 0 292.9,1331.3 Z" fill="#00CED1"/>
<path d="M283.0,1332.3 A390.0,390.0 0 0 1 280.6,1328.5 L288.4,1323.8 A381.0,381.0 0 0 0 290.6,1327.6 Z" fill="#008B8B"/>
<path d="M280.6,1328.5 A390.0,390.0 0 0 1 278.4,1324.6 L286.1,1320.1 A381.0,381.0 0 0 0 288.4,1323.8 Z" fill="#EE82EE"/>
<path d="M278.4,1324.6 A390.0,390.0 0 0 1 276.1,1320.8 L284.0,1316.3 A381.0,381.0 0 0 0 286.1,1320.1 Z" fill="#DDA0DD"/>
<path d="M276.1,1320.8 A390.0,390.0 0 0 1 273.9,1316.9 L281.8,1312.5 A381.0,381.0 0 0 0 284.0,1316.3 Z" fill="#D8BFD8"/>
<path d="M273.9,1316.9 A390.0,390.0 0 0 1 271.8,1312.9 L279.7,1308.7 A381.0,381.0 0 0 0 281.8,1312.5 Z" fill="#D2691E"/>
<path d="M271.8,1312.9 A390.0,390.0 0 0 1 269.7,1309.0 L277.7,1304.8 A381.0,381.0 0 0 0 279.7,1308.7 Z" fill="#8B3A2F"/>
<path d="M240.6,1236.8 A390.0,390.0 0 0 1 239.3,1232.3 L248.0,1229.9 A381.0,381.0 0 0 0 249.2,1234.3 Z" fill="#8B3A2F"/>
<path d="M239.3,1232.3 A390.0,390.0 0 0 1 238.0,1227.7 L246.7,1225.4 A381.0,381.0 0 0 0 248.0,1229.9 Z" fill="#8B4513"/>
<path d="M238.0,1227.7 A390.0,390.0 0 0 1 236.9,1223.2 L245.6,1221.0 A381.0,381.0 0 0 0 246.7,1225.4 Z" fill="#98FB98"/>
<path d="M236.9,1223.2 A390.0,390.0 0 0 1 235.7,1218.6 L244.5,1216.5 A381.0,381.0 0 0 0 245.6,1221.0 Z" fill="#A2CD5A"/>
<path d="M235.7,1218.6 A390.0,390.0 0 0 1 234.7,1214.0 L243.4,1212.0 A381.0,381.0 0 0 0 244.5,1216.5 Z" fill="#EE82EE"/>
<path d="M234.7,1214.0 A390.0,390.0 0 0 1 233.6,1209.4 L242.4,1207.5 A381.0,381.0 0 0 0 243.4,1212.0 Z" fill="#DDA0DD"/>
<path d="M233.6,1209.4 A390.0,390.0 0 0 1 232.7,1204.7 L241.5,1203.0 A381.0,381.0 0 0 0 242.4,1207.5 Z" fill="#D8BFD8"/>
<path d="M232.7,1204.7 A390.0,390.0 0 0 1 231.8,1200.1 L240.6,1198.4 A381.0,381.0 0 0 0 241.5,1203.0 Z" fill="#D2691E"/>
<path d="M225.7,1150.8 A390.0,390.0 0 0 1 225.4,1146.1 L234.4,1145.7 A381.0,381.0 0 0 0 234.7,1150.3 Z" fill="#D2691E"/>
<path d="M225.4,1146.1 A390.0,390.0 0 0 1 225.2,1141.4 L234.2,1141.0 A381.0,381.0 0 0 0 234.4,1145.7 Z" fill="#8B3A2F"/>
<path d="M225.2,1141.4 A390.0,390.0 0 0 1 225.1,1136.6 L234.1,1136.4 A381.0,381.0 0 0 0 234.2,1141.0 Z" fill="#8B4513"/>
<path d="M225.1,1136.6 A390.0,390.0 0 0 1 225.0,1131.9 L234.0,1131.8 A381.0,381.0 0 0 0 234.1,1136.4 Z" fill="#98FB98"/>
<path d="M225.0,1131.9 A390.0,390.0 0 0 1 225.0,1127.1 L234.0,1127.1 A381.0,381.0 0 0 0 234.0,1131.8 Z" fill="#A2CD5A"/>
<path d="M225.0,1127.1 A390.0,390.0 0 0 1 225.0,1122.4 L234.0,1122.5 A381.0,381.0 0 0 0 234.0,1127.1 Z" fill="#548B54"/>
<path d="M225.0,1122.4 A390.0,390.0 0 0 1 225.1,1117.6 L234.1,1117.9 A381.0,381.0 0 0 0 234.0,1122.5 Z" fill="#141414"/>
<path d="M225.1,1117.6 A390.0,390.0 0 0 1 225.3,1112.9 L234.3,1113.3 A381.0,381.0 0 0 0 234.1,1117.9 Z" fill="#7F7F7F"/>
<path d="M225.3,1112.9 A390.0,390.0 0 0 1 225.5,1108.2 L234.5,1108.6 A381.0,381.0 0 0 0 234.3,1113.3 Z" fill="#333333"/>
<path d="M225.5,1108.2 A390.0,390.0 0 0 1 225.8,1103.4 L234.7,1104.0 A381.0,381.0 0 0 0 234.5,1108.6 Z" fill="#00FFFF"/>
<path d="M225.8,1103.4 A390.0,390.0 0 0 1 226.1,1098.7 L235.1,1099.4 A381.0,381.0 0 0 0 234.7,1104.0 Z" fill="#00CED1"/>
<path d="M226.1,1098.7 A390.0,390.0 0 0 1 226.5,1094.0 L235.4,1094.8 A381.0,381.0 0 0 0 235.1,1099.4 Z" fill="#008B8B"/>
<path d="M226.5,1094.0 A390.0,390.0 0 0 1 226.9,1089.3 L235.9,1090.1 A381.0,381.0 0 0 0 235.4,1094.8 Z" fill="#EE82EE"/>
<path d="M226.9,1089.3 A390.0,390.0 0 0 1 227.4,1084.5 L236.3,1085.5 A381.0,381.0 0 0 0 235.9,1090.1 Z" fill="#DDA0DD"/>
<path d="M227.4,1084.5 A390.0,390.0 0 0 1 227.9,1079.8 L236.9,1080.9 A381.0,381.0 0 0 0 236.3,1085.5 Z" fill="#D8BFD8"/>
<path d="M246.7,999.4 A390.0,390.0 0 0 1 248.3,995.0 L256.7,998.1 A381.0,381.0 0 0 0 255.2,1002.4 Z" fill="#D8BFD8"/>
<path d="M248.3,995.0 A390.0,390.0 0 0 1 249.9,990.6 L258.3,993.8 A381.0,381.0 0 0 0 256.7,998.1 Z" fill="#D2691E"/>
<path d="M249.9,990.6 A390.0,390.0 0 0 1 251.6,986.3 L259.9,989.5 A381.0,381.0 0 0 0 258.3,993.8 Z" fill="#8B3A2F"/>
<path d="M251.6,986.3 A390.0,390.0 0 0 1 253.3,981.9 L261.6,985.3 A381.0,381.0 0 0 0 259.9,989.5 Z" fill="#8B4513"/>
<path d="M253.3,981.9 A390.0,390.0 0 0 1 255.1,977.6 L263.4,981.0 A381.0,381.0 0 0 0 261.6,985.3 Z" fill="#98FB98"/>
<path d="M255.1,977.6 A390.0,390.0 0 0 1 256.9,973.3 L265.1,976.8 A381.0,381.0 0 0 0 263.4,981.0 Z" fill="#A2CD5A"/>
<path d="M256.9,973.3 A390.0,390.0 0 0 1 258.8,969.0 L267.0,972.6 A381.0,381.0 0 0 0 265.1,976.8 Z" fill="#548B54"/>
<path d="M258.8,969.0 A390.0,390.0 0 0 1 260.7,964.7 L268.9,968.5 A381.0,381.0 0 0 0 267.0,972.6 Z" fill="#FFD700"/>
<path d="M260.7,964.7 A390.0,390.0 0 0 1 262.7,960.5 L270.8,964.3 A381.0,381.0 0 0 0 268.9,968.5 Z" fill="#EEDC82"/>
<path d="M262.7,960.5 A390.0,390.0 0 0 1 264.7,956.2 L272.8,960.2 A381.0,381.0 0 0 0 270.8,964.3 Z" fill="#141414"/>
<path d="M264.7,956.2 A390.0,390.0 0 0 1 266.8,952.0 L274.8,956.1 A381.0,381.0 0 0 0 272.8,960.2 Z" fill="#7F7F7F"/>
<path d="M266.8,952.0 A390.0,390.0 0 0 1 268.9,947.9 L276.9,952.0 A381.0,381.0 0 0 0 274.8,956.1 Z" fill="#333333"/>
<path d="M268.9,947.9 A390.0,390.0 0 0 1 271.1,943.7 L279.1,948.0 A381.0,381.0 0 0 0 276.9,952.0 Z" fill="#00FFFF"/>
<path d="M271.1,943.7 A390.0,390.0 0 0 1 273.4,939.6 L281.2,943.9 A381.0,381.0 0 0 0 279.1,948.0 Z" fill="#00CED1"/>
<path d="M273.4,939.6 A390.0,390.0 0 0 1 275.6,935.5 L283.5,940.0 A381.0,381.0 0 0 0 281.2,943.9 Z" fill="#008B8B"/>
<path d="M275.6,935.5 A390.0,390.0 0 0 1 278.0,931.5 L285.8,936.0 A381.0,381.0 0 0 0 283.5,940.0 Z" fill="#EE82EE"/>
<path d="M278.0,931.5 A390.0,390.0 0 0 1 280.4,927.4 L288.1,932.0 A381.0,381.0 0 0 0 285.8,936.0 Z" fill="#DDA0DD"/>
<path d="M330.7,860.7 A390.0,390.0 0 0 1 334.0,857.3 L340.5,863.5 A381.0,381.0 0 0 0 337.3,866.9 Z" fill="#DDA0DD"/>
<path d="M334.0,857.3 A390.0,390.0 0 0 1 337.3,853.9 L343.7,860.2 A381.0,381.0 0 0 0 340.5,863.5 Z" fill="#D8BFD8"/>
<path d="M337.3,853.9 A390.0,390.0 0 0 1 340.7,850.5 L347.0,856.9 A381.0,381.0 0 0 0 343.7,860.2 Z" fill="#D2691E"/>
<path d="M340.7,850.5 A390.0,390.0 0 0 1 344.1,847.2 L350.3,853.6 A381.0,381.0 0 0 0 347.0,856.9 Z" fill="#8B3A2F"/>
<path d="M344.1,847.2 A390.0,390.0 0 0 1 347.5,843.9 L353.7,850.4 A381.0,381.0 0 0 0 350.3,853.6 Z" fill="#8B4513"/>
<path d="M347.5,843.9 A390.0,390.0 0 0 1 351.0,840.6 L357.1,847.2 A381.0,381.0 0 0 0 353.7,850.4 Z" fill="#98FB98"/>
<path d="M351.0,840.6 A390.0,390.0 0 0 1 354.5,837.4 L360.6,844.1 A381.0,381.0 0 0 0 357.1,847.2 Z" fill="#A2CD5A"/>
<path d="M354.5,837.4 A390.0,390.0 0 0 1 358.1,834.3 L364.0,841.0 A381.0,381.0 0 0 0 360.6,844.1 Z" fill="#548B54"/>
<path d="M358.1,834.3 A390.0,390.0 0 0 1 361.7,831.1 L367.6,838.0 A381.0,381.0 0 0 0 364.0,841.0 Z" fill="#FFD700"/>
<path d="M361.7,831.1 A390.0,390.0 0 0 1 365.4,828.1 L371.1,835.0 A381.0,381.0 0 0 0 367.6,838.0 Z" fill="#EEDC82"/>
<path d="M365.4,828.1 A390.0,390.0 0 0 1 369.0,825.0 L374.7,832.0 A381.0,381.0 0 0 0 371.1,835.0 Z" fill="#141414"/>
<path d="M369.0,825.0 A390.0,390.0 0 0 1 372.8,822.1 L378.3,829.1 A381.0,381.0 0 0 0 374.7,832.0 Z" fill="#00FFFF"/>
<path d="M372.8,822.1 A390.0,390.0 0 0 1 376.5,819.1 L382.0,826.2 A381.0,381.0 0 0 0 378.3,829.1 Z" fill="#00CED1"/>
<path d="M376.5,819.1 A390.0,390.0 0 0 1 380.3,816.2 L385.7,823.4 A381.0,381.0 0 0 0 382.0,826.2 Z" fill="#008B8B"/>
<path d="M380.3,816.2 A390.0,390.0 0 0 1 384.1,813.4 L389.4,820.6 A381.0,381.0 0 0 0 385.7,823.4 Z" fill="#EE82EE"/>
<path d="M459.8,769.9 A390.0,390.0 0 0 1 464.1,768.1 L467.6,776.4 A381.0,381.0 0 0 0 463.4,778.2 Z" fill="#EE82EE"/>
<path d="M464.1,768.1 A390.0,390.0 0 0 1 468.5,766.3 L471.8,774.6 A381.0,381.0 0 0 0 467.6,776.4 Z" fill="#DDA0DD"/>
<path d="M468.5,766.3 A390.0,390.0 0 0 1 472.8,764.5 L476.1,772.9 A381.0,381.0 0 0 0 471.8,774.6 Z" fill="#D8BFD8"/>
<path d="M472.8,764.5 A390.0,390.0 0 0 1 477.2,762.9 L480.4,771.3 A381.0,381.0 0 0 0 476.1,772.9 Z" fill="#8B3A2F"/>
<path d="M477.2,762.9 A390.0,390.0 0 0 1 481.6,761.2 L484.7,769.7 A381.0,381.0 0 0 0 480.4,771.3 Z" fill="#8B4513"/>
<path d="M481.6,761.2 A390.0,390.0 0 0 1 486.0,759.6 L489.0,768.1 A381.0,381.0 0 0 0 484.7,769.7 Z" fill="#98FB98"/>
<path d="M486.0,759.6 A390.0,390.0 0 0 1 490.4,758.1 L493.3,766.7 A381.0,381.0 0 0 0 489.0,768.1 Z" fill="#A2CD5A"/>
<path d="M490.4,758.1 A390.0,390.0 0 0 1 494.9,756.7 L497.7,765.2 A381.0,381.0 0 0 0 493.3,766.7 Z" fill="#548B54"/>
<path d="M494.9,756.7 A390.0,390.0 0 0 1 499.4,755.2 L502.0,763.8 A381.0,381.0 0 0 0 497.7,765.2 Z" fill="#FFD700"/>
<path d="M499.4,755.2 A390.0,390.0 0 0 1 503.9,753.9 L506.4,762.5 A381.0,381.0 0 0 0 502.0,763.8 Z" fill="#EEDC82"/>
<path d="M503.9,753.9 A390.0,390.0 0 0 1 508.4,752.6 L510.8,761.2 A381.0,381.0 0 0 0 506.4,762.5 Z" fill="#CDAD00"/>
<path d="M508.4,752.6 A390.0,390.0 0 0 1 512.9,751.3 L515.2,760.0 A381.0,381.0 0 0 0 510.8,761.2 Z" fill="#00FFFF"/>
<path d="M512.9,751.3 A390.0,390.0 0 0 1 517.4,750.1 L519.7,758.8 A381.0,381.0 0 0 0 515.2,760.0 Z" fill="#00CED1"/>
<path d="M517.4,750.1 A390.0,390.0 0 0 1 522.0,749.0 L524.1,757.7 A381.0,381.0 0 0 0 519.7,758.8 Z" fill="#008B8B"/>
<path d="M599.0,738.0 A390.0,390.0 0 0 1 603.8,737.9 L604.1,746.9 A381.0,381.0 0 0 0 599.4,747.0 Z" fill="#008B8B"/>
<path d="M603.8,737.9 A390.0,390.0 0 0 1 608.6,737.8 L608.7,746.8 A381.0,381.0 0 0 0 604.1,746.9 Z" fill="#EE82EE"/>
<path d="M608.6,737.8 A390.0,390.0 0 0 1 613.4,737.7 L613.4,746.7 A381.0,381.0 0 0 0 608.7,746.8 Z" fill="#DDA0DD"/>
<path d="M613.4,737.7 A390.0,390.0 0 0 1 618.2,737.7 L618.1,746.7 A381.0,381.0 0 0 0 613.4,746.7 Z" fill="#D8BFD8"/>
<path d="M618.2,737.7 A390.0,390.0 0 0 1 622.9,737.8 L622.8,746.8 A381.0,381.0 0 0 0 618.1,746.7 Z" fill="#8B3A2F"/>
<path d="M622.9,737.8 A390.0,390.0 0 0 1 627.7,737.9 L627.4,746.9 A381.0,381.0 0 0 0 622.8,746.8 Z" fill="#98FB98"/>
<path d="M627.7,737.9 A390.0,390.0 0 0 1 632.5,738.1 L632.1,747.1 A381.0,381.0 0 0 0 627.4,746.9 Z" fill="#A2CD5A"/>
<path d="M632.5,738.1 A390.0,390.0 0 0 1 637.3,738.3 L636.8,747.3 A381.0,381.0 0 0 0 632.1,747.1 Z" fill="#548B54"/>
<path d="M637.3,738.3 A390.0,390.0 0 0 1 642.1,738.6 L641.4,747.6 A381.0,381.0 0 0 0 636.8,747.3 Z" fill="#FFD700"/>
<path d="M642.1,738.6 A390.0,390.0 0 0 1 646.8,739.0 L646.1,748.0 A381.0,381.0 0 0 0 641.4,747.6 Z" fill="#EEDC82"/>
<path d="M646.8,739.0 A390.0,390.0 0 0 1 651.6,739.4 L650.8,748.4 A381.0,381.0 0 0 0 646.1,748.0 Z" fill="#CDAD00"/>
<path d="M651.6,739.4 A390.0,390.0 0 0 1 656.4,739.9 L655.4,748.9 A381.0,381.0 0 0 0 650.8,748.4 Z" fill="#7F7F7F"/>
<path d="M656.4,739.9 A390.0,390.0 0 0 1 661.1,740.4 L660.1,749.4 A381.0,381.0 0 0 0 655.4,748.9 Z" fill="#333333"/>
<path d="M661.1,740.4 A390.0,390.0 0 0 1 665.9,741.0 L664.7,750.0 A381.0,381.0 0 0 0 660.1,749.4 Z" fill="#00FFFF"/>
<path d="M665.9,741.0 A390.0,390.0 0 0 1 670.6,741.7 L669.3,750.6 A381.0,381.0 0 0 0 664.7,750.0 Z" fill="#00CED1"/>
<path d="M741.6,758.8 A390.0,390.0 0 0 1 746.1,760.4 L743.1,768.9 A381.0,381.0 0 0 0 738.7,767.3 Z" fill="#00CED1"/>
<path d="M746.1,760.4 A390.0,390.0 0 0 1 750.6,762.0 L747.5,770.5 A381.0,381.0 0 0 0 743.1,768.9 Z" fill="#008B8B"/>
<path d="M750.6,762.0 A390.0,390.0 0 0 1 755.0,763.7 L751.8,772.1 A381.0,381.0 0 0 0 747.5,770.5 Z" fill="#EE82EE"/>
<path d="M755.0,763.7 A390.0,390.0 0 0 1 759.4,765.4 L756.1,773.8 A381.0,381.0 0 0 0 751.8,772.1 Z" fill="#DDA0DD"/>
<path d="M759.4,765.4 A390.0,390.0 0 0 1 763.8,767.2 L760.4,775.5 A381.0,381.0 0 0 0 756.1,773.8 Z" fill="#D8BFD8"/>
<path d="M763.8,767.2 A390.0,390.0 0 0 1 768.2,769.0 L764.7,777.3 A381.0,381.0 0 0 0 760.4,775.5 Z" fill="#D2691E"/>
<path d="M768.2,769.0 A390.0,390.0 0 0 1 772.5,770.9 L768.9,779.2 A381.0,381.0 0 0 0 764.7,777.3 Z" fill="#8B3A2F"/>
<path d="M772.5,770.9 A390.0,390.0 0 0 1 776.9,772.9 L773.1,781.1 A381.0,381.0 0 0 0 768.9,779.2 Z" fill="#8B4513"/>
<path d="M776.9,772.9 A390.0,390.0 0 0 1 781.2,774.9 L777.3,783.0 A381.0,381.0 0 0 0 773.1,781.1 Z" fill="#98FB98"/>
<path d="M781.2,774.9 A390.0,390.0 0 0 1 785.5,776.9 L781.5,785.0 A381.0,381.0 0 0 0 777.3,783.0 Z" fill="#A2CD5A"/>
<path d="M785.5,776.9 A390.0,390.0 0 0 1 789.7,779.0 L785.7,787.1 A381.0,381.0 0 0 0 781.5,785.0 Z" fill="#548B54"/>
<path d="M789.7,779.0 A390.0,390.0 0 0 1 793.9,781.2 L789.8,789.2 A381.0,381.0 0 0 0 785.7,787.1 Z" fill="#FFD700"/>
<path d="M793.9,781.2 A390.0,390.0 0 0 1 798.1,783.4 L793.9,791.3 A381.0,381.0 0 0 0 789.8,789.2 Z" fill="#EEDC82"/>
<path d="M798.1,783.4 A390.0,390.0 0 0 1 802.3,785.6 L798.0,793.5 A381.0,381.0 0 0 0 793.9,791.3 Z" fill="#CDAD00"/>
<path d="M802.3,785.6 A390.0,390.0 0 0 1 806.5,787.9 L802.0,795.8 A381.0,381.0 0 0 0 798.0,793.5 Z" fill="#00FFFF"/>
<path d="M870.1,832.7 A390.0,390.0 0 0 1 873.7,835.9 L867.8,842.6 A381.0,381.0 0 0 0 864.2,839.5 Z" fill="#008B8B"/>
<path d="M873.7,835.9 A390.0,390.0 0 0 1 877.4,839.1 L871.3,845.8 A381.0,381.0 0 0 0 867.8,842.6 Z" fill="#EE82EE"/>
<path d="M877.4,839.1 A390.0,390.0 0 0 1 880.9,842.4 L874.8,849.0 A381.0,381.0 0 0 0 871.3,845.8 Z" fill="#DDA0DD"/>
<path d="M880.9,842.4 A390.0,390.0 0 0 1 884.5,845.8 L878.2,852.3 A381.0,381.0 0 0 0 874.8,849.0 Z" fill="#D8BFD8"/>
<path d="M884.5,845.8 A390.0,390.0 0 0 1 888.0,849.1 L881.7,855.6 A381.0,381.0 0 0 0 878.2,852.3 Z" fill="#8B3A2F"/>
<path d="M888.0,849.1 A390.0,390.0 0 0 1 891.4,852.6 L885.0,858.9 A381.0,381.0 0 0 0 881.7,855.6 Z" fill="#98FB98"/>
<path d="M891.4,852.6 A390.0,390.0 0 0 1 894.8,856.0 L888.4,862.3 A381.0,381.0 0 0 0 885.0,858.9 Z" fill="#A2CD5A"/>
<path d="M894.8,856.0 A390.0,390.0 0 0 1 898.2,859.5 L891.6,865.7 A381.0,381.0 0 0 0 888.4,862.3 Z" fill="#548B54"/>
<path d="M898.2,859.5 A390.0,390.0 0 0 1 901.5,863.1 L894.9,869.2 A381.0,381.0 0 0 0 891.6,865.7 Z" fill="#141414"/>
<path d="M901.5,863.1 A390.0,390.0 0 0 1 904.8,866.7 L898.1,872.7 A381.0,381.0 0 0 0 894.9,869.2 Z" fill="#7F7F7F"/>
<path d="M904.8,866.7 A390.0,390.0 0 0 1 908.0,870.3 L901.2,876.2 A381.0,381.0 0 0 0 898.1,872.7 Z" fill="#333333"/>
<path d="M937.9,909.1 A390.0,390.0 0 0 1 940.6,913.1 L933.1,918.0 A381.0,381.0 0 0 0 930.5,914.1 Z" fill="#333333"/>
<path d="M940.6,913.1 A390.0,390.0 0 0 1 943.2,917.1 L935.7,921.9 A381.0,381.0 0 0 0 933.1,918.0 Z" fill="#00CED1"/>
<path d="M943.2,917.1 A390.0,390.0 0 0 1 945.8,921.2 L938.2,925.9 A381.0,381.0 0 0 0 935.7,921.9 Z" fill="#EE82EE"/>
<path d="M945.8,921.2 A390.0,390.0 0 0 1 948.3,925.3 L940.6,929.9 A381.0,381.0 0 0 0 938.2,925.9 Z" fill="#DDA0DD"/>
<path d="M948.3,925.3 A390.0,390.0 0 0 1 950.8,929.4 L943.1,934.0 A381.0,381.0 0 0 0 940.6,929.9 Z" fill="#D8BFD8"/>
<path d="M950.8,929.4 A390.0,390.0 0 0 1 953.2,933.5 L945.4,938.0 A381.0,381.0 0 0 0 943.1,934.0 Z" fill="#8B3A2F"/>
<path d="M953.2,933.5 A390.0,390.0 0 0 1 955.6,937.7 L947.7,942.1 A381.0,381.0 0 0 0 945.4,938.0 Z" fill="#8B4513"/>
<path d="M955.6,937.7 A390.0,390.0 0 0 1 957.9,941.9 L950.0,946.2 A381.0,381.0 0 0 0 947.7,942.1 Z" fill="#98FB98"/>
<path d="M957.9,941.9 A390.0,390.0 0 0 1 960.2,946.2 L952.2,950.4 A381.0,381.0 0 0 0 950.0,946.2 Z" fill="#A2CD5A"/>
<path d="M960.2,946.2 A390.0,390.0 0 0 1 962.4,950.5 L954.4,954.6 A381.0,381.0 0 0 0 952.2,950.4 Z" fill="#548B54"/>
<path d="M962.4,950.5 A390.0,390.0 0 0 1 964.6,954.8 L956.5,958.8 A381.0,381.0 0 0 0 954.4,954.6 Z" fill="#EEDC82"/>
<path d="M964.6,954.8 A390.0,390.0 0 0 1 966.7,959.1 L958.6,963.0 A381.0,381.0 0 0 0 956.5,958.8 Z" fill="#CDAD00"/>
<path d="M966.7,959.1 A390.0,390.0 0 0 1 968.7,963.5 L960.6,967.2 A381.0,381.0 0 0 0 958.6,963.0 Z" fill="#141414"/>
<path d="M968.7,963.5 A390.0,390.0 0 0 1 970.7,967.8 L962.5,971.5 A381.0,381.0 0 0 0 960.6,967.2 Z" fill="#7F7F7F"/>
<path d="M990.5,1022.5 A390.0,390.0 0 0 1 991.8,1027.1 L983.1,1029.4 A381.0,381.0 0 0 0 981.9,1024.9 Z" fill="#7F7F7F"/>
<path d="M991.8,1027.1 A390.0,390.0 0 0 1 993.0,1031.6 L984.3,1033.9 A381.0,381.0 0 0 0 983.1,1029.4 Z" fill="#333333"/>
<path d="M993.0,1031.6 A390.0,390.0 0 0 1 994.1,1036.2 L985.4,1038.3 A381.0,381.0 0 0 0 984.3,1033.9 Z" fill="#00FFFF"/>
<path d="M994.1,1036.2 A390.0,390.0 0 0 1 995.2,1040.8 L986.4,1042.8 A381.0,381.0 0 0 0 985.4,1038.3 Z" fill="#8B3A2F"/>
<path d="M995.2,1040.8 A390.0,390.0 0 0 1 996.2,1045.4 L987.4,1047.3 A381.0,381.0 0 0 0 986.4,1042.8 Z" fill="#8B4513"/>
<path d="M996.2,1045.4 A390.0,390.0 0 0 1 997.2,1050.1 L988.4,1051.9 A381.0,381.0 0 0 0 987.4,1047.3 Z" fill="#98FB98"/>
<path d="M997.2,1050.1 A390.0,390.0 0 0 1 998.1,1054.7 L989.3,1056.4 A381.0,381.0 0 0 0 988.4,1051.9 Z" fill="#A2CD5A"/>
<path d="M998.1,1054.7 A390.0,390.0 0 0 1 999.0,1059.4 L990.1,1061.0 A381.0,381.0 0 0 0 989.3,1056.4 Z" fill="#548B54"/>
<path d="M999.0,1059.4 A390.0,390.0 0 0 1 999.8,1064.0 L990.9,1065.5 A381.0,381.0 0 0 0 990.1,1061.0 Z" fill="#FFD700"/>
<path d="M999.8,1064.0 A390.0,390.0 0 0 1 1000.5,1068.7 L991.6,1070.1 A381.0,381.0 0 0 0 990.9,1065.5 Z" fill="#141414"/>
<path d="M1043.6,1127.7 A428.6,428.6 0 0 1 1032.3,1225.6 L1006.0,1219.4 A401.6,401.6 0 0 0 1016.6,1127.7 Z" fill="#CDAD00"/>
<path d="M1030.4,1233.2 A428.6,428.6 0 0 1 985.2,1343.6 L961.9,1330.0 A401.6,401.6 0 0 0 1004.2,1226.6 Z" fill="#EEDC82"/>
<path d="M981.2,1350.4 A428.6,428.6 0 0 1 905.1,1443.2 L886.8,1423.3 A401.6,401.6 0 0 0 958.2,1336.3 Z" fill="#FFD700"/>
<path d="M899.6,1448.2 A428.6,428.6 0 0 1 751.7,1533.9 L743.1,1508.3 A401.6,401.6 0 0 0 881.6,1428.0 Z" fill="#548B54"/>
<path d="M744.6,1536.2 A428.6,428.6 0 0 1 564.3,1553.3 L567.4,1526.5 A401.6,401.6 0 0 0 736.4,1510.5 Z" fill="#A2CD5A"/>
<path d="M556.5,1552.3 A428.6,428.6 0 0 1 386.0,1490.0 L400.4,1467.2 A401.6,401.6 0 0 0 560.1,1525.5 Z" fill="#98FB98"/>
<path d="M379.7,1485.9 A428.6,428.6 0 0 1 279.8,1394.8 L300.9,1378.0 A401.6,401.6 0 0 0 394.5,1463.4 Z" fill="#8B4513"/>
<path d="M275.2,1388.9 A428.6,428.6 0 0 1 206.0,1255.9 L231.8,1247.8 A401.6,401.6 0 0 0 296.6,1372.5 Z" fill="#8B3A2F"/>
<path d="M203.5,1247.6 A428.6,428.6 0 0 1 187.7,1161.3 L214.6,1159.2 A401.6,401.6 0 0 0 229.4,1240.1 Z" fill="#D2691E"/>
<path d="M187.2,1153.1 A428.6,428.6 0 0 1 207.6,994.5 L233.3,1002.9 A401.6,401.6 0 0 0 214.1,1151.5 Z" fill="#D8BFD8"/>
<path d="M210.2,986.7 A428.6,428.6 0 0 1 297.0,840.4 L317.0,858.5 A401.6,401.6 0 0 0 235.7,995.6 Z" fill="#DDA0DD"/>
<path d="M302.6,834.3 A428.6,428.6 0 0 1 436.9,737.8 L448.1,762.4 A401.6,401.6 0 0 0 322.2,852.8 Z" fill="#EE82EE"/>
<path d="M444.4,734.5 A428.6,428.6 0 0 1 590.3,699.8 L591.9,726.8 A401.6,401.6 0 0 0 455.2,759.3 Z" fill="#008B8B"/>
<path d="M597.4,699.5 A428.6,428.6 0 0 1 746.7,719.8 L738.4,745.5 A401.6,401.6 0 0 0 598.5,726.4 Z" fill="#00CED1"/>
<path d="M754.2,722.3 A428.6,428.6 0 0 1 889.9,798.9 L872.6,819.6 A401.6,401.6 0 0 0 745.4,747.9 Z" fill="#00FFFF"/>
<path d="M895.3,803.5 A428.6,428.6 0 0 1 965.2,880.6 L943.2,896.2 A401.6,401.6 0 0 0 877.7,823.9 Z" fill="#333333"/>
<path d="M969.9,887.4 A428.6,428.6 0 0 1 1025.3,1003.8 L999.5,1011.6 A401.6,401.6 0 0 0 947.5,902.5 Z" fill="#7F7F7F"/>
<path d="M1027.7,1012.1 A428.6,428.6 0 0 1 1043.5,1119.5 L1016.5,1120.0 A401.6,401.6 0 0 0 1001.7,1019.4 Z" fill="#141414"/>
<g font-family="Liberation Sans, Arial, sans-serif" font-size="26.2" fill="#000" text-anchor="middle">
<text x="1062.0" y="1179.4" transform="rotate(-83.4 1062.0 1179.4)" dy="9.4">LH_G</text>
<text x="1031.5" y="1298.1" transform="rotate(-67.8 1031.5 1298.1)" dy="9.4">SH_G</text>
<text x="963.0" y="1413.0" transform="rotate(-50.6 963.0 1413.0)" dy="9.4">SM_G</text>
<text x="840.7" y="1517.0" transform="rotate(-30.1 840.7 1517.0)" dy="9.4">LH_Go</text>
<text x="657.3" y="1575.7" transform="rotate(-5.4 657.3 1575.7)" dy="9.4">SH_Go</text>
<text x="460.5" y="1550.4" transform="rotate(20.1 460.5 1550.4)" dy="9.4">SM_Go</text>
<text x="311.7" y="1460.1" transform="rotate(42.4 311.7 1460.1)" dy="9.4">LH_C</text>
<text x="215.8" y="1335.3" transform="rotate(62.5 215.8 1335.3)" dy="9.4">SH_C</text>
<text x="172.4" y="1208.7" transform="rotate(79.6 172.4 1208.7)" dy="9.4">SM_C</text>
<text x="168.7" y="1070.1" transform="rotate(-82.7 168.7 1070.1)" dy="9.4">LH_K</text>
<text x="227.9" y="898.3" transform="rotate(-59.4 227.9 898.3)" dy="9.4">SH_K</text>
<text x="352.6" y="762.1" transform="rotate(-35.7 352.6 762.1)" dy="9.4">SM_K</text>
<text x="510.9" y="689.9" transform="rotate(-13.4 510.9 689.9)" dy="9.4">LH_M</text>
<text x="675.9" y="681.8" transform="rotate(7.8 675.9 681.8)" dy="9.4">SH_M</text>
<text x="836.1" y="735.8" transform="rotate(29.4 836.1 735.8)" dy="9.4">SM_M</text>
<text x="948.5" y="825.6" transform="rotate(47.8 948.5 825.6)" dy="9.4">LH_NT</text>
<text x="1021.3" y="934.3" transform="rotate(64.5 1021.3 934.3)" dy="9.4">SH_NT</text>
<text x="1060.2" y="1062.2" transform="rotate(81.6 1060.2 1062.2)" dy="9.4">SM_NT</text>
</g>
</g><g font-family="DejaVu Sans, Liberation Sans, sans-serif" font-size="16" fill="#000" text-anchor="middle">
<text x="87" y="13.5">70.0</text>
<text x="87" y="637">70.0</text>
<text x="256" y="13.5">80.0</text>
<text x="256" y="637">80.0</text>
<text x="425" y="13.5">90.0</text>
<text x="425" y="637">90.0</text>
</g>
<g font-family="DejaVu Sans, Liberation Sans, sans-serif" font-size="16" fill="#000">
<text x="33" y="191.5" text-anchor="end">30.0</text>
<text x="569.5" y="191.5">30.0</text>
<text x="33" y="360.5" text-anchor="end">20.0</text>
<text x="569.5" y="360.5">20.0</text>
<text x="33" y="529.5" text-anchor="end">10.0</text>
<text x="569.5" y="529.5">10.0</text>
</g>
<text x="63.4" y="69.2" font-family="DejaVu Sans, Liberation Sans, sans-serif" font-size="28.4">(a)</text>
<path d="M470,61 L470,91.5" fill="none" stroke="#999" stroke-width="0.8"/>
<path d="M470,60.5 L449.5,100.5 L470,91.5 L490.5,100.5 Z" fill="none" stroke="#111" stroke-width="0.75" stroke-linejoin="miter"/>
<rect x="431" y="132.5" width="77" height="9.5" fill="#fff" stroke="#000" stroke-width="0.8"/>
<rect x="431" y="132.5" width="39" height="9.5" fill="#000"/>
<g font-family="DejaVu Sans, Liberation Sans, sans-serif" font-size="13.2" letter-spacing="0.25" fill="#000" text-anchor="middle">
<text x="432.5" y="122.5">0</text><text x="471.5" y="122.5">250</text><text x="523.5" y="122.5">500 km</text></g>
<text x="306.5" y="439.5" font-family="DejaVu Sans, Liberation Sans, sans-serif" font-size="17.2" letter-spacing="0.38">River Basins</text>
<g font-family="DejaVu Sans, Liberation Sans, sans-serif" font-size="13.2" letter-spacing="0.25" fill="#000">
<rect x="306.5" y="454.7" width="23" height="12.6" fill="#808e92" stroke="#333" stroke-width="0.6"/>
<text x="336" y="465.7">Narmada_Tapi (NT)</text>
<rect x="306.5" y="475.5" width="23" height="12.6" fill="#8f512d" stroke="#333" stroke-width="0.6"/>
<text x="336" y="486.5">Mahanadi (M)</text>
<rect x="306.5" y="496.3" width="23" height="12.6" fill="#c2b59b" stroke="#333" stroke-width="0.6"/>
<text x="336" y="507.3">Krishna (K)</text>
<rect x="306.5" y="517.1" width="23" height="12.6" fill="#c63b3b" stroke="#333" stroke-width="0.6"/>
<text x="336" y="528.1">Godavari (GO)</text>
<rect x="306.5" y="537.9" width="23" height="12.6" fill="#e8b432" stroke="#333" stroke-width="0.6"/>
<text x="336" y="548.9">Ganga (G)</text>
<rect x="306.5" y="558.7" width="23" height="12.6" fill="#e35a8d" stroke="#333" stroke-width="0.6"/>
<text x="336" y="569.7">Cauvery (C)</text>
<rect x="306.5" y="579.5" width="23" height="12.6" fill="#ffffff" stroke="#333" stroke-width="0.6"/>
<text x="336" y="590.5">India boundary</text>
</g>
<text x="663.5" y="62" font-family="DejaVu Sans, Liberation Sans, sans-serif" font-size="28.4">(b)</text>
<defs><linearGradient id="blues" x1="0" y1="1" x2="0" y2="0">
<stop offset="0.000" stop-color="#f7fbff"/>
<stop offset="0.125" stop-color="#deebf7"/>
<stop offset="0.250" stop-color="#c6dbef"/>
<stop offset="0.375" stop-color="#9ecae1"/>
<stop offset="0.500" stop-color="#6baed6"/>
<stop offset="0.625" stop-color="#4292c6"/>
<stop offset="0.750" stop-color="#2171b5"/>
<stop offset="0.875" stop-color="#08519c"/>
<stop offset="1.000" stop-color="#08306b"/>
</linearGradient></defs>
<rect x="1118.5" y="20.5" width="23.6" height="604" fill="url(#blues)" stroke="#000" stroke-width="1.5"/>
<g stroke="#000" stroke-width="1.5">
<line x1="1142.8" y1="624.5" x2="1149.8" y2="624.5"/>
<line x1="1142.8" y1="503.7" x2="1149.8" y2="503.7"/>
<line x1="1142.8" y1="382.9" x2="1149.8" y2="382.9"/>
<line x1="1142.8" y1="262.1" x2="1149.8" y2="262.1"/>
<line x1="1142.8" y1="141.3" x2="1149.8" y2="141.3"/>
<line x1="1142.8" y1="20.5" x2="1149.8" y2="20.5"/>
</g>
<g font-family="DejaVu Sans, Liberation Sans, sans-serif" font-size="22" fill="#000">
<text x="1156.8" y="632.6">0</text>
<text x="1156.8" y="511.8">20</text>
<text x="1156.8" y="391.0">40</text>
<text x="1156.8" y="270.2">60</text>
<text x="1156.8" y="149.4">80</text>
<text x="1156.8" y="28.6">100</text>
</g>
<text x="201.6" y="701.6" font-family="Liberation Sans, Arial, sans-serif" font-size="30.9">(c)</text>
</svg>
</body></html>
